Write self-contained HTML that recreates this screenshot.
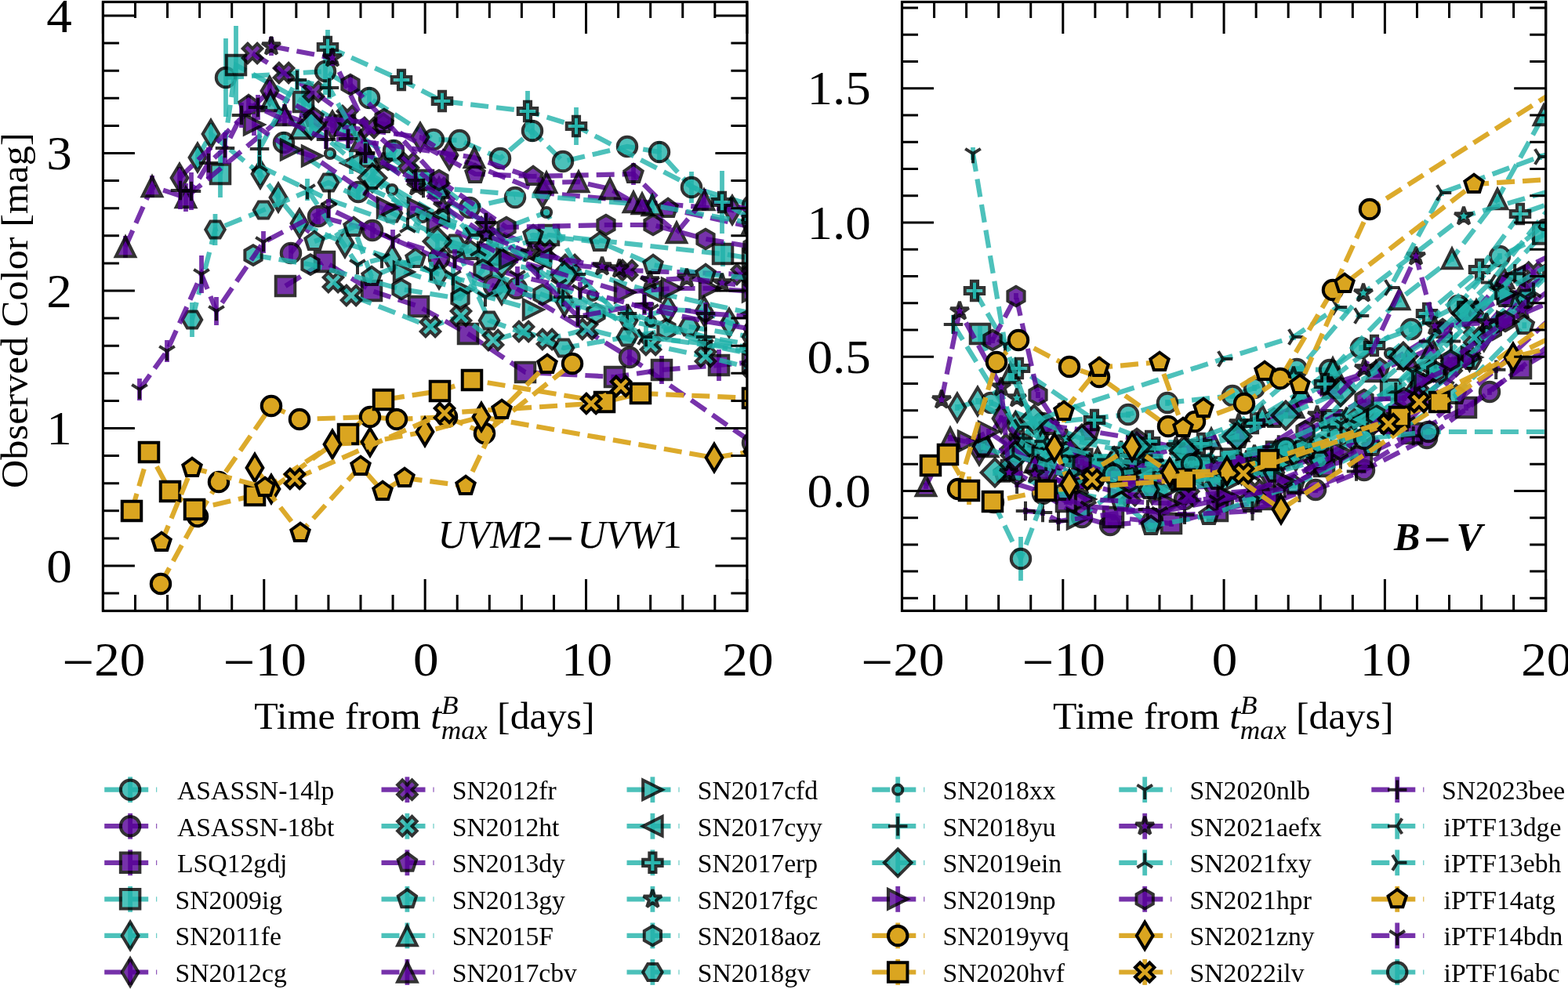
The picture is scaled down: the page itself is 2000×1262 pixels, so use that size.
<!DOCTYPE html><html><head><meta charset="utf-8"><style>html,body{margin:0;padding:0;background:#fff;}svg{display:block;}</style></head><body><svg width="2000" height="1262" viewBox="0 0 2000 1262" font-family='"Liberation Serif", "Times New Roman", serif'>
<rect width="2000" height="1262" fill="#fff"/>
<clipPath id="clipL"><rect x="131.4" y="2.5" width="821.5" height="777.0"/></clipPath>
<clipPath id="clipR"><rect x="1150.5" y="2.5" width="821.2" height="776.9"/></clipPath>
<g clip-path="url(#clipL)">
<path d="M288.0 99.0L415.0 91.0L471.0 125.0L553.0 178.0L586.0 179.0L638.0 202.0L679.0 167.0L718.0 206.0L800.0 187.0L841.0 194.0L882.0 239.0L960.0 262.0" stroke="#20b2aa" stroke-width="6.2" stroke-dasharray="23 10" fill="none" opacity="0.8"/>
<path d="M288.0 49.0V149.0M415.0 61.0V121.0M471.0 111.0V139.0M679.0 153.0V181.0M841.0 180.0V208.0M882.0 219.0V259.0" stroke="#20b2aa" stroke-width="5.8" fill="none" opacity="0.8"/>
<g opacity="0.8"><circle cx="288.0" cy="99.0" r="12.25" fill="#20b2aa" stroke="#000" stroke-width="4.0"/></g>
<g opacity="0.8"><circle cx="415.0" cy="91.0" r="12.25" fill="#20b2aa" stroke="#000" stroke-width="4.0"/></g>
<g opacity="0.8"><circle cx="471.0" cy="125.0" r="12.25" fill="#20b2aa" stroke="#000" stroke-width="4.0"/></g>
<g opacity="0.8"><circle cx="553.0" cy="178.0" r="12.25" fill="#20b2aa" stroke="#000" stroke-width="4.0"/></g>
<g opacity="0.8"><circle cx="586.0" cy="179.0" r="12.25" fill="#20b2aa" stroke="#000" stroke-width="4.0"/></g>
<g opacity="0.8"><circle cx="638.0" cy="202.0" r="12.25" fill="#20b2aa" stroke="#000" stroke-width="4.0"/></g>
<g opacity="0.8"><circle cx="679.0" cy="167.0" r="12.25" fill="#20b2aa" stroke="#000" stroke-width="4.0"/></g>
<g opacity="0.8"><circle cx="718.0" cy="206.0" r="12.25" fill="#20b2aa" stroke="#000" stroke-width="4.0"/></g>
<g opacity="0.8"><circle cx="800.0" cy="187.0" r="12.25" fill="#20b2aa" stroke="#000" stroke-width="4.0"/></g>
<g opacity="0.8"><circle cx="841.0" cy="194.0" r="12.25" fill="#20b2aa" stroke="#000" stroke-width="4.0"/></g>
<g opacity="0.8"><circle cx="882.0" cy="239.0" r="12.25" fill="#20b2aa" stroke="#000" stroke-width="4.0"/></g>
<g opacity="0.8"><circle cx="960.0" cy="262.0" r="12.25" fill="#20b2aa" stroke="#000" stroke-width="4.0"/></g>
<path d="M362.0 182.0L457.0 245.0L502.0 192.0L599.0 265.0L657.0 252.0" stroke="#20b2aa" stroke-width="6.2" stroke-dasharray="23 10" fill="none" opacity="0.8"/>
<path d="M362.0 168.0V196.0M457.0 235.0V255.0M502.0 178.0V206.0" stroke="#20b2aa" stroke-width="5.8" fill="none" opacity="0.8"/>
<g opacity="0.8"><circle cx="362.0" cy="182.0" r="12.25" fill="#20b2aa" stroke="#000" stroke-width="4.0"/></g>
<g opacity="0.8"><circle cx="457.0" cy="245.0" r="12.25" fill="#20b2aa" stroke="#000" stroke-width="4.0"/></g>
<g opacity="0.8"><circle cx="502.0" cy="192.0" r="12.25" fill="#20b2aa" stroke="#000" stroke-width="4.0"/></g>
<g opacity="0.8"><circle cx="599.0" cy="265.0" r="12.25" fill="#20b2aa" stroke="#000" stroke-width="4.0"/></g>
<g opacity="0.8"><circle cx="657.0" cy="252.0" r="12.25" fill="#20b2aa" stroke="#000" stroke-width="4.0"/></g>
<path d="M371.0 323.0L406.0 276.0L475.0 294.0L560.0 330.0L630.0 365.0L659.0 368.0L803.0 456.0L960.0 565.0" stroke="#550096" stroke-width="6.2" stroke-dasharray="23 10" fill="none" opacity="0.8"/>
<path d="M371.0 311.0V335.0M406.0 266.0V286.0M475.0 284.0V304.0M803.0 446.0V466.0" stroke="#550096" stroke-width="5.8" fill="none" opacity="0.8"/>
<g opacity="0.8"><circle cx="371.0" cy="323.0" r="12.25" fill="#550096" stroke="#000" stroke-width="4.0"/></g>
<g opacity="0.8"><circle cx="406.0" cy="276.0" r="12.25" fill="#550096" stroke="#000" stroke-width="4.0"/></g>
<g opacity="0.8"><circle cx="475.0" cy="294.0" r="12.25" fill="#550096" stroke="#000" stroke-width="4.0"/></g>
<g opacity="0.8"><circle cx="560.0" cy="330.0" r="12.25" fill="#550096" stroke="#000" stroke-width="4.0"/></g>
<g opacity="0.8"><circle cx="630.0" cy="365.0" r="12.25" fill="#550096" stroke="#000" stroke-width="4.0"/></g>
<g opacity="0.8"><circle cx="659.0" cy="368.0" r="12.25" fill="#550096" stroke="#000" stroke-width="4.0"/></g>
<g opacity="0.8"><circle cx="803.0" cy="456.0" r="12.25" fill="#550096" stroke="#000" stroke-width="4.0"/></g>
<g opacity="0.8"><circle cx="960.0" cy="565.0" r="12.25" fill="#550096" stroke="#000" stroke-width="4.0"/></g>
<path d="M364.0 365.0L414.0 334.0L474.0 371.0L534.0 391.0L597.0 426.0L670.0 475.0L784.0 481.0L844.0 472.0L917.0 466.0L960.0 462.0" stroke="#550096" stroke-width="6.2" stroke-dasharray="23 10" fill="none" opacity="0.8"/>
<path d="M844.0 454.0V490.0M917.0 446.0V486.0" stroke="#550096" stroke-width="5.8" fill="none" opacity="0.8"/>
<g opacity="0.8"><path transform="translate(364.0 365.0)" d="M-12.25 -12.25L12.25 -12.25L12.25 12.25L-12.25 12.25Z" fill="#550096" stroke="#000" stroke-width="4.0" stroke-linejoin="miter"/></g>
<g opacity="0.8"><path transform="translate(414.0 334.0)" d="M-12.25 -12.25L12.25 -12.25L12.25 12.25L-12.25 12.25Z" fill="#550096" stroke="#000" stroke-width="4.0" stroke-linejoin="miter"/></g>
<g opacity="0.8"><path transform="translate(474.0 371.0)" d="M-12.25 -12.25L12.25 -12.25L12.25 12.25L-12.25 12.25Z" fill="#550096" stroke="#000" stroke-width="4.0" stroke-linejoin="miter"/></g>
<g opacity="0.8"><path transform="translate(534.0 391.0)" d="M-12.25 -12.25L12.25 -12.25L12.25 12.25L-12.25 12.25Z" fill="#550096" stroke="#000" stroke-width="4.0" stroke-linejoin="miter"/></g>
<g opacity="0.8"><path transform="translate(597.0 426.0)" d="M-12.25 -12.25L12.25 -12.25L12.25 12.25L-12.25 12.25Z" fill="#550096" stroke="#000" stroke-width="4.0" stroke-linejoin="miter"/></g>
<g opacity="0.8"><path transform="translate(670.0 475.0)" d="M-12.25 -12.25L12.25 -12.25L12.25 12.25L-12.25 12.25Z" fill="#550096" stroke="#000" stroke-width="4.0" stroke-linejoin="miter"/></g>
<g opacity="0.8"><path transform="translate(784.0 481.0)" d="M-12.25 -12.25L12.25 -12.25L12.25 12.25L-12.25 12.25Z" fill="#550096" stroke="#000" stroke-width="4.0" stroke-linejoin="miter"/></g>
<g opacity="0.8"><path transform="translate(844.0 472.0)" d="M-12.25 -12.25L12.25 -12.25L12.25 12.25L-12.25 12.25Z" fill="#550096" stroke="#000" stroke-width="4.0" stroke-linejoin="miter"/></g>
<g opacity="0.8"><path transform="translate(917.0 466.0)" d="M-12.25 -12.25L12.25 -12.25L12.25 12.25L-12.25 12.25Z" fill="#550096" stroke="#000" stroke-width="4.0" stroke-linejoin="miter"/></g>
<g opacity="0.8"><path transform="translate(960.0 462.0)" d="M-12.25 -12.25L12.25 -12.25L12.25 12.25L-12.25 12.25Z" fill="#550096" stroke="#000" stroke-width="4.0" stroke-linejoin="miter"/></g>
<path d="M281.0 222.0L301.0 83.0L387.0 130.0L440.0 160.0L540.0 230.0L622.0 325.0L700.0 300.0L922.0 324.0L960.0 330.0" stroke="#20b2aa" stroke-width="6.2" stroke-dasharray="23 10" fill="none" opacity="0.8"/>
<path d="M281.0 192.0V252.0M301.0 33.0V133.0M387.0 110.0V150.0M440.0 146.0V174.0M922.0 308.0V340.0" stroke="#20b2aa" stroke-width="5.8" fill="none" opacity="0.8"/>
<g opacity="0.8"><path transform="translate(281.0 222.0)" d="M-12.25 -12.25L12.25 -12.25L12.25 12.25L-12.25 12.25Z" fill="#20b2aa" stroke="#000" stroke-width="4.0" stroke-linejoin="miter"/></g>
<g opacity="0.8"><path transform="translate(301.0 83.0)" d="M-12.25 -12.25L12.25 -12.25L12.25 12.25L-12.25 12.25Z" fill="#20b2aa" stroke="#000" stroke-width="4.0" stroke-linejoin="miter"/></g>
<g opacity="0.8"><path transform="translate(387.0 130.0)" d="M-12.25 -12.25L12.25 -12.25L12.25 12.25L-12.25 12.25Z" fill="#20b2aa" stroke="#000" stroke-width="4.0" stroke-linejoin="miter"/></g>
<g opacity="0.8"><path transform="translate(440.0 160.0)" d="M-12.25 -12.25L12.25 -12.25L12.25 12.25L-12.25 12.25Z" fill="#20b2aa" stroke="#000" stroke-width="4.0" stroke-linejoin="miter"/></g>
<g opacity="0.8"><path transform="translate(540.0 230.0)" d="M-12.25 -12.25L12.25 -12.25L12.25 12.25L-12.25 12.25Z" fill="#20b2aa" stroke="#000" stroke-width="4.0" stroke-linejoin="miter"/></g>
<g opacity="0.8"><path transform="translate(622.0 325.0)" d="M-12.25 -12.25L12.25 -12.25L12.25 12.25L-12.25 12.25Z" fill="#20b2aa" stroke="#000" stroke-width="4.0" stroke-linejoin="miter"/></g>
<g opacity="0.8"><path transform="translate(700.0 300.0)" d="M-12.25 -12.25L12.25 -12.25L12.25 12.25L-12.25 12.25Z" fill="#20b2aa" stroke="#000" stroke-width="4.0" stroke-linejoin="miter"/></g>
<g opacity="0.8"><path transform="translate(922.0 324.0)" d="M-12.25 -12.25L12.25 -12.25L12.25 12.25L-12.25 12.25Z" fill="#20b2aa" stroke="#000" stroke-width="4.0" stroke-linejoin="miter"/></g>
<g opacity="0.8"><path transform="translate(960.0 330.0)" d="M-12.25 -12.25L12.25 -12.25L12.25 12.25L-12.25 12.25Z" fill="#20b2aa" stroke="#000" stroke-width="4.0" stroke-linejoin="miter"/></g>
<path d="M252.0 201.0L269.0 171.0L332.0 222.0L355.0 252.0L382.0 285.0L440.0 310.0L500.0 330.0L560.0 350.0L640.0 370.0L720.0 385.0L802.0 409.0L852.0 395.0L898.0 397.0L930.0 412.0L960.0 420.0" stroke="#20b2aa" stroke-width="6.2" stroke-dasharray="23 10" fill="none" opacity="0.8"/>
<path d="M252.0 187.0V215.0M269.0 157.0V185.0M332.0 208.0V236.0M355.0 240.0V264.0M382.0 273.0V297.0" stroke="#20b2aa" stroke-width="5.8" fill="none" opacity="0.8"/>
<g opacity="0.8"><path transform="translate(252.0 201.0)" d="M0.00 -17.32L10.39 0.00L0.00 17.32L-10.39 0.00Z" fill="#20b2aa" stroke="#000" stroke-width="4.0" stroke-linejoin="miter"/></g>
<g opacity="0.8"><path transform="translate(269.0 171.0)" d="M0.00 -17.32L10.39 0.00L0.00 17.32L-10.39 0.00Z" fill="#20b2aa" stroke="#000" stroke-width="4.0" stroke-linejoin="miter"/></g>
<g opacity="0.8"><path transform="translate(332.0 222.0)" d="M0.00 -17.32L10.39 0.00L0.00 17.32L-10.39 0.00Z" fill="#20b2aa" stroke="#000" stroke-width="4.0" stroke-linejoin="miter"/></g>
<g opacity="0.8"><path transform="translate(355.0 252.0)" d="M0.00 -17.32L10.39 0.00L0.00 17.32L-10.39 0.00Z" fill="#20b2aa" stroke="#000" stroke-width="4.0" stroke-linejoin="miter"/></g>
<g opacity="0.8"><path transform="translate(382.0 285.0)" d="M0.00 -17.32L10.39 0.00L0.00 17.32L-10.39 0.00Z" fill="#20b2aa" stroke="#000" stroke-width="4.0" stroke-linejoin="miter"/></g>
<g opacity="0.8"><path transform="translate(440.0 310.0)" d="M0.00 -17.32L10.39 0.00L0.00 17.32L-10.39 0.00Z" fill="#20b2aa" stroke="#000" stroke-width="4.0" stroke-linejoin="miter"/></g>
<g opacity="0.8"><path transform="translate(500.0 330.0)" d="M0.00 -17.32L10.39 0.00L0.00 17.32L-10.39 0.00Z" fill="#20b2aa" stroke="#000" stroke-width="4.0" stroke-linejoin="miter"/></g>
<g opacity="0.8"><path transform="translate(560.0 350.0)" d="M0.00 -17.32L10.39 0.00L0.00 17.32L-10.39 0.00Z" fill="#20b2aa" stroke="#000" stroke-width="4.0" stroke-linejoin="miter"/></g>
<g opacity="0.8"><path transform="translate(640.0 370.0)" d="M0.00 -17.32L10.39 0.00L0.00 17.32L-10.39 0.00Z" fill="#20b2aa" stroke="#000" stroke-width="4.0" stroke-linejoin="miter"/></g>
<g opacity="0.8"><path transform="translate(720.0 385.0)" d="M0.00 -17.32L10.39 0.00L0.00 17.32L-10.39 0.00Z" fill="#20b2aa" stroke="#000" stroke-width="4.0" stroke-linejoin="miter"/></g>
<g opacity="0.8"><path transform="translate(802.0 409.0)" d="M0.00 -17.32L10.39 0.00L0.00 17.32L-10.39 0.00Z" fill="#20b2aa" stroke="#000" stroke-width="4.0" stroke-linejoin="miter"/></g>
<g opacity="0.8"><path transform="translate(852.0 395.0)" d="M0.00 -17.32L10.39 0.00L0.00 17.32L-10.39 0.00Z" fill="#20b2aa" stroke="#000" stroke-width="4.0" stroke-linejoin="miter"/></g>
<g opacity="0.8"><path transform="translate(898.0 397.0)" d="M0.00 -17.32L10.39 0.00L0.00 17.32L-10.39 0.00Z" fill="#20b2aa" stroke="#000" stroke-width="4.0" stroke-linejoin="miter"/></g>
<g opacity="0.8"><path transform="translate(930.0 412.0)" d="M0.00 -17.32L10.39 0.00L0.00 17.32L-10.39 0.00Z" fill="#20b2aa" stroke="#000" stroke-width="4.0" stroke-linejoin="miter"/></g>
<g opacity="0.8"><path transform="translate(960.0 420.0)" d="M0.00 -17.32L10.39 0.00L0.00 17.32L-10.39 0.00Z" fill="#20b2aa" stroke="#000" stroke-width="4.0" stroke-linejoin="miter"/></g>
<path d="M229.0 227.0L344.0 116.0L424.0 160.0L536.0 175.0L573.0 198.0L692.0 246.0L934.0 268.0L960.0 280.0" stroke="#550096" stroke-width="6.2" stroke-dasharray="23 10" fill="none" opacity="0.8"/>
<path d="M229.0 213.0V241.0M344.0 102.0V130.0M424.0 150.0V170.0" stroke="#550096" stroke-width="5.8" fill="none" opacity="0.8"/>
<g opacity="0.8"><path transform="translate(229.0 227.0)" d="M0.00 -17.32L10.39 0.00L0.00 17.32L-10.39 0.00Z" fill="#550096" stroke="#000" stroke-width="4.0" stroke-linejoin="miter"/></g>
<g opacity="0.8"><path transform="translate(344.0 116.0)" d="M0.00 -17.32L10.39 0.00L0.00 17.32L-10.39 0.00Z" fill="#550096" stroke="#000" stroke-width="4.0" stroke-linejoin="miter"/></g>
<g opacity="0.8"><path transform="translate(424.0 160.0)" d="M0.00 -17.32L10.39 0.00L0.00 17.32L-10.39 0.00Z" fill="#550096" stroke="#000" stroke-width="4.0" stroke-linejoin="miter"/></g>
<g opacity="0.8"><path transform="translate(536.0 175.0)" d="M0.00 -17.32L10.39 0.00L0.00 17.32L-10.39 0.00Z" fill="#550096" stroke="#000" stroke-width="4.0" stroke-linejoin="miter"/></g>
<g opacity="0.8"><path transform="translate(573.0 198.0)" d="M0.00 -17.32L10.39 0.00L0.00 17.32L-10.39 0.00Z" fill="#550096" stroke="#000" stroke-width="4.0" stroke-linejoin="miter"/></g>
<g opacity="0.8"><path transform="translate(692.0 246.0)" d="M0.00 -17.32L10.39 0.00L0.00 17.32L-10.39 0.00Z" fill="#550096" stroke="#000" stroke-width="4.0" stroke-linejoin="miter"/></g>
<g opacity="0.8"><path transform="translate(934.0 268.0)" d="M0.00 -17.32L10.39 0.00L0.00 17.32L-10.39 0.00Z" fill="#550096" stroke="#000" stroke-width="4.0" stroke-linejoin="miter"/></g>
<g opacity="0.8"><path transform="translate(960.0 280.0)" d="M0.00 -17.32L10.39 0.00L0.00 17.32L-10.39 0.00Z" fill="#550096" stroke="#000" stroke-width="4.0" stroke-linejoin="miter"/></g>
<path d="M322.0 68.0L362.0 93.0L400.0 117.0L443.0 148.0L471.0 163.0L521.0 208.0L560.0 240.0L620.0 290.0L695.0 320.0L727.0 338.0L800.0 345.0L946.0 350.0L960.0 352.0" stroke="#550096" stroke-width="6.2" stroke-dasharray="23 10" fill="none" opacity="0.8"/>
<g opacity="0.8"><path transform="translate(322.0 68.0)" d="M-6.12 -12.25L0.00 -6.12L6.12 -12.25L12.25 -6.12L6.12 0.00L12.25 6.12L6.12 12.25L0.00 6.12L-6.12 12.25L-12.25 6.12L-6.12 0.00L-12.25 -6.12Z" fill="#550096" stroke="#000" stroke-width="4.0" stroke-linejoin="miter"/></g>
<g opacity="0.8"><path transform="translate(362.0 93.0)" d="M-6.12 -12.25L0.00 -6.12L6.12 -12.25L12.25 -6.12L6.12 0.00L12.25 6.12L6.12 12.25L0.00 6.12L-6.12 12.25L-12.25 6.12L-6.12 0.00L-12.25 -6.12Z" fill="#550096" stroke="#000" stroke-width="4.0" stroke-linejoin="miter"/></g>
<g opacity="0.8"><path transform="translate(400.0 117.0)" d="M-6.12 -12.25L0.00 -6.12L6.12 -12.25L12.25 -6.12L6.12 0.00L12.25 6.12L6.12 12.25L0.00 6.12L-6.12 12.25L-12.25 6.12L-6.12 0.00L-12.25 -6.12Z" fill="#550096" stroke="#000" stroke-width="4.0" stroke-linejoin="miter"/></g>
<g opacity="0.8"><path transform="translate(443.0 148.0)" d="M-6.12 -12.25L0.00 -6.12L6.12 -12.25L12.25 -6.12L6.12 0.00L12.25 6.12L6.12 12.25L0.00 6.12L-6.12 12.25L-12.25 6.12L-6.12 0.00L-12.25 -6.12Z" fill="#550096" stroke="#000" stroke-width="4.0" stroke-linejoin="miter"/></g>
<g opacity="0.8"><path transform="translate(471.0 163.0)" d="M-6.12 -12.25L0.00 -6.12L6.12 -12.25L12.25 -6.12L6.12 0.00L12.25 6.12L6.12 12.25L0.00 6.12L-6.12 12.25L-12.25 6.12L-6.12 0.00L-12.25 -6.12Z" fill="#550096" stroke="#000" stroke-width="4.0" stroke-linejoin="miter"/></g>
<g opacity="0.8"><path transform="translate(521.0 208.0)" d="M-6.12 -12.25L0.00 -6.12L6.12 -12.25L12.25 -6.12L6.12 0.00L12.25 6.12L6.12 12.25L0.00 6.12L-6.12 12.25L-12.25 6.12L-6.12 0.00L-12.25 -6.12Z" fill="#550096" stroke="#000" stroke-width="4.0" stroke-linejoin="miter"/></g>
<g opacity="0.8"><path transform="translate(560.0 240.0)" d="M-6.12 -12.25L0.00 -6.12L6.12 -12.25L12.25 -6.12L6.12 0.00L12.25 6.12L6.12 12.25L0.00 6.12L-6.12 12.25L-12.25 6.12L-6.12 0.00L-12.25 -6.12Z" fill="#550096" stroke="#000" stroke-width="4.0" stroke-linejoin="miter"/></g>
<g opacity="0.8"><path transform="translate(620.0 290.0)" d="M-6.12 -12.25L0.00 -6.12L6.12 -12.25L12.25 -6.12L6.12 0.00L12.25 6.12L6.12 12.25L0.00 6.12L-6.12 12.25L-12.25 6.12L-6.12 0.00L-12.25 -6.12Z" fill="#550096" stroke="#000" stroke-width="4.0" stroke-linejoin="miter"/></g>
<g opacity="0.8"><path transform="translate(695.0 320.0)" d="M-6.12 -12.25L0.00 -6.12L6.12 -12.25L12.25 -6.12L6.12 0.00L12.25 6.12L6.12 12.25L0.00 6.12L-6.12 12.25L-12.25 6.12L-6.12 0.00L-12.25 -6.12Z" fill="#550096" stroke="#000" stroke-width="4.0" stroke-linejoin="miter"/></g>
<g opacity="0.8"><path transform="translate(727.0 338.0)" d="M-6.12 -12.25L0.00 -6.12L6.12 -12.25L12.25 -6.12L6.12 0.00L12.25 6.12L6.12 12.25L0.00 6.12L-6.12 12.25L-12.25 6.12L-6.12 0.00L-12.25 -6.12Z" fill="#550096" stroke="#000" stroke-width="4.0" stroke-linejoin="miter"/></g>
<g opacity="0.8"><path transform="translate(800.0 345.0)" d="M-6.12 -12.25L0.00 -6.12L6.12 -12.25L12.25 -6.12L6.12 0.00L12.25 6.12L6.12 12.25L0.00 6.12L-6.12 12.25L-12.25 6.12L-6.12 0.00L-12.25 -6.12Z" fill="#550096" stroke="#000" stroke-width="4.0" stroke-linejoin="miter"/></g>
<g opacity="0.8"><path transform="translate(946.0 350.0)" d="M-6.12 -12.25L0.00 -6.12L6.12 -12.25L12.25 -6.12L6.12 0.00L12.25 6.12L6.12 12.25L0.00 6.12L-6.12 12.25L-12.25 6.12L-6.12 0.00L-12.25 -6.12Z" fill="#550096" stroke="#000" stroke-width="4.0" stroke-linejoin="miter"/></g>
<g opacity="0.8"><path transform="translate(960.0 352.0)" d="M-6.12 -12.25L0.00 -6.12L6.12 -12.25L12.25 -6.12L6.12 0.00L12.25 6.12L6.12 12.25L0.00 6.12L-6.12 12.25L-12.25 6.12L-6.12 0.00L-12.25 -6.12Z" fill="#550096" stroke="#000" stroke-width="4.0" stroke-linejoin="miter"/></g>
<path d="M425.0 360.0L448.0 377.0L549.0 417.0L588.0 403.0L629.0 434.0L668.0 423.0L698.0 433.0L749.0 420.0L830.0 440.0L900.0 455.0L960.0 470.0" stroke="#20b2aa" stroke-width="6.2" stroke-dasharray="23 10" fill="none" opacity="0.8"/>
<g opacity="0.8"><path transform="translate(425.0 360.0)" d="M-6.12 -12.25L0.00 -6.12L6.12 -12.25L12.25 -6.12L6.12 0.00L12.25 6.12L6.12 12.25L0.00 6.12L-6.12 12.25L-12.25 6.12L-6.12 0.00L-12.25 -6.12Z" fill="#20b2aa" stroke="#000" stroke-width="4.0" stroke-linejoin="miter"/></g>
<g opacity="0.8"><path transform="translate(448.0 377.0)" d="M-6.12 -12.25L0.00 -6.12L6.12 -12.25L12.25 -6.12L6.12 0.00L12.25 6.12L6.12 12.25L0.00 6.12L-6.12 12.25L-12.25 6.12L-6.12 0.00L-12.25 -6.12Z" fill="#20b2aa" stroke="#000" stroke-width="4.0" stroke-linejoin="miter"/></g>
<g opacity="0.8"><path transform="translate(549.0 417.0)" d="M-6.12 -12.25L0.00 -6.12L6.12 -12.25L12.25 -6.12L6.12 0.00L12.25 6.12L6.12 12.25L0.00 6.12L-6.12 12.25L-12.25 6.12L-6.12 0.00L-12.25 -6.12Z" fill="#20b2aa" stroke="#000" stroke-width="4.0" stroke-linejoin="miter"/></g>
<g opacity="0.8"><path transform="translate(588.0 403.0)" d="M-6.12 -12.25L0.00 -6.12L6.12 -12.25L12.25 -6.12L6.12 0.00L12.25 6.12L6.12 12.25L0.00 6.12L-6.12 12.25L-12.25 6.12L-6.12 0.00L-12.25 -6.12Z" fill="#20b2aa" stroke="#000" stroke-width="4.0" stroke-linejoin="miter"/></g>
<g opacity="0.8"><path transform="translate(629.0 434.0)" d="M-6.12 -12.25L0.00 -6.12L6.12 -12.25L12.25 -6.12L6.12 0.00L12.25 6.12L6.12 12.25L0.00 6.12L-6.12 12.25L-12.25 6.12L-6.12 0.00L-12.25 -6.12Z" fill="#20b2aa" stroke="#000" stroke-width="4.0" stroke-linejoin="miter"/></g>
<g opacity="0.8"><path transform="translate(668.0 423.0)" d="M-6.12 -12.25L0.00 -6.12L6.12 -12.25L12.25 -6.12L6.12 0.00L12.25 6.12L6.12 12.25L0.00 6.12L-6.12 12.25L-12.25 6.12L-6.12 0.00L-12.25 -6.12Z" fill="#20b2aa" stroke="#000" stroke-width="4.0" stroke-linejoin="miter"/></g>
<g opacity="0.8"><path transform="translate(698.0 433.0)" d="M-6.12 -12.25L0.00 -6.12L6.12 -12.25L12.25 -6.12L6.12 0.00L12.25 6.12L6.12 12.25L0.00 6.12L-6.12 12.25L-12.25 6.12L-6.12 0.00L-12.25 -6.12Z" fill="#20b2aa" stroke="#000" stroke-width="4.0" stroke-linejoin="miter"/></g>
<g opacity="0.8"><path transform="translate(749.0 420.0)" d="M-6.12 -12.25L0.00 -6.12L6.12 -12.25L12.25 -6.12L6.12 0.00L12.25 6.12L6.12 12.25L0.00 6.12L-6.12 12.25L-12.25 6.12L-6.12 0.00L-12.25 -6.12Z" fill="#20b2aa" stroke="#000" stroke-width="4.0" stroke-linejoin="miter"/></g>
<g opacity="0.8"><path transform="translate(830.0 440.0)" d="M-6.12 -12.25L0.00 -6.12L6.12 -12.25L12.25 -6.12L6.12 0.00L12.25 6.12L6.12 12.25L0.00 6.12L-6.12 12.25L-12.25 6.12L-6.12 0.00L-12.25 -6.12Z" fill="#20b2aa" stroke="#000" stroke-width="4.0" stroke-linejoin="miter"/></g>
<g opacity="0.8"><path transform="translate(900.0 455.0)" d="M-6.12 -12.25L0.00 -6.12L6.12 -12.25L12.25 -6.12L6.12 0.00L12.25 6.12L6.12 12.25L0.00 6.12L-6.12 12.25L-12.25 6.12L-6.12 0.00L-12.25 -6.12Z" fill="#20b2aa" stroke="#000" stroke-width="4.0" stroke-linejoin="miter"/></g>
<g opacity="0.8"><path transform="translate(960.0 470.0)" d="M-6.12 -12.25L0.00 -6.12L6.12 -12.25L12.25 -6.12L6.12 0.00L12.25 6.12L6.12 12.25L0.00 6.12L-6.12 12.25L-12.25 6.12L-6.12 0.00L-12.25 -6.12Z" fill="#20b2aa" stroke="#000" stroke-width="4.0" stroke-linejoin="miter"/></g>
<path d="M317.0 134.0L400.0 150.0L489.0 158.0L606.0 222.0L680.0 225.0L808.0 222.0L852.0 266.0L960.0 290.0" stroke="#550096" stroke-width="6.2" stroke-dasharray="23 10" fill="none" opacity="0.8"/>
<path d="M317.0 122.0V146.0M808.0 208.0V236.0" stroke="#550096" stroke-width="5.8" fill="none" opacity="0.8"/>
<g opacity="0.8"><path transform="translate(317.0 134.0)" d="M0.00 -12.25L-11.65 -3.79L-7.20 9.91L7.20 9.91L11.65 -3.79Z" fill="#550096" stroke="#000" stroke-width="4.0" stroke-linejoin="miter"/></g>
<g opacity="0.8"><path transform="translate(400.0 150.0)" d="M0.00 -12.25L-11.65 -3.79L-7.20 9.91L7.20 9.91L11.65 -3.79Z" fill="#550096" stroke="#000" stroke-width="4.0" stroke-linejoin="miter"/></g>
<g opacity="0.8"><path transform="translate(489.0 158.0)" d="M0.00 -12.25L-11.65 -3.79L-7.20 9.91L7.20 9.91L11.65 -3.79Z" fill="#550096" stroke="#000" stroke-width="4.0" stroke-linejoin="miter"/></g>
<g opacity="0.8"><path transform="translate(606.0 222.0)" d="M0.00 -12.25L-11.65 -3.79L-7.20 9.91L7.20 9.91L11.65 -3.79Z" fill="#550096" stroke="#000" stroke-width="4.0" stroke-linejoin="miter"/></g>
<g opacity="0.8"><path transform="translate(680.0 225.0)" d="M0.00 -12.25L-11.65 -3.79L-7.20 9.91L7.20 9.91L11.65 -3.79Z" fill="#550096" stroke="#000" stroke-width="4.0" stroke-linejoin="miter"/></g>
<g opacity="0.8"><path transform="translate(808.0 222.0)" d="M0.00 -12.25L-11.65 -3.79L-7.20 9.91L7.20 9.91L11.65 -3.79Z" fill="#550096" stroke="#000" stroke-width="4.0" stroke-linejoin="miter"/></g>
<g opacity="0.8"><path transform="translate(852.0 266.0)" d="M0.00 -12.25L-11.65 -3.79L-7.20 9.91L7.20 9.91L11.65 -3.79Z" fill="#550096" stroke="#000" stroke-width="4.0" stroke-linejoin="miter"/></g>
<g opacity="0.8"><path transform="translate(960.0 290.0)" d="M0.00 -12.25L-11.65 -3.79L-7.20 9.91L7.20 9.91L11.65 -3.79Z" fill="#550096" stroke="#000" stroke-width="4.0" stroke-linejoin="miter"/></g>
<path d="M401.0 308.0L451.0 290.0L474.0 353.0L530.0 330.0L600.0 320.0L680.0 300.0L765.0 309.0L833.0 338.0L900.0 350.0L960.0 355.0" stroke="#20b2aa" stroke-width="6.2" stroke-dasharray="23 10" fill="none" opacity="0.8"/>
<g opacity="0.8"><path transform="translate(401.0 308.0)" d="M0.00 -12.25L-11.65 -3.79L-7.20 9.91L7.20 9.91L11.65 -3.79Z" fill="#20b2aa" stroke="#000" stroke-width="4.0" stroke-linejoin="miter"/></g>
<g opacity="0.8"><path transform="translate(451.0 290.0)" d="M0.00 -12.25L-11.65 -3.79L-7.20 9.91L7.20 9.91L11.65 -3.79Z" fill="#20b2aa" stroke="#000" stroke-width="4.0" stroke-linejoin="miter"/></g>
<g opacity="0.8"><path transform="translate(474.0 353.0)" d="M0.00 -12.25L-11.65 -3.79L-7.20 9.91L7.20 9.91L11.65 -3.79Z" fill="#20b2aa" stroke="#000" stroke-width="4.0" stroke-linejoin="miter"/></g>
<g opacity="0.8"><path transform="translate(530.0 330.0)" d="M0.00 -12.25L-11.65 -3.79L-7.20 9.91L7.20 9.91L11.65 -3.79Z" fill="#20b2aa" stroke="#000" stroke-width="4.0" stroke-linejoin="miter"/></g>
<g opacity="0.8"><path transform="translate(600.0 320.0)" d="M0.00 -12.25L-11.65 -3.79L-7.20 9.91L7.20 9.91L11.65 -3.79Z" fill="#20b2aa" stroke="#000" stroke-width="4.0" stroke-linejoin="miter"/></g>
<g opacity="0.8"><path transform="translate(680.0 300.0)" d="M0.00 -12.25L-11.65 -3.79L-7.20 9.91L7.20 9.91L11.65 -3.79Z" fill="#20b2aa" stroke="#000" stroke-width="4.0" stroke-linejoin="miter"/></g>
<g opacity="0.8"><path transform="translate(765.0 309.0)" d="M0.00 -12.25L-11.65 -3.79L-7.20 9.91L7.20 9.91L11.65 -3.79Z" fill="#20b2aa" stroke="#000" stroke-width="4.0" stroke-linejoin="miter"/></g>
<g opacity="0.8"><path transform="translate(833.0 338.0)" d="M0.00 -12.25L-11.65 -3.79L-7.20 9.91L7.20 9.91L11.65 -3.79Z" fill="#20b2aa" stroke="#000" stroke-width="4.0" stroke-linejoin="miter"/></g>
<g opacity="0.8"><path transform="translate(900.0 350.0)" d="M0.00 -12.25L-11.65 -3.79L-7.20 9.91L7.20 9.91L11.65 -3.79Z" fill="#20b2aa" stroke="#000" stroke-width="4.0" stroke-linejoin="miter"/></g>
<g opacity="0.8"><path transform="translate(960.0 355.0)" d="M0.00 -12.25L-11.65 -3.79L-7.20 9.91L7.20 9.91L11.65 -3.79Z" fill="#20b2aa" stroke="#000" stroke-width="4.0" stroke-linejoin="miter"/></g>
<path d="M345.0 129.0L383.0 164.0L470.0 200.0L560.0 240.0L832.0 262.0L960.0 285.0" stroke="#20b2aa" stroke-width="6.2" stroke-dasharray="23 10" fill="none" opacity="0.8"/>
<path d="M832.0 248.0V276.0" stroke="#20b2aa" stroke-width="5.8" fill="none" opacity="0.8"/>
<g opacity="0.8"><path transform="translate(345.0 129.0)" d="M0.00 -12.25L12.25 12.25L-12.25 12.25Z" fill="#20b2aa" stroke="#000" stroke-width="4.0" stroke-linejoin="miter"/></g>
<g opacity="0.8"><path transform="translate(383.0 164.0)" d="M0.00 -12.25L12.25 12.25L-12.25 12.25Z" fill="#20b2aa" stroke="#000" stroke-width="4.0" stroke-linejoin="miter"/></g>
<g opacity="0.8"><path transform="translate(470.0 200.0)" d="M0.00 -12.25L12.25 12.25L-12.25 12.25Z" fill="#20b2aa" stroke="#000" stroke-width="4.0" stroke-linejoin="miter"/></g>
<g opacity="0.8"><path transform="translate(560.0 240.0)" d="M0.00 -12.25L12.25 12.25L-12.25 12.25Z" fill="#20b2aa" stroke="#000" stroke-width="4.0" stroke-linejoin="miter"/></g>
<g opacity="0.8"><path transform="translate(832.0 262.0)" d="M0.00 -12.25L12.25 12.25L-12.25 12.25Z" fill="#20b2aa" stroke="#000" stroke-width="4.0" stroke-linejoin="miter"/></g>
<g opacity="0.8"><path transform="translate(960.0 285.0)" d="M0.00 -12.25L12.25 12.25L-12.25 12.25Z" fill="#20b2aa" stroke="#000" stroke-width="4.0" stroke-linejoin="miter"/></g>
<path d="M160.0 315.0L194.0 238.0L237.0 252.0L363.0 147.0L460.0 180.0L605.0 201.0L697.0 233.0L738.0 232.0L778.0 241.0L808.0 258.0L819.0 260.0L863.0 297.0L898.0 255.0L960.0 268.0" stroke="#550096" stroke-width="6.2" stroke-dasharray="23 10" fill="none" opacity="0.8"/>
<path d="M160.0 301.0V329.0M194.0 224.0V252.0M237.0 234.0V270.0M363.0 133.0V161.0M898.0 241.0V269.0" stroke="#550096" stroke-width="5.8" fill="none" opacity="0.8"/>
<g opacity="0.8"><path transform="translate(160.0 315.0)" d="M0.00 -12.25L12.25 12.25L-12.25 12.25Z" fill="#550096" stroke="#000" stroke-width="4.0" stroke-linejoin="miter"/></g>
<g opacity="0.8"><path transform="translate(194.0 238.0)" d="M0.00 -12.25L12.25 12.25L-12.25 12.25Z" fill="#550096" stroke="#000" stroke-width="4.0" stroke-linejoin="miter"/></g>
<g opacity="0.8"><path transform="translate(237.0 252.0)" d="M0.00 -12.25L12.25 12.25L-12.25 12.25Z" fill="#550096" stroke="#000" stroke-width="4.0" stroke-linejoin="miter"/></g>
<g opacity="0.8"><path transform="translate(363.0 147.0)" d="M0.00 -12.25L12.25 12.25L-12.25 12.25Z" fill="#550096" stroke="#000" stroke-width="4.0" stroke-linejoin="miter"/></g>
<g opacity="0.8"><path transform="translate(460.0 180.0)" d="M0.00 -12.25L12.25 12.25L-12.25 12.25Z" fill="#550096" stroke="#000" stroke-width="4.0" stroke-linejoin="miter"/></g>
<g opacity="0.8"><path transform="translate(605.0 201.0)" d="M0.00 -12.25L12.25 12.25L-12.25 12.25Z" fill="#550096" stroke="#000" stroke-width="4.0" stroke-linejoin="miter"/></g>
<g opacity="0.8"><path transform="translate(697.0 233.0)" d="M0.00 -12.25L12.25 12.25L-12.25 12.25Z" fill="#550096" stroke="#000" stroke-width="4.0" stroke-linejoin="miter"/></g>
<g opacity="0.8"><path transform="translate(738.0 232.0)" d="M0.00 -12.25L12.25 12.25L-12.25 12.25Z" fill="#550096" stroke="#000" stroke-width="4.0" stroke-linejoin="miter"/></g>
<g opacity="0.8"><path transform="translate(778.0 241.0)" d="M0.00 -12.25L12.25 12.25L-12.25 12.25Z" fill="#550096" stroke="#000" stroke-width="4.0" stroke-linejoin="miter"/></g>
<g opacity="0.8"><path transform="translate(808.0 258.0)" d="M0.00 -12.25L12.25 12.25L-12.25 12.25Z" fill="#550096" stroke="#000" stroke-width="4.0" stroke-linejoin="miter"/></g>
<g opacity="0.8"><path transform="translate(819.0 260.0)" d="M0.00 -12.25L12.25 12.25L-12.25 12.25Z" fill="#550096" stroke="#000" stroke-width="4.0" stroke-linejoin="miter"/></g>
<g opacity="0.8"><path transform="translate(863.0 297.0)" d="M0.00 -12.25L12.25 12.25L-12.25 12.25Z" fill="#550096" stroke="#000" stroke-width="4.0" stroke-linejoin="miter"/></g>
<g opacity="0.8"><path transform="translate(898.0 255.0)" d="M0.00 -12.25L12.25 12.25L-12.25 12.25Z" fill="#550096" stroke="#000" stroke-width="4.0" stroke-linejoin="miter"/></g>
<g opacity="0.8"><path transform="translate(960.0 268.0)" d="M0.00 -12.25L12.25 12.25L-12.25 12.25Z" fill="#550096" stroke="#000" stroke-width="4.0" stroke-linejoin="miter"/></g>
<path d="M515.0 347.0L590.0 370.0L680.0 395.0" stroke="#20b2aa" stroke-width="6.2" stroke-dasharray="23 10" fill="none" opacity="0.8"/>
<g opacity="0.8"><path transform="translate(515.0 347.0)" d="M12.25 0.00L-12.25 -12.25L-12.25 12.25Z" fill="#20b2aa" stroke="#000" stroke-width="4.0" stroke-linejoin="miter"/></g>
<g opacity="0.8"><path transform="translate(590.0 370.0)" d="M12.25 0.00L-12.25 -12.25L-12.25 12.25Z" fill="#20b2aa" stroke="#000" stroke-width="4.0" stroke-linejoin="miter"/></g>
<g opacity="0.8"><path transform="translate(680.0 395.0)" d="M12.25 0.00L-12.25 -12.25L-12.25 12.25Z" fill="#20b2aa" stroke="#000" stroke-width="4.0" stroke-linejoin="miter"/></g>
<path d="M448.0 208.0L560.0 275.0L690.0 330.0L830.0 372.0L960.0 400.0" stroke="#20b2aa" stroke-width="6.2" stroke-dasharray="23 10" fill="none" opacity="0.8"/>
<path d="M448.0 194.0V222.0" stroke="#20b2aa" stroke-width="5.8" fill="none" opacity="0.8"/>
<g opacity="0.8"><path transform="translate(448.0 208.0)" d="M-12.25 0.00L12.25 -12.25L12.25 12.25Z" fill="#20b2aa" stroke="#000" stroke-width="4.0" stroke-linejoin="miter"/></g>
<g opacity="0.8"><path transform="translate(560.0 275.0)" d="M-12.25 0.00L12.25 -12.25L12.25 12.25Z" fill="#20b2aa" stroke="#000" stroke-width="4.0" stroke-linejoin="miter"/></g>
<g opacity="0.8"><path transform="translate(690.0 330.0)" d="M-12.25 0.00L12.25 -12.25L12.25 12.25Z" fill="#20b2aa" stroke="#000" stroke-width="4.0" stroke-linejoin="miter"/></g>
<g opacity="0.8"><path transform="translate(830.0 372.0)" d="M-12.25 0.00L12.25 -12.25L12.25 12.25Z" fill="#20b2aa" stroke="#000" stroke-width="4.0" stroke-linejoin="miter"/></g>
<g opacity="0.8"><path transform="translate(960.0 400.0)" d="M-12.25 0.00L12.25 -12.25L12.25 12.25Z" fill="#20b2aa" stroke="#000" stroke-width="4.0" stroke-linejoin="miter"/></g>
<path d="M418.0 60.0L512.0 102.0L564.0 129.0L673.0 142.0L735.0 161.0L921.0 258.0L960.0 280.0" stroke="#20b2aa" stroke-width="6.2" stroke-dasharray="23 10" fill="none" opacity="0.8"/>
<path d="M418.0 38.0V82.0M512.0 90.0V114.0M564.0 119.0V139.0M673.0 116.0V168.0M735.0 137.0V185.0M921.0 218.0V298.0" stroke="#20b2aa" stroke-width="5.8" fill="none" opacity="0.8"/>
<g opacity="0.8"><path transform="translate(418.0 60.0)" d="M-4.08 -12.25L4.08 -12.25L4.08 -4.08L12.25 -4.08L12.25 4.08L4.08 4.08L4.08 12.25L-4.08 12.25L-4.08 4.08L-12.25 4.08L-12.25 -4.08L-4.08 -4.08Z" fill="#20b2aa" stroke="#000" stroke-width="4.0" stroke-linejoin="miter"/></g>
<g opacity="0.8"><path transform="translate(512.0 102.0)" d="M-4.08 -12.25L4.08 -12.25L4.08 -4.08L12.25 -4.08L12.25 4.08L4.08 4.08L4.08 12.25L-4.08 12.25L-4.08 4.08L-12.25 4.08L-12.25 -4.08L-4.08 -4.08Z" fill="#20b2aa" stroke="#000" stroke-width="4.0" stroke-linejoin="miter"/></g>
<g opacity="0.8"><path transform="translate(564.0 129.0)" d="M-4.08 -12.25L4.08 -12.25L4.08 -4.08L12.25 -4.08L12.25 4.08L4.08 4.08L4.08 12.25L-4.08 12.25L-4.08 4.08L-12.25 4.08L-12.25 -4.08L-4.08 -4.08Z" fill="#20b2aa" stroke="#000" stroke-width="4.0" stroke-linejoin="miter"/></g>
<g opacity="0.8"><path transform="translate(673.0 142.0)" d="M-4.08 -12.25L4.08 -12.25L4.08 -4.08L12.25 -4.08L12.25 4.08L4.08 4.08L4.08 12.25L-4.08 12.25L-4.08 4.08L-12.25 4.08L-12.25 -4.08L-4.08 -4.08Z" fill="#20b2aa" stroke="#000" stroke-width="4.0" stroke-linejoin="miter"/></g>
<g opacity="0.8"><path transform="translate(735.0 161.0)" d="M-4.08 -12.25L4.08 -12.25L4.08 -4.08L12.25 -4.08L12.25 4.08L4.08 4.08L4.08 12.25L-4.08 12.25L-4.08 4.08L-12.25 4.08L-12.25 -4.08L-4.08 -4.08Z" fill="#20b2aa" stroke="#000" stroke-width="4.0" stroke-linejoin="miter"/></g>
<g opacity="0.8"><path transform="translate(921.0 258.0)" d="M-4.08 -12.25L4.08 -12.25L4.08 -4.08L12.25 -4.08L12.25 4.08L4.08 4.08L4.08 12.25L-4.08 12.25L-4.08 4.08L-12.25 4.08L-12.25 -4.08L-4.08 -4.08Z" fill="#20b2aa" stroke="#000" stroke-width="4.0" stroke-linejoin="miter"/></g>
<g opacity="0.8"><path transform="translate(960.0 280.0)" d="M-4.08 -12.25L4.08 -12.25L4.08 -4.08L12.25 -4.08L12.25 4.08L4.08 4.08L4.08 12.25L-4.08 12.25L-4.08 4.08L-12.25 4.08L-12.25 -4.08L-4.08 -4.08Z" fill="#20b2aa" stroke="#000" stroke-width="4.0" stroke-linejoin="miter"/></g>
<path d="M323.0 325.6L396.0 337.6L512.0 369.0L587.0 381.0L616.0 344.0L692.0 376.0L760.0 400.0L850.0 420.0L960.0 445.0" stroke="#20b2aa" stroke-width="6.2" stroke-dasharray="23 10" fill="none" opacity="0.8"/>
<g opacity="0.8"><path transform="translate(323.0 325.6)" d="M0.00 -12.25L-10.61 -6.12L-10.61 6.13L-0.00 12.25L10.61 6.13L10.61 -6.12Z" fill="#20b2aa" stroke="#000" stroke-width="4.0" stroke-linejoin="miter"/></g>
<g opacity="0.8"><path transform="translate(396.0 337.6)" d="M0.00 -12.25L-10.61 -6.12L-10.61 6.13L-0.00 12.25L10.61 6.13L10.61 -6.12Z" fill="#20b2aa" stroke="#000" stroke-width="4.0" stroke-linejoin="miter"/></g>
<g opacity="0.8"><path transform="translate(512.0 369.0)" d="M0.00 -12.25L-10.61 -6.12L-10.61 6.13L-0.00 12.25L10.61 6.13L10.61 -6.12Z" fill="#20b2aa" stroke="#000" stroke-width="4.0" stroke-linejoin="miter"/></g>
<g opacity="0.8"><path transform="translate(587.0 381.0)" d="M0.00 -12.25L-10.61 -6.12L-10.61 6.13L-0.00 12.25L10.61 6.13L10.61 -6.12Z" fill="#20b2aa" stroke="#000" stroke-width="4.0" stroke-linejoin="miter"/></g>
<g opacity="0.8"><path transform="translate(616.0 344.0)" d="M0.00 -12.25L-10.61 -6.12L-10.61 6.13L-0.00 12.25L10.61 6.13L10.61 -6.12Z" fill="#20b2aa" stroke="#000" stroke-width="4.0" stroke-linejoin="miter"/></g>
<g opacity="0.8"><path transform="translate(692.0 376.0)" d="M0.00 -12.25L-10.61 -6.12L-10.61 6.13L-0.00 12.25L10.61 6.13L10.61 -6.12Z" fill="#20b2aa" stroke="#000" stroke-width="4.0" stroke-linejoin="miter"/></g>
<g opacity="0.8"><path transform="translate(760.0 400.0)" d="M0.00 -12.25L-10.61 -6.12L-10.61 6.13L-0.00 12.25L10.61 6.13L10.61 -6.12Z" fill="#20b2aa" stroke="#000" stroke-width="4.0" stroke-linejoin="miter"/></g>
<g opacity="0.8"><path transform="translate(850.0 420.0)" d="M0.00 -12.25L-10.61 -6.12L-10.61 6.13L-0.00 12.25L10.61 6.13L10.61 -6.12Z" fill="#20b2aa" stroke="#000" stroke-width="4.0" stroke-linejoin="miter"/></g>
<g opacity="0.8"><path transform="translate(960.0 445.0)" d="M0.00 -12.25L-10.61 -6.12L-10.61 6.13L-0.00 12.25L10.61 6.13L10.61 -6.12Z" fill="#20b2aa" stroke="#000" stroke-width="4.0" stroke-linejoin="miter"/></g>
<path d="M245.0 408.0L274.5 293.0L336.0 268.0L419.0 233.0L500.0 272.0L580.0 311.0L624.0 409.0L719.0 444.0L800.0 430.0L879.0 417.0L960.0 430.0" stroke="#20b2aa" stroke-width="6.2" stroke-dasharray="23 10" fill="none" opacity="0.8"/>
<path d="M245.0 386.0V430.0M274.5 273.0V313.0" stroke="#20b2aa" stroke-width="5.8" fill="none" opacity="0.8"/>
<g opacity="0.8"><path transform="translate(245.0 408.0)" d="M-6.12 -10.61L-12.25 -0.00L-6.13 10.61L6.13 10.61L12.25 0.00L6.12 -10.61Z" fill="#20b2aa" stroke="#000" stroke-width="4.0" stroke-linejoin="miter"/></g>
<g opacity="0.8"><path transform="translate(274.5 293.0)" d="M-6.12 -10.61L-12.25 -0.00L-6.13 10.61L6.13 10.61L12.25 0.00L6.12 -10.61Z" fill="#20b2aa" stroke="#000" stroke-width="4.0" stroke-linejoin="miter"/></g>
<g opacity="0.8"><path transform="translate(336.0 268.0)" d="M-6.12 -10.61L-12.25 -0.00L-6.13 10.61L6.13 10.61L12.25 0.00L6.12 -10.61Z" fill="#20b2aa" stroke="#000" stroke-width="4.0" stroke-linejoin="miter"/></g>
<g opacity="0.8"><path transform="translate(419.0 233.0)" d="M-6.12 -10.61L-12.25 -0.00L-6.13 10.61L6.13 10.61L12.25 0.00L6.12 -10.61Z" fill="#20b2aa" stroke="#000" stroke-width="4.0" stroke-linejoin="miter"/></g>
<g opacity="0.8"><path transform="translate(500.0 272.0)" d="M-6.12 -10.61L-12.25 -0.00L-6.13 10.61L6.13 10.61L12.25 0.00L6.12 -10.61Z" fill="#20b2aa" stroke="#000" stroke-width="4.0" stroke-linejoin="miter"/></g>
<g opacity="0.8"><path transform="translate(580.0 311.0)" d="M-6.12 -10.61L-12.25 -0.00L-6.13 10.61L6.13 10.61L12.25 0.00L6.12 -10.61Z" fill="#20b2aa" stroke="#000" stroke-width="4.0" stroke-linejoin="miter"/></g>
<g opacity="0.8"><path transform="translate(624.0 409.0)" d="M-6.12 -10.61L-12.25 -0.00L-6.13 10.61L6.13 10.61L12.25 0.00L6.12 -10.61Z" fill="#20b2aa" stroke="#000" stroke-width="4.0" stroke-linejoin="miter"/></g>
<g opacity="0.8"><path transform="translate(719.0 444.0)" d="M-6.12 -10.61L-12.25 -0.00L-6.13 10.61L6.13 10.61L12.25 0.00L6.12 -10.61Z" fill="#20b2aa" stroke="#000" stroke-width="4.0" stroke-linejoin="miter"/></g>
<g opacity="0.8"><path transform="translate(800.0 430.0)" d="M-6.12 -10.61L-12.25 -0.00L-6.13 10.61L6.13 10.61L12.25 0.00L6.12 -10.61Z" fill="#20b2aa" stroke="#000" stroke-width="4.0" stroke-linejoin="miter"/></g>
<g opacity="0.8"><path transform="translate(879.0 417.0)" d="M-6.12 -10.61L-12.25 -0.00L-6.13 10.61L6.13 10.61L12.25 0.00L6.12 -10.61Z" fill="#20b2aa" stroke="#000" stroke-width="4.0" stroke-linejoin="miter"/></g>
<g opacity="0.8"><path transform="translate(960.0 430.0)" d="M-6.12 -10.61L-12.25 -0.00L-6.13 10.61L6.13 10.61L12.25 0.00L6.12 -10.61Z" fill="#20b2aa" stroke="#000" stroke-width="4.0" stroke-linejoin="miter"/></g>
<path d="M421.0 196.0L500.0 242.0L539.0 277.0L620.0 300.0L697.0 271.0L756.0 377.0L830.0 410.0L901.0 439.0L960.0 450.0" stroke="#20b2aa" stroke-width="6.2" stroke-dasharray="23 10" fill="none" opacity="0.8"/>
<g opacity="0.8"><circle cx="421.0" cy="196.0" r="6.12" fill="#20b2aa" stroke="#000" stroke-width="4.0"/></g>
<g opacity="0.8"><circle cx="500.0" cy="242.0" r="6.12" fill="#20b2aa" stroke="#000" stroke-width="4.0"/></g>
<g opacity="0.8"><circle cx="539.0" cy="277.0" r="6.12" fill="#20b2aa" stroke="#000" stroke-width="4.0"/></g>
<g opacity="0.8"><circle cx="620.0" cy="300.0" r="6.12" fill="#20b2aa" stroke="#000" stroke-width="4.0"/></g>
<g opacity="0.8"><circle cx="697.0" cy="271.0" r="6.12" fill="#20b2aa" stroke="#000" stroke-width="4.0"/></g>
<g opacity="0.8"><circle cx="756.0" cy="377.0" r="6.12" fill="#20b2aa" stroke="#000" stroke-width="4.0"/></g>
<g opacity="0.8"><circle cx="830.0" cy="410.0" r="6.12" fill="#20b2aa" stroke="#000" stroke-width="4.0"/></g>
<g opacity="0.8"><circle cx="901.0" cy="439.0" r="6.12" fill="#20b2aa" stroke="#000" stroke-width="4.0"/></g>
<g opacity="0.8"><circle cx="960.0" cy="450.0" r="6.12" fill="#20b2aa" stroke="#000" stroke-width="4.0"/></g>
<path d="M331.0 190.0L379.0 102.0L420.0 112.0L466.0 195.0L540.0 240.0L620.0 284.0L718.0 379.0L800.0 400.0L900.0 430.0L960.0 440.0" stroke="#20b2aa" stroke-width="6.2" stroke-dasharray="23 10" fill="none" opacity="0.8"/>
<path d="M331.0 160.0V220.0M379.0 88.0V116.0M420.0 98.0V126.0M466.0 181.0V209.0M620.0 272.0V296.0M718.0 367.0V391.0" stroke="#20b2aa" stroke-width="5.8" fill="none" opacity="0.8"/>
<g opacity="0.8"><path transform="translate(331.0 190.0)" d="M-12.25 0H12.25M0 -12.25V12.25" fill="none" stroke="#000" stroke-width="4.0"/></g>
<g opacity="0.8"><path transform="translate(379.0 102.0)" d="M-12.25 0H12.25M0 -12.25V12.25" fill="none" stroke="#000" stroke-width="4.0"/></g>
<g opacity="0.8"><path transform="translate(420.0 112.0)" d="M-12.25 0H12.25M0 -12.25V12.25" fill="none" stroke="#000" stroke-width="4.0"/></g>
<g opacity="0.8"><path transform="translate(466.0 195.0)" d="M-12.25 0H12.25M0 -12.25V12.25" fill="none" stroke="#000" stroke-width="4.0"/></g>
<g opacity="0.8"><path transform="translate(540.0 240.0)" d="M-12.25 0H12.25M0 -12.25V12.25" fill="none" stroke="#000" stroke-width="4.0"/></g>
<g opacity="0.8"><path transform="translate(620.0 284.0)" d="M-12.25 0H12.25M0 -12.25V12.25" fill="none" stroke="#000" stroke-width="4.0"/></g>
<g opacity="0.8"><path transform="translate(718.0 379.0)" d="M-12.25 0H12.25M0 -12.25V12.25" fill="none" stroke="#000" stroke-width="4.0"/></g>
<g opacity="0.8"><path transform="translate(800.0 400.0)" d="M-12.25 0H12.25M0 -12.25V12.25" fill="none" stroke="#000" stroke-width="4.0"/></g>
<g opacity="0.8"><path transform="translate(900.0 430.0)" d="M-12.25 0H12.25M0 -12.25V12.25" fill="none" stroke="#000" stroke-width="4.0"/></g>
<g opacity="0.8"><path transform="translate(960.0 440.0)" d="M-12.25 0H12.25M0 -12.25V12.25" fill="none" stroke="#000" stroke-width="4.0"/></g>
<path d="M397.0 160.0L475.0 227.0L558.0 308.0L640.0 335.0L720.0 352.0" stroke="#20b2aa" stroke-width="6.2" stroke-dasharray="23 10" fill="none" opacity="0.8"/>
<path d="M397.0 146.0V174.0M475.0 215.0V239.0M558.0 298.0V318.0" stroke="#20b2aa" stroke-width="5.8" fill="none" opacity="0.8"/>
<g opacity="0.8"><path transform="translate(397.0 160.0)" d="M0.00 -17.32L17.32 0.00L0.00 17.32L-17.32 0.00Z" fill="#20b2aa" stroke="#000" stroke-width="4.0" stroke-linejoin="miter"/></g>
<g opacity="0.8"><path transform="translate(475.0 227.0)" d="M0.00 -17.32L17.32 0.00L0.00 17.32L-17.32 0.00Z" fill="#20b2aa" stroke="#000" stroke-width="4.0" stroke-linejoin="miter"/></g>
<g opacity="0.8"><path transform="translate(558.0 308.0)" d="M0.00 -17.32L17.32 0.00L0.00 17.32L-17.32 0.00Z" fill="#20b2aa" stroke="#000" stroke-width="4.0" stroke-linejoin="miter"/></g>
<g opacity="0.8"><path transform="translate(640.0 335.0)" d="M0.00 -17.32L17.32 0.00L0.00 17.32L-17.32 0.00Z" fill="#20b2aa" stroke="#000" stroke-width="4.0" stroke-linejoin="miter"/></g>
<g opacity="0.8"><path transform="translate(720.0 352.0)" d="M0.00 -17.32L17.32 0.00L0.00 17.32L-17.32 0.00Z" fill="#20b2aa" stroke="#000" stroke-width="4.0" stroke-linejoin="miter"/></g>
<path d="M324.0 159.0L371.0 191.0L398.0 199.0L494.0 265.0L533.0 266.0L558.0 283.0L650.0 330.0L797.0 373.0L857.0 368.0L905.0 368.0L960.0 372.0" stroke="#550096" stroke-width="6.2" stroke-dasharray="23 10" fill="none" opacity="0.8"/>
<path d="M324.0 145.0V173.0" stroke="#550096" stroke-width="5.8" fill="none" opacity="0.8"/>
<g opacity="0.8"><path transform="translate(324.0 159.0)" d="M12.25 0.00L-12.25 -12.25L-12.25 12.25Z" fill="#550096" stroke="#000" stroke-width="4.0" stroke-linejoin="miter"/></g>
<g opacity="0.8"><path transform="translate(371.0 191.0)" d="M12.25 0.00L-12.25 -12.25L-12.25 12.25Z" fill="#550096" stroke="#000" stroke-width="4.0" stroke-linejoin="miter"/></g>
<g opacity="0.8"><path transform="translate(398.0 199.0)" d="M12.25 0.00L-12.25 -12.25L-12.25 12.25Z" fill="#550096" stroke="#000" stroke-width="4.0" stroke-linejoin="miter"/></g>
<g opacity="0.8"><path transform="translate(494.0 265.0)" d="M12.25 0.00L-12.25 -12.25L-12.25 12.25Z" fill="#550096" stroke="#000" stroke-width="4.0" stroke-linejoin="miter"/></g>
<g opacity="0.8"><path transform="translate(533.0 266.0)" d="M12.25 0.00L-12.25 -12.25L-12.25 12.25Z" fill="#550096" stroke="#000" stroke-width="4.0" stroke-linejoin="miter"/></g>
<g opacity="0.8"><path transform="translate(558.0 283.0)" d="M12.25 0.00L-12.25 -12.25L-12.25 12.25Z" fill="#550096" stroke="#000" stroke-width="4.0" stroke-linejoin="miter"/></g>
<g opacity="0.8"><path transform="translate(650.0 330.0)" d="M12.25 0.00L-12.25 -12.25L-12.25 12.25Z" fill="#550096" stroke="#000" stroke-width="4.0" stroke-linejoin="miter"/></g>
<g opacity="0.8"><path transform="translate(797.0 373.0)" d="M12.25 0.00L-12.25 -12.25L-12.25 12.25Z" fill="#550096" stroke="#000" stroke-width="4.0" stroke-linejoin="miter"/></g>
<g opacity="0.8"><path transform="translate(857.0 368.0)" d="M12.25 0.00L-12.25 -12.25L-12.25 12.25Z" fill="#550096" stroke="#000" stroke-width="4.0" stroke-linejoin="miter"/></g>
<g opacity="0.8"><path transform="translate(905.0 368.0)" d="M12.25 0.00L-12.25 -12.25L-12.25 12.25Z" fill="#550096" stroke="#000" stroke-width="4.0" stroke-linejoin="miter"/></g>
<g opacity="0.8"><path transform="translate(960.0 372.0)" d="M12.25 0.00L-12.25 -12.25L-12.25 12.25Z" fill="#550096" stroke="#000" stroke-width="4.0" stroke-linejoin="miter"/></g>
<path d="M392.0 242.0L456.0 338.0L487.0 330.0L550.0 346.0L578.0 352.0L619.0 379.0L686.0 344.0L713.0 363.0L824.0 430.0L900.0 440.0L960.0 452.0" stroke="#20b2aa" stroke-width="6.2" stroke-dasharray="23 10" fill="none" opacity="0.8"/>
<path d="M392.0 228.0V256.0M550.0 334.0V358.0M578.0 340.0V364.0M824.0 416.0V444.0" stroke="#20b2aa" stroke-width="5.8" fill="none" opacity="0.8"/>
<g opacity="0.8"><path transform="translate(392.0 242.0)" d="M0 0L0.00 12.25M0 0L9.80 -6.12M0 0L-9.80 -6.12" fill="none" stroke="#000" stroke-width="4.0"/></g>
<g opacity="0.8"><path transform="translate(456.0 338.0)" d="M0 0L0.00 12.25M0 0L9.80 -6.12M0 0L-9.80 -6.12" fill="none" stroke="#000" stroke-width="4.0"/></g>
<g opacity="0.8"><path transform="translate(487.0 330.0)" d="M0 0L0.00 12.25M0 0L9.80 -6.12M0 0L-9.80 -6.12" fill="none" stroke="#000" stroke-width="4.0"/></g>
<g opacity="0.8"><path transform="translate(550.0 346.0)" d="M0 0L0.00 12.25M0 0L9.80 -6.12M0 0L-9.80 -6.12" fill="none" stroke="#000" stroke-width="4.0"/></g>
<g opacity="0.8"><path transform="translate(578.0 352.0)" d="M0 0L0.00 12.25M0 0L9.80 -6.12M0 0L-9.80 -6.12" fill="none" stroke="#000" stroke-width="4.0"/></g>
<g opacity="0.8"><path transform="translate(619.0 379.0)" d="M0 0L0.00 12.25M0 0L9.80 -6.12M0 0L-9.80 -6.12" fill="none" stroke="#000" stroke-width="4.0"/></g>
<g opacity="0.8"><path transform="translate(686.0 344.0)" d="M0 0L0.00 12.25M0 0L9.80 -6.12M0 0L-9.80 -6.12" fill="none" stroke="#000" stroke-width="4.0"/></g>
<g opacity="0.8"><path transform="translate(713.0 363.0)" d="M0 0L0.00 12.25M0 0L9.80 -6.12M0 0L-9.80 -6.12" fill="none" stroke="#000" stroke-width="4.0"/></g>
<g opacity="0.8"><path transform="translate(824.0 430.0)" d="M0 0L0.00 12.25M0 0L9.80 -6.12M0 0L-9.80 -6.12" fill="none" stroke="#000" stroke-width="4.0"/></g>
<g opacity="0.8"><path transform="translate(900.0 440.0)" d="M0 0L0.00 12.25M0 0L9.80 -6.12M0 0L-9.80 -6.12" fill="none" stroke="#000" stroke-width="4.0"/></g>
<g opacity="0.8"><path transform="translate(960.0 452.0)" d="M0 0L0.00 12.25M0 0L9.80 -6.12M0 0L-9.80 -6.12" fill="none" stroke="#000" stroke-width="4.0"/></g>
<path d="M346.0 59.0L424.0 74.0L489.0 207.0L531.0 238.0L565.0 263.0L620.0 300.0L676.0 323.0L768.0 340.0L790.0 343.0L829.0 358.0L876.0 355.0L921.0 361.0L960.0 366.0" stroke="#550096" stroke-width="6.2" stroke-dasharray="23 10" fill="none" opacity="0.8"/>
<path d="M346.0 47.0V71.0M424.0 64.0V84.0" stroke="#550096" stroke-width="5.8" fill="none" opacity="0.8"/>
<g opacity="0.8"><path transform="translate(346.0 59.0)" d="M0.00 -12.25L-2.75 -3.79L-11.65 -3.79L-4.45 1.45L-7.20 9.91L-0.00 4.68L7.20 9.91L4.45 1.45L11.65 -3.79L2.75 -3.79Z" fill="#550096" stroke="#000" stroke-width="4.0" stroke-linejoin="bevel"/></g>
<g opacity="0.8"><path transform="translate(424.0 74.0)" d="M0.00 -12.25L-2.75 -3.79L-11.65 -3.79L-4.45 1.45L-7.20 9.91L-0.00 4.68L7.20 9.91L4.45 1.45L11.65 -3.79L2.75 -3.79Z" fill="#550096" stroke="#000" stroke-width="4.0" stroke-linejoin="bevel"/></g>
<g opacity="0.8"><path transform="translate(489.0 207.0)" d="M0.00 -12.25L-2.75 -3.79L-11.65 -3.79L-4.45 1.45L-7.20 9.91L-0.00 4.68L7.20 9.91L4.45 1.45L11.65 -3.79L2.75 -3.79Z" fill="#550096" stroke="#000" stroke-width="4.0" stroke-linejoin="bevel"/></g>
<g opacity="0.8"><path transform="translate(531.0 238.0)" d="M0.00 -12.25L-2.75 -3.79L-11.65 -3.79L-4.45 1.45L-7.20 9.91L-0.00 4.68L7.20 9.91L4.45 1.45L11.65 -3.79L2.75 -3.79Z" fill="#550096" stroke="#000" stroke-width="4.0" stroke-linejoin="bevel"/></g>
<g opacity="0.8"><path transform="translate(565.0 263.0)" d="M0.00 -12.25L-2.75 -3.79L-11.65 -3.79L-4.45 1.45L-7.20 9.91L-0.00 4.68L7.20 9.91L4.45 1.45L11.65 -3.79L2.75 -3.79Z" fill="#550096" stroke="#000" stroke-width="4.0" stroke-linejoin="bevel"/></g>
<g opacity="0.8"><path transform="translate(620.0 300.0)" d="M0.00 -12.25L-2.75 -3.79L-11.65 -3.79L-4.45 1.45L-7.20 9.91L-0.00 4.68L7.20 9.91L4.45 1.45L11.65 -3.79L2.75 -3.79Z" fill="#550096" stroke="#000" stroke-width="4.0" stroke-linejoin="bevel"/></g>
<g opacity="0.8"><path transform="translate(676.0 323.0)" d="M0.00 -12.25L-2.75 -3.79L-11.65 -3.79L-4.45 1.45L-7.20 9.91L-0.00 4.68L7.20 9.91L4.45 1.45L11.65 -3.79L2.75 -3.79Z" fill="#550096" stroke="#000" stroke-width="4.0" stroke-linejoin="bevel"/></g>
<g opacity="0.8"><path transform="translate(768.0 340.0)" d="M0.00 -12.25L-2.75 -3.79L-11.65 -3.79L-4.45 1.45L-7.20 9.91L-0.00 4.68L7.20 9.91L4.45 1.45L11.65 -3.79L2.75 -3.79Z" fill="#550096" stroke="#000" stroke-width="4.0" stroke-linejoin="bevel"/></g>
<g opacity="0.8"><path transform="translate(790.0 343.0)" d="M0.00 -12.25L-2.75 -3.79L-11.65 -3.79L-4.45 1.45L-7.20 9.91L-0.00 4.68L7.20 9.91L4.45 1.45L11.65 -3.79L2.75 -3.79Z" fill="#550096" stroke="#000" stroke-width="4.0" stroke-linejoin="bevel"/></g>
<g opacity="0.8"><path transform="translate(829.0 358.0)" d="M0.00 -12.25L-2.75 -3.79L-11.65 -3.79L-4.45 1.45L-7.20 9.91L-0.00 4.68L7.20 9.91L4.45 1.45L11.65 -3.79L2.75 -3.79Z" fill="#550096" stroke="#000" stroke-width="4.0" stroke-linejoin="bevel"/></g>
<g opacity="0.8"><path transform="translate(876.0 355.0)" d="M0.00 -12.25L-2.75 -3.79L-11.65 -3.79L-4.45 1.45L-7.20 9.91L-0.00 4.68L7.20 9.91L4.45 1.45L11.65 -3.79L2.75 -3.79Z" fill="#550096" stroke="#000" stroke-width="4.0" stroke-linejoin="bevel"/></g>
<g opacity="0.8"><path transform="translate(921.0 361.0)" d="M0.00 -12.25L-2.75 -3.79L-11.65 -3.79L-4.45 1.45L-7.20 9.91L-0.00 4.68L7.20 9.91L4.45 1.45L11.65 -3.79L2.75 -3.79Z" fill="#550096" stroke="#000" stroke-width="4.0" stroke-linejoin="bevel"/></g>
<g opacity="0.8"><path transform="translate(960.0 366.0)" d="M0.00 -12.25L-2.75 -3.79L-11.65 -3.79L-4.45 1.45L-7.20 9.91L-0.00 4.68L7.20 9.91L4.45 1.45L11.65 -3.79L2.75 -3.79Z" fill="#550096" stroke="#000" stroke-width="4.0" stroke-linejoin="bevel"/></g>
<path d="M331.0 212.0L420.0 255.0L520.0 290.0L610.0 320.0" stroke="#20b2aa" stroke-width="6.2" stroke-dasharray="23 10" fill="none" opacity="0.8"/>
<path d="M331.0 198.0V226.0" stroke="#20b2aa" stroke-width="5.8" fill="none" opacity="0.8"/>
<g opacity="0.8"><path transform="translate(331.0 212.0)" d="M0 0L-0.00 -12.25M0 0L-9.80 6.13M0 0L9.80 6.12" fill="none" stroke="#000" stroke-width="4.0"/></g>
<g opacity="0.8"><path transform="translate(420.0 255.0)" d="M0 0L-0.00 -12.25M0 0L-9.80 6.13M0 0L9.80 6.12" fill="none" stroke="#000" stroke-width="4.0"/></g>
<g opacity="0.8"><path transform="translate(520.0 290.0)" d="M0 0L-0.00 -12.25M0 0L-9.80 6.13M0 0L9.80 6.12" fill="none" stroke="#000" stroke-width="4.0"/></g>
<g opacity="0.8"><path transform="translate(610.0 320.0)" d="M0 0L-0.00 -12.25M0 0L-9.80 6.13M0 0L9.80 6.12" fill="none" stroke="#000" stroke-width="4.0"/></g>
<path d="M447.0 108.0L490.0 152.0L560.0 230.0L646.0 290.0L773.0 287.0L833.0 287.0L900.0 305.0L960.0 315.0" stroke="#550096" stroke-width="6.2" stroke-dasharray="23 10" fill="none" opacity="0.8"/>
<path d="M447.0 96.0V120.0" stroke="#550096" stroke-width="5.8" fill="none" opacity="0.8"/>
<g opacity="0.8"><path transform="translate(447.0 108.0)" d="M0.00 -12.25L-10.61 -6.12L-10.61 6.13L-0.00 12.25L10.61 6.13L10.61 -6.12Z" fill="#550096" stroke="#000" stroke-width="4.0" stroke-linejoin="miter"/></g>
<g opacity="0.8"><path transform="translate(490.0 152.0)" d="M0.00 -12.25L-10.61 -6.12L-10.61 6.13L-0.00 12.25L10.61 6.13L10.61 -6.12Z" fill="#550096" stroke="#000" stroke-width="4.0" stroke-linejoin="miter"/></g>
<g opacity="0.8"><path transform="translate(560.0 230.0)" d="M0.00 -12.25L-10.61 -6.12L-10.61 6.13L-0.00 12.25L10.61 6.13L10.61 -6.12Z" fill="#550096" stroke="#000" stroke-width="4.0" stroke-linejoin="miter"/></g>
<g opacity="0.8"><path transform="translate(646.0 290.0)" d="M0.00 -12.25L-10.61 -6.12L-10.61 6.13L-0.00 12.25L10.61 6.13L10.61 -6.12Z" fill="#550096" stroke="#000" stroke-width="4.0" stroke-linejoin="miter"/></g>
<g opacity="0.8"><path transform="translate(773.0 287.0)" d="M0.00 -12.25L-10.61 -6.12L-10.61 6.13L-0.00 12.25L10.61 6.13L10.61 -6.12Z" fill="#550096" stroke="#000" stroke-width="4.0" stroke-linejoin="miter"/></g>
<g opacity="0.8"><path transform="translate(833.0 287.0)" d="M0.00 -12.25L-10.61 -6.12L-10.61 6.13L-0.00 12.25L10.61 6.13L10.61 -6.12Z" fill="#550096" stroke="#000" stroke-width="4.0" stroke-linejoin="miter"/></g>
<g opacity="0.8"><path transform="translate(900.0 305.0)" d="M0.00 -12.25L-10.61 -6.12L-10.61 6.13L-0.00 12.25L10.61 6.13L10.61 -6.12Z" fill="#550096" stroke="#000" stroke-width="4.0" stroke-linejoin="miter"/></g>
<g opacity="0.8"><path transform="translate(960.0 315.0)" d="M0.00 -12.25L-10.61 -6.12L-10.61 6.13L-0.00 12.25L10.61 6.13L10.61 -6.12Z" fill="#550096" stroke="#000" stroke-width="4.0" stroke-linejoin="miter"/></g>
<path d="M230.0 243.0L244.0 244.0L266.0 208.0L287.0 189.0L308.0 147.0L329.0 137.0L416.0 178.0L444.0 177.0L466.0 196.0L530.0 230.0L620.0 284.0L737.0 404.0L822.0 388.0L900.0 400.0L960.0 404.0" stroke="#550096" stroke-width="6.2" stroke-dasharray="23 10" fill="none" opacity="0.8"/>
<path d="M230.0 219.0V267.0M244.0 220.0V268.0M266.0 188.0V228.0M287.0 169.0V209.0M308.0 131.0V163.0M329.0 121.0V153.0M416.0 166.0V190.0M444.0 165.0V189.0M466.0 184.0V208.0M530.0 220.0V240.0M620.0 274.0V294.0M737.0 390.0V418.0M822.0 374.0V402.0M900.0 386.0V414.0" stroke="#550096" stroke-width="5.8" fill="none" opacity="0.8"/>
<g opacity="0.8"><path transform="translate(230.0 243.0)" d="M-12.25 0H12.25M0 -12.25V12.25" fill="none" stroke="#000" stroke-width="4.0"/></g>
<g opacity="0.8"><path transform="translate(244.0 244.0)" d="M-12.25 0H12.25M0 -12.25V12.25" fill="none" stroke="#000" stroke-width="4.0"/></g>
<g opacity="0.8"><path transform="translate(266.0 208.0)" d="M-12.25 0H12.25M0 -12.25V12.25" fill="none" stroke="#000" stroke-width="4.0"/></g>
<g opacity="0.8"><path transform="translate(287.0 189.0)" d="M-12.25 0H12.25M0 -12.25V12.25" fill="none" stroke="#000" stroke-width="4.0"/></g>
<g opacity="0.8"><path transform="translate(308.0 147.0)" d="M-12.25 0H12.25M0 -12.25V12.25" fill="none" stroke="#000" stroke-width="4.0"/></g>
<g opacity="0.8"><path transform="translate(329.0 137.0)" d="M-12.25 0H12.25M0 -12.25V12.25" fill="none" stroke="#000" stroke-width="4.0"/></g>
<g opacity="0.8"><path transform="translate(416.0 178.0)" d="M-12.25 0H12.25M0 -12.25V12.25" fill="none" stroke="#000" stroke-width="4.0"/></g>
<g opacity="0.8"><path transform="translate(444.0 177.0)" d="M-12.25 0H12.25M0 -12.25V12.25" fill="none" stroke="#000" stroke-width="4.0"/></g>
<g opacity="0.8"><path transform="translate(466.0 196.0)" d="M-12.25 0H12.25M0 -12.25V12.25" fill="none" stroke="#000" stroke-width="4.0"/></g>
<g opacity="0.8"><path transform="translate(530.0 230.0)" d="M-12.25 0H12.25M0 -12.25V12.25" fill="none" stroke="#000" stroke-width="4.0"/></g>
<g opacity="0.8"><path transform="translate(620.0 284.0)" d="M-12.25 0H12.25M0 -12.25V12.25" fill="none" stroke="#000" stroke-width="4.0"/></g>
<g opacity="0.8"><path transform="translate(737.0 404.0)" d="M-12.25 0H12.25M0 -12.25V12.25" fill="none" stroke="#000" stroke-width="4.0"/></g>
<g opacity="0.8"><path transform="translate(822.0 388.0)" d="M-12.25 0H12.25M0 -12.25V12.25" fill="none" stroke="#000" stroke-width="4.0"/></g>
<g opacity="0.8"><path transform="translate(900.0 400.0)" d="M-12.25 0H12.25M0 -12.25V12.25" fill="none" stroke="#000" stroke-width="4.0"/></g>
<g opacity="0.8"><path transform="translate(960.0 404.0)" d="M-12.25 0H12.25M0 -12.25V12.25" fill="none" stroke="#000" stroke-width="4.0"/></g>
<path d="M470.0 240.0L600.0 300.0L735.0 350.0L820.0 430.0L960.0 445.0" stroke="#20b2aa" stroke-width="6.2" stroke-dasharray="23 10" fill="none" opacity="0.8"/>
<g opacity="0.8"><path transform="translate(470.0 240.0)" d="M0 0L12.25 -0.00M0 0L-6.13 -9.80M0 0L-6.12 9.80" fill="none" stroke="#000" stroke-width="4.0"/></g>
<g opacity="0.8"><path transform="translate(600.0 300.0)" d="M0 0L12.25 -0.00M0 0L-6.13 -9.80M0 0L-6.12 9.80" fill="none" stroke="#000" stroke-width="4.0"/></g>
<g opacity="0.8"><path transform="translate(735.0 350.0)" d="M0 0L12.25 -0.00M0 0L-6.13 -9.80M0 0L-6.12 9.80" fill="none" stroke="#000" stroke-width="4.0"/></g>
<g opacity="0.8"><path transform="translate(820.0 430.0)" d="M0 0L12.25 -0.00M0 0L-6.13 -9.80M0 0L-6.12 9.80" fill="none" stroke="#000" stroke-width="4.0"/></g>
<g opacity="0.8"><path transform="translate(960.0 445.0)" d="M0 0L12.25 -0.00M0 0L-6.13 -9.80M0 0L-6.12 9.80" fill="none" stroke="#000" stroke-width="4.0"/></g>
<path d="M178.0 497.0L213.0 448.0L257.0 350.0L276.0 397.0L336.0 309.0L419.0 266.0L501.0 305.0L580.0 330.0L660.0 352.0L740.0 370.0L830.0 395.0L900.0 410.0L960.0 420.0" stroke="#550096" stroke-width="6.2" stroke-dasharray="23 10" fill="none" opacity="0.8"/>
<path d="M178.0 483.0V511.0M213.0 434.0V462.0M257.0 326.0V374.0M276.0 379.0V415.0M336.0 295.0V323.0M419.0 254.0V278.0M501.0 293.0V317.0M580.0 318.0V342.0M660.0 340.0V364.0M740.0 360.0V380.0M830.0 385.0V405.0" stroke="#550096" stroke-width="5.8" fill="none" opacity="0.8"/>
<g opacity="0.8"><path transform="translate(178.0 497.0)" d="M0 0L0.00 12.25M0 0L9.80 -6.12M0 0L-9.80 -6.12" fill="none" stroke="#000" stroke-width="4.0"/></g>
<g opacity="0.8"><path transform="translate(213.0 448.0)" d="M0 0L0.00 12.25M0 0L9.80 -6.12M0 0L-9.80 -6.12" fill="none" stroke="#000" stroke-width="4.0"/></g>
<g opacity="0.8"><path transform="translate(257.0 350.0)" d="M0 0L0.00 12.25M0 0L9.80 -6.12M0 0L-9.80 -6.12" fill="none" stroke="#000" stroke-width="4.0"/></g>
<g opacity="0.8"><path transform="translate(276.0 397.0)" d="M0 0L0.00 12.25M0 0L9.80 -6.12M0 0L-9.80 -6.12" fill="none" stroke="#000" stroke-width="4.0"/></g>
<g opacity="0.8"><path transform="translate(336.0 309.0)" d="M0 0L0.00 12.25M0 0L9.80 -6.12M0 0L-9.80 -6.12" fill="none" stroke="#000" stroke-width="4.0"/></g>
<g opacity="0.8"><path transform="translate(419.0 266.0)" d="M0 0L0.00 12.25M0 0L9.80 -6.12M0 0L-9.80 -6.12" fill="none" stroke="#000" stroke-width="4.0"/></g>
<g opacity="0.8"><path transform="translate(501.0 305.0)" d="M0 0L0.00 12.25M0 0L9.80 -6.12M0 0L-9.80 -6.12" fill="none" stroke="#000" stroke-width="4.0"/></g>
<g opacity="0.8"><path transform="translate(580.0 330.0)" d="M0 0L0.00 12.25M0 0L9.80 -6.12M0 0L-9.80 -6.12" fill="none" stroke="#000" stroke-width="4.0"/></g>
<g opacity="0.8"><path transform="translate(660.0 352.0)" d="M0 0L0.00 12.25M0 0L9.80 -6.12M0 0L-9.80 -6.12" fill="none" stroke="#000" stroke-width="4.0"/></g>
<g opacity="0.8"><path transform="translate(740.0 370.0)" d="M0 0L0.00 12.25M0 0L9.80 -6.12M0 0L-9.80 -6.12" fill="none" stroke="#000" stroke-width="4.0"/></g>
<g opacity="0.8"><path transform="translate(830.0 395.0)" d="M0 0L0.00 12.25M0 0L9.80 -6.12M0 0L-9.80 -6.12" fill="none" stroke="#000" stroke-width="4.0"/></g>
<g opacity="0.8"><path transform="translate(900.0 410.0)" d="M0 0L0.00 12.25M0 0L9.80 -6.12M0 0L-9.80 -6.12" fill="none" stroke="#000" stroke-width="4.0"/></g>
<g opacity="0.8"><path transform="translate(960.0 420.0)" d="M0 0L0.00 12.25M0 0L9.80 -6.12M0 0L-9.80 -6.12" fill="none" stroke="#000" stroke-width="4.0"/></g>
<path d="M205.0 745.0L252.0 659.0L279.0 615.0L346.0 518.0L382.0 535.0L472.0 532.0L506.0 535.0L570.0 532.0L618.0 553.0L730.0 464.0" stroke="#daa520" stroke-width="6.2" stroke-dasharray="23 10" fill="none" opacity="0.95"/>
<g opacity="1.0"><circle cx="205.0" cy="745.0" r="12.25" fill="#daa520" stroke="#000" stroke-width="4.0"/></g>
<g opacity="1.0"><circle cx="252.0" cy="659.0" r="12.25" fill="#daa520" stroke="#000" stroke-width="4.0"/></g>
<g opacity="1.0"><circle cx="279.0" cy="615.0" r="12.25" fill="#daa520" stroke="#000" stroke-width="4.0"/></g>
<g opacity="1.0"><circle cx="346.0" cy="518.0" r="12.25" fill="#daa520" stroke="#000" stroke-width="4.0"/></g>
<g opacity="1.0"><circle cx="382.0" cy="535.0" r="12.25" fill="#daa520" stroke="#000" stroke-width="4.0"/></g>
<g opacity="1.0"><circle cx="472.0" cy="532.0" r="12.25" fill="#daa520" stroke="#000" stroke-width="4.0"/></g>
<g opacity="1.0"><circle cx="506.0" cy="535.0" r="12.25" fill="#daa520" stroke="#000" stroke-width="4.0"/></g>
<g opacity="1.0"><circle cx="570.0" cy="532.0" r="12.25" fill="#daa520" stroke="#000" stroke-width="4.0"/></g>
<g opacity="1.0"><circle cx="618.0" cy="553.0" r="12.25" fill="#daa520" stroke="#000" stroke-width="4.0"/></g>
<g opacity="1.0"><circle cx="730.0" cy="464.0" r="12.25" fill="#daa520" stroke="#000" stroke-width="4.0"/></g>
<path d="M168.0 652.0L190.0 577.0L217.0 627.0L248.0 650.0L325.0 632.0L444.0 554.0L489.0 510.0L561.0 499.0L602.0 485.0L771.0 513.0L817.0 502.0L960.0 508.0" stroke="#daa520" stroke-width="6.2" stroke-dasharray="23 10" fill="none" opacity="0.95"/>
<g opacity="1.0"><path transform="translate(168.0 652.0)" d="M-12.25 -12.25L12.25 -12.25L12.25 12.25L-12.25 12.25Z" fill="#daa520" stroke="#000" stroke-width="4.0" stroke-linejoin="miter"/></g>
<g opacity="1.0"><path transform="translate(190.0 577.0)" d="M-12.25 -12.25L12.25 -12.25L12.25 12.25L-12.25 12.25Z" fill="#daa520" stroke="#000" stroke-width="4.0" stroke-linejoin="miter"/></g>
<g opacity="1.0"><path transform="translate(217.0 627.0)" d="M-12.25 -12.25L12.25 -12.25L12.25 12.25L-12.25 12.25Z" fill="#daa520" stroke="#000" stroke-width="4.0" stroke-linejoin="miter"/></g>
<g opacity="1.0"><path transform="translate(248.0 650.0)" d="M-12.25 -12.25L12.25 -12.25L12.25 12.25L-12.25 12.25Z" fill="#daa520" stroke="#000" stroke-width="4.0" stroke-linejoin="miter"/></g>
<g opacity="1.0"><path transform="translate(325.0 632.0)" d="M-12.25 -12.25L12.25 -12.25L12.25 12.25L-12.25 12.25Z" fill="#daa520" stroke="#000" stroke-width="4.0" stroke-linejoin="miter"/></g>
<g opacity="1.0"><path transform="translate(444.0 554.0)" d="M-12.25 -12.25L12.25 -12.25L12.25 12.25L-12.25 12.25Z" fill="#daa520" stroke="#000" stroke-width="4.0" stroke-linejoin="miter"/></g>
<g opacity="1.0"><path transform="translate(489.0 510.0)" d="M-12.25 -12.25L12.25 -12.25L12.25 12.25L-12.25 12.25Z" fill="#daa520" stroke="#000" stroke-width="4.0" stroke-linejoin="miter"/></g>
<g opacity="1.0"><path transform="translate(561.0 499.0)" d="M-12.25 -12.25L12.25 -12.25L12.25 12.25L-12.25 12.25Z" fill="#daa520" stroke="#000" stroke-width="4.0" stroke-linejoin="miter"/></g>
<g opacity="1.0"><path transform="translate(602.0 485.0)" d="M-12.25 -12.25L12.25 -12.25L12.25 12.25L-12.25 12.25Z" fill="#daa520" stroke="#000" stroke-width="4.0" stroke-linejoin="miter"/></g>
<g opacity="1.0"><path transform="translate(771.0 513.0)" d="M-12.25 -12.25L12.25 -12.25L12.25 12.25L-12.25 12.25Z" fill="#daa520" stroke="#000" stroke-width="4.0" stroke-linejoin="miter"/></g>
<g opacity="1.0"><path transform="translate(817.0 502.0)" d="M-12.25 -12.25L12.25 -12.25L12.25 12.25L-12.25 12.25Z" fill="#daa520" stroke="#000" stroke-width="4.0" stroke-linejoin="miter"/></g>
<g opacity="1.0"><path transform="translate(960.0 508.0)" d="M-12.25 -12.25L12.25 -12.25L12.25 12.25L-12.25 12.25Z" fill="#daa520" stroke="#000" stroke-width="4.0" stroke-linejoin="miter"/></g>
<path d="M325.0 597.0L346.0 624.0L424.0 567.0L472.0 564.0L542.0 551.0L614.0 532.0L911.0 584.0L960.0 576.0" stroke="#daa520" stroke-width="6.2" stroke-dasharray="23 10" fill="none" opacity="0.95"/>
<g opacity="1.0"><path transform="translate(325.0 597.0)" d="M0.00 -17.32L10.39 0.00L0.00 17.32L-10.39 0.00Z" fill="#daa520" stroke="#000" stroke-width="4.0" stroke-linejoin="miter"/></g>
<g opacity="1.0"><path transform="translate(346.0 624.0)" d="M0.00 -17.32L10.39 0.00L0.00 17.32L-10.39 0.00Z" fill="#daa520" stroke="#000" stroke-width="4.0" stroke-linejoin="miter"/></g>
<g opacity="1.0"><path transform="translate(424.0 567.0)" d="M0.00 -17.32L10.39 0.00L0.00 17.32L-10.39 0.00Z" fill="#daa520" stroke="#000" stroke-width="4.0" stroke-linejoin="miter"/></g>
<g opacity="1.0"><path transform="translate(472.0 564.0)" d="M0.00 -17.32L10.39 0.00L0.00 17.32L-10.39 0.00Z" fill="#daa520" stroke="#000" stroke-width="4.0" stroke-linejoin="miter"/></g>
<g opacity="1.0"><path transform="translate(542.0 551.0)" d="M0.00 -17.32L10.39 0.00L0.00 17.32L-10.39 0.00Z" fill="#daa520" stroke="#000" stroke-width="4.0" stroke-linejoin="miter"/></g>
<g opacity="1.0"><path transform="translate(614.0 532.0)" d="M0.00 -17.32L10.39 0.00L0.00 17.32L-10.39 0.00Z" fill="#daa520" stroke="#000" stroke-width="4.0" stroke-linejoin="miter"/></g>
<g opacity="1.0"><path transform="translate(911.0 584.0)" d="M0.00 -17.32L10.39 0.00L0.00 17.32L-10.39 0.00Z" fill="#daa520" stroke="#000" stroke-width="4.0" stroke-linejoin="miter"/></g>
<g opacity="1.0"><path transform="translate(960.0 576.0)" d="M0.00 -17.32L10.39 0.00L0.00 17.32L-10.39 0.00Z" fill="#daa520" stroke="#000" stroke-width="4.0" stroke-linejoin="miter"/></g>
<path d="M376.0 611.0L567.0 527.0L754.0 515.0L792.0 493.0" stroke="#daa520" stroke-width="6.2" stroke-dasharray="23 10" fill="none" opacity="0.95"/>
<g opacity="1.0"><path transform="translate(376.0 611.0)" d="M-6.12 -12.25L0.00 -6.12L6.12 -12.25L12.25 -6.12L6.12 0.00L12.25 6.12L6.12 12.25L0.00 6.12L-6.12 12.25L-12.25 6.12L-6.12 0.00L-12.25 -6.12Z" fill="#daa520" stroke="#000" stroke-width="4.0" stroke-linejoin="miter"/></g>
<g opacity="1.0"><path transform="translate(567.0 527.0)" d="M-6.12 -12.25L0.00 -6.12L6.12 -12.25L12.25 -6.12L6.12 0.00L12.25 6.12L6.12 12.25L0.00 6.12L-6.12 12.25L-12.25 6.12L-6.12 0.00L-12.25 -6.12Z" fill="#daa520" stroke="#000" stroke-width="4.0" stroke-linejoin="miter"/></g>
<g opacity="1.0"><path transform="translate(754.0 515.0)" d="M-6.12 -12.25L0.00 -6.12L6.12 -12.25L12.25 -6.12L6.12 0.00L12.25 6.12L6.12 12.25L0.00 6.12L-6.12 12.25L-12.25 6.12L-6.12 0.00L-12.25 -6.12Z" fill="#daa520" stroke="#000" stroke-width="4.0" stroke-linejoin="miter"/></g>
<g opacity="1.0"><path transform="translate(792.0 493.0)" d="M-6.12 -12.25L0.00 -6.12L6.12 -12.25L12.25 -6.12L6.12 0.00L12.25 6.12L6.12 12.25L0.00 6.12L-6.12 12.25L-12.25 6.12L-6.12 0.00L-12.25 -6.12Z" fill="#daa520" stroke="#000" stroke-width="4.0" stroke-linejoin="miter"/></g>
<path d="M206.0 692.0L245.0 597.0L338.0 622.0L383.0 680.0L460.0 595.0L488.0 627.0L516.0 610.0L594.0 620.0L640.0 523.0L698.0 465.0" stroke="#daa520" stroke-width="6.2" stroke-dasharray="23 10" fill="none" opacity="0.95"/>
<g opacity="1.0"><path transform="translate(206.0 692.0)" d="M0.00 -12.25L-11.65 -3.79L-7.20 9.91L7.20 9.91L11.65 -3.79Z" fill="#daa520" stroke="#000" stroke-width="4.0" stroke-linejoin="miter"/></g>
<g opacity="1.0"><path transform="translate(245.0 597.0)" d="M0.00 -12.25L-11.65 -3.79L-7.20 9.91L7.20 9.91L11.65 -3.79Z" fill="#daa520" stroke="#000" stroke-width="4.0" stroke-linejoin="miter"/></g>
<g opacity="1.0"><path transform="translate(338.0 622.0)" d="M0.00 -12.25L-11.65 -3.79L-7.20 9.91L7.20 9.91L11.65 -3.79Z" fill="#daa520" stroke="#000" stroke-width="4.0" stroke-linejoin="miter"/></g>
<g opacity="1.0"><path transform="translate(383.0 680.0)" d="M0.00 -12.25L-11.65 -3.79L-7.20 9.91L7.20 9.91L11.65 -3.79Z" fill="#daa520" stroke="#000" stroke-width="4.0" stroke-linejoin="miter"/></g>
<g opacity="1.0"><path transform="translate(460.0 595.0)" d="M0.00 -12.25L-11.65 -3.79L-7.20 9.91L7.20 9.91L11.65 -3.79Z" fill="#daa520" stroke="#000" stroke-width="4.0" stroke-linejoin="miter"/></g>
<g opacity="1.0"><path transform="translate(488.0 627.0)" d="M0.00 -12.25L-11.65 -3.79L-7.20 9.91L7.20 9.91L11.65 -3.79Z" fill="#daa520" stroke="#000" stroke-width="4.0" stroke-linejoin="miter"/></g>
<g opacity="1.0"><path transform="translate(516.0 610.0)" d="M0.00 -12.25L-11.65 -3.79L-7.20 9.91L7.20 9.91L11.65 -3.79Z" fill="#daa520" stroke="#000" stroke-width="4.0" stroke-linejoin="miter"/></g>
<g opacity="1.0"><path transform="translate(594.0 620.0)" d="M0.00 -12.25L-11.65 -3.79L-7.20 9.91L7.20 9.91L11.65 -3.79Z" fill="#daa520" stroke="#000" stroke-width="4.0" stroke-linejoin="miter"/></g>
<g opacity="1.0"><path transform="translate(640.0 523.0)" d="M0.00 -12.25L-11.65 -3.79L-7.20 9.91L7.20 9.91L11.65 -3.79Z" fill="#daa520" stroke="#000" stroke-width="4.0" stroke-linejoin="miter"/></g>
<g opacity="1.0"><path transform="translate(698.0 465.0)" d="M0.00 -12.25L-11.65 -3.79L-7.20 9.91L7.20 9.91L11.65 -3.79Z" fill="#daa520" stroke="#000" stroke-width="4.0" stroke-linejoin="miter"/></g>
</g>
<g clip-path="url(#clipR)">
<path d="M1264.0 514.0L1330.0 540.0L1439.0 529.0L1489.0 514.0L1572.0 505.0L1600.0 495.0L1654.0 471.0L1696.0 472.0L1736.0 444.0L1800.0 420.0L1860.0 390.0L1913.0 327.0L1990.0 290.0" stroke="#20b2aa" stroke-width="6.2" stroke-dasharray="23 10" fill="none" opacity="0.8"/>
<path d="M1264.0 510.0V518.0M1330.0 536.0V544.0M1439.0 525.0V533.0M1489.0 510.0V518.0M1572.0 501.0V509.0M1600.0 491.0V499.0M1654.0 467.0V475.0M1696.0 468.0V476.0M1736.0 440.0V448.0M1800.0 416.0V424.0M1860.0 386.0V394.0M1913.0 323.0V331.0M1990.0 286.0V294.0" stroke="#20b2aa" stroke-width="5.8" fill="none" opacity="0.8"/>
<g opacity="0.8"><circle cx="1264.0" cy="514.0" r="12.25" fill="#20b2aa" stroke="#000" stroke-width="4.0"/></g>
<g opacity="0.8"><circle cx="1330.0" cy="540.0" r="12.25" fill="#20b2aa" stroke="#000" stroke-width="4.0"/></g>
<g opacity="0.8"><circle cx="1439.0" cy="529.0" r="12.25" fill="#20b2aa" stroke="#000" stroke-width="4.0"/></g>
<g opacity="0.8"><circle cx="1489.0" cy="514.0" r="12.25" fill="#20b2aa" stroke="#000" stroke-width="4.0"/></g>
<g opacity="0.8"><circle cx="1572.0" cy="505.0" r="12.25" fill="#20b2aa" stroke="#000" stroke-width="4.0"/></g>
<g opacity="0.8"><circle cx="1600.0" cy="495.0" r="12.25" fill="#20b2aa" stroke="#000" stroke-width="4.0"/></g>
<g opacity="0.8"><circle cx="1654.0" cy="471.0" r="12.25" fill="#20b2aa" stroke="#000" stroke-width="4.0"/></g>
<g opacity="0.8"><circle cx="1696.0" cy="472.0" r="12.25" fill="#20b2aa" stroke="#000" stroke-width="4.0"/></g>
<g opacity="0.8"><circle cx="1736.0" cy="444.0" r="12.25" fill="#20b2aa" stroke="#000" stroke-width="4.0"/></g>
<g opacity="0.8"><circle cx="1800.0" cy="420.0" r="12.25" fill="#20b2aa" stroke="#000" stroke-width="4.0"/></g>
<g opacity="0.8"><circle cx="1860.0" cy="390.0" r="12.25" fill="#20b2aa" stroke="#000" stroke-width="4.0"/></g>
<g opacity="0.8"><circle cx="1913.0" cy="327.0" r="12.25" fill="#20b2aa" stroke="#000" stroke-width="4.0"/></g>
<g opacity="0.8"><circle cx="1990.0" cy="290.0" r="12.25" fill="#20b2aa" stroke="#000" stroke-width="4.0"/></g>
<path d="M1330.0 630.0L1380.0 660.0L1416.0 670.0L1470.0 665.0L1511.0 637.0L1560.0 640.0L1620.0 632.0L1678.0 625.0L1740.0 600.0L1820.0 559.0L1900.0 500.0L1990.0 430.0" stroke="#550096" stroke-width="6.2" stroke-dasharray="23 10" fill="none" opacity="0.8"/>
<path d="M1330.0 626.0V634.0M1380.0 656.0V664.0M1416.0 666.0V674.0M1470.0 661.0V669.0M1511.0 633.0V641.0M1560.0 636.0V644.0M1620.0 628.0V636.0M1678.0 621.0V629.0M1740.0 596.0V604.0M1820.0 555.0V563.0M1900.0 496.0V504.0M1990.0 426.0V434.0" stroke="#550096" stroke-width="5.8" fill="none" opacity="0.8"/>
<g opacity="0.8"><circle cx="1330.0" cy="630.0" r="12.25" fill="#550096" stroke="#000" stroke-width="4.0"/></g>
<g opacity="0.8"><circle cx="1380.0" cy="660.0" r="12.25" fill="#550096" stroke="#000" stroke-width="4.0"/></g>
<g opacity="0.8"><circle cx="1416.0" cy="670.0" r="12.25" fill="#550096" stroke="#000" stroke-width="4.0"/></g>
<g opacity="0.8"><circle cx="1470.0" cy="665.0" r="12.25" fill="#550096" stroke="#000" stroke-width="4.0"/></g>
<g opacity="0.8"><circle cx="1511.0" cy="637.0" r="12.25" fill="#550096" stroke="#000" stroke-width="4.0"/></g>
<g opacity="0.8"><circle cx="1560.0" cy="640.0" r="12.25" fill="#550096" stroke="#000" stroke-width="4.0"/></g>
<g opacity="0.8"><circle cx="1620.0" cy="632.0" r="12.25" fill="#550096" stroke="#000" stroke-width="4.0"/></g>
<g opacity="0.8"><circle cx="1678.0" cy="625.0" r="12.25" fill="#550096" stroke="#000" stroke-width="4.0"/></g>
<g opacity="0.8"><circle cx="1740.0" cy="600.0" r="12.25" fill="#550096" stroke="#000" stroke-width="4.0"/></g>
<g opacity="0.8"><circle cx="1820.0" cy="559.0" r="12.25" fill="#550096" stroke="#000" stroke-width="4.0"/></g>
<g opacity="0.8"><circle cx="1900.0" cy="500.0" r="12.25" fill="#550096" stroke="#000" stroke-width="4.0"/></g>
<g opacity="0.8"><circle cx="1990.0" cy="430.0" r="12.25" fill="#550096" stroke="#000" stroke-width="4.0"/></g>
<path d="M1290.0 600.0L1360.0 640.0L1420.0 660.0L1494.0 668.0L1553.0 652.0L1617.0 637.0L1689.0 595.0L1737.0 583.0L1801.0 553.0L1870.0 520.0L1940.0 470.0L1990.0 440.0" stroke="#550096" stroke-width="6.2" stroke-dasharray="23 10" fill="none" opacity="0.8"/>
<path d="M1290.0 596.0V604.0M1360.0 636.0V644.0M1420.0 656.0V664.0M1494.0 664.0V672.0M1553.0 648.0V656.0M1617.0 633.0V641.0M1689.0 591.0V599.0M1737.0 579.0V587.0M1801.0 549.0V557.0M1870.0 516.0V524.0M1940.0 466.0V474.0M1990.0 436.0V444.0" stroke="#550096" stroke-width="5.8" fill="none" opacity="0.8"/>
<g opacity="0.8"><path transform="translate(1290.0 600.0)" d="M-12.25 -12.25L12.25 -12.25L12.25 12.25L-12.25 12.25Z" fill="#550096" stroke="#000" stroke-width="4.0" stroke-linejoin="miter"/></g>
<g opacity="0.8"><path transform="translate(1360.0 640.0)" d="M-12.25 -12.25L12.25 -12.25L12.25 12.25L-12.25 12.25Z" fill="#550096" stroke="#000" stroke-width="4.0" stroke-linejoin="miter"/></g>
<g opacity="0.8"><path transform="translate(1420.0 660.0)" d="M-12.25 -12.25L12.25 -12.25L12.25 12.25L-12.25 12.25Z" fill="#550096" stroke="#000" stroke-width="4.0" stroke-linejoin="miter"/></g>
<g opacity="0.8"><path transform="translate(1494.0 668.0)" d="M-12.25 -12.25L12.25 -12.25L12.25 12.25L-12.25 12.25Z" fill="#550096" stroke="#000" stroke-width="4.0" stroke-linejoin="miter"/></g>
<g opacity="0.8"><path transform="translate(1553.0 652.0)" d="M-12.25 -12.25L12.25 -12.25L12.25 12.25L-12.25 12.25Z" fill="#550096" stroke="#000" stroke-width="4.0" stroke-linejoin="miter"/></g>
<g opacity="0.8"><path transform="translate(1617.0 637.0)" d="M-12.25 -12.25L12.25 -12.25L12.25 12.25L-12.25 12.25Z" fill="#550096" stroke="#000" stroke-width="4.0" stroke-linejoin="miter"/></g>
<g opacity="0.8"><path transform="translate(1689.0 595.0)" d="M-12.25 -12.25L12.25 -12.25L12.25 12.25L-12.25 12.25Z" fill="#550096" stroke="#000" stroke-width="4.0" stroke-linejoin="miter"/></g>
<g opacity="0.8"><path transform="translate(1737.0 583.0)" d="M-12.25 -12.25L12.25 -12.25L12.25 12.25L-12.25 12.25Z" fill="#550096" stroke="#000" stroke-width="4.0" stroke-linejoin="miter"/></g>
<g opacity="0.8"><path transform="translate(1801.0 553.0)" d="M-12.25 -12.25L12.25 -12.25L12.25 12.25L-12.25 12.25Z" fill="#550096" stroke="#000" stroke-width="4.0" stroke-linejoin="miter"/></g>
<g opacity="0.8"><path transform="translate(1870.0 520.0)" d="M-12.25 -12.25L12.25 -12.25L12.25 12.25L-12.25 12.25Z" fill="#550096" stroke="#000" stroke-width="4.0" stroke-linejoin="miter"/></g>
<g opacity="0.8"><path transform="translate(1940.0 470.0)" d="M-12.25 -12.25L12.25 -12.25L12.25 12.25L-12.25 12.25Z" fill="#550096" stroke="#000" stroke-width="4.0" stroke-linejoin="miter"/></g>
<g opacity="0.8"><path transform="translate(1990.0 440.0)" d="M-12.25 -12.25L12.25 -12.25L12.25 12.25L-12.25 12.25Z" fill="#550096" stroke="#000" stroke-width="4.0" stroke-linejoin="miter"/></g>
<path d="M1250.0 426.0L1300.9 566.9L1380.3 585.7L1455.6 589.9L1513.2 588.9L1570.0 585.6L1628.0 576.4L1699.1 536.2L1774.1 497.3L1872.4 398.1L1968.3 298.6" stroke="#20b2aa" stroke-width="6.2" stroke-dasharray="23 10" fill="none" opacity="0.8"/>
<path d="M1250.0 416.0V436.0M1300.9 562.9V570.9M1380.3 581.7V589.7M1455.6 585.9V593.9M1513.2 584.9V592.9M1570.0 581.6V589.6M1628.0 572.4V580.4M1699.1 532.2V540.2M1774.1 493.3V501.3M1872.4 394.1V402.1M1968.3 294.6V302.6" stroke="#20b2aa" stroke-width="5.8" fill="none" opacity="0.8"/>
<g opacity="0.8"><path transform="translate(1250.0 426.0)" d="M-12.25 -12.25L12.25 -12.25L12.25 12.25L-12.25 12.25Z" fill="#20b2aa" stroke="#000" stroke-width="4.0" stroke-linejoin="miter"/></g>
<g opacity="0.8"><path transform="translate(1300.9 566.9)" d="M-12.25 -12.25L12.25 -12.25L12.25 12.25L-12.25 12.25Z" fill="#20b2aa" stroke="#000" stroke-width="4.0" stroke-linejoin="miter"/></g>
<g opacity="0.8"><path transform="translate(1380.3 585.7)" d="M-12.25 -12.25L12.25 -12.25L12.25 12.25L-12.25 12.25Z" fill="#20b2aa" stroke="#000" stroke-width="4.0" stroke-linejoin="miter"/></g>
<g opacity="0.8"><path transform="translate(1455.6 589.9)" d="M-12.25 -12.25L12.25 -12.25L12.25 12.25L-12.25 12.25Z" fill="#20b2aa" stroke="#000" stroke-width="4.0" stroke-linejoin="miter"/></g>
<g opacity="0.8"><path transform="translate(1513.2 588.9)" d="M-12.25 -12.25L12.25 -12.25L12.25 12.25L-12.25 12.25Z" fill="#20b2aa" stroke="#000" stroke-width="4.0" stroke-linejoin="miter"/></g>
<g opacity="0.8"><path transform="translate(1570.0 585.6)" d="M-12.25 -12.25L12.25 -12.25L12.25 12.25L-12.25 12.25Z" fill="#20b2aa" stroke="#000" stroke-width="4.0" stroke-linejoin="miter"/></g>
<g opacity="0.8"><path transform="translate(1628.0 576.4)" d="M-12.25 -12.25L12.25 -12.25L12.25 12.25L-12.25 12.25Z" fill="#20b2aa" stroke="#000" stroke-width="4.0" stroke-linejoin="miter"/></g>
<g opacity="0.8"><path transform="translate(1699.1 536.2)" d="M-12.25 -12.25L12.25 -12.25L12.25 12.25L-12.25 12.25Z" fill="#20b2aa" stroke="#000" stroke-width="4.0" stroke-linejoin="miter"/></g>
<g opacity="0.8"><path transform="translate(1774.1 497.3)" d="M-12.25 -12.25L12.25 -12.25L12.25 12.25L-12.25 12.25Z" fill="#20b2aa" stroke="#000" stroke-width="4.0" stroke-linejoin="miter"/></g>
<g opacity="0.8"><path transform="translate(1872.4 398.1)" d="M-12.25 -12.25L12.25 -12.25L12.25 12.25L-12.25 12.25Z" fill="#20b2aa" stroke="#000" stroke-width="4.0" stroke-linejoin="miter"/></g>
<g opacity="0.8"><path transform="translate(1968.3 298.6)" d="M-12.25 -12.25L12.25 -12.25L12.25 12.25L-12.25 12.25Z" fill="#20b2aa" stroke="#000" stroke-width="4.0" stroke-linejoin="miter"/></g>
<path d="M1221.0 520.0L1247.0 512.0L1295.2 543.6L1361.3 575.5L1421.1 589.2L1506.7 606.0L1583.6 599.6L1652.8 582.3L1725.0 557.6L1803.8 499.1L1892.8 429.6L1989.2 331.6" stroke="#20b2aa" stroke-width="6.2" stroke-dasharray="23 10" fill="none" opacity="0.8"/>
<path d="M1221.0 516.0V524.0M1247.0 508.0V516.0M1295.2 539.6V547.6M1361.3 571.5V579.5M1421.1 585.2V593.2M1506.7 602.0V610.0M1583.6 595.6V603.6M1652.8 578.3V586.3M1725.0 553.6V561.6M1803.8 495.1V503.1M1892.8 425.6V433.6M1989.2 327.6V335.6" stroke="#20b2aa" stroke-width="5.8" fill="none" opacity="0.8"/>
<g opacity="0.8"><path transform="translate(1221.0 520.0)" d="M0.00 -17.32L10.39 0.00L0.00 17.32L-10.39 0.00Z" fill="#20b2aa" stroke="#000" stroke-width="4.0" stroke-linejoin="miter"/></g>
<g opacity="0.8"><path transform="translate(1247.0 512.0)" d="M0.00 -17.32L10.39 0.00L0.00 17.32L-10.39 0.00Z" fill="#20b2aa" stroke="#000" stroke-width="4.0" stroke-linejoin="miter"/></g>
<g opacity="0.8"><path transform="translate(1295.2 543.6)" d="M0.00 -17.32L10.39 0.00L0.00 17.32L-10.39 0.00Z" fill="#20b2aa" stroke="#000" stroke-width="4.0" stroke-linejoin="miter"/></g>
<g opacity="0.8"><path transform="translate(1361.3 575.5)" d="M0.00 -17.32L10.39 0.00L0.00 17.32L-10.39 0.00Z" fill="#20b2aa" stroke="#000" stroke-width="4.0" stroke-linejoin="miter"/></g>
<g opacity="0.8"><path transform="translate(1421.1 589.2)" d="M0.00 -17.32L10.39 0.00L0.00 17.32L-10.39 0.00Z" fill="#20b2aa" stroke="#000" stroke-width="4.0" stroke-linejoin="miter"/></g>
<g opacity="0.8"><path transform="translate(1506.7 606.0)" d="M0.00 -17.32L10.39 0.00L0.00 17.32L-10.39 0.00Z" fill="#20b2aa" stroke="#000" stroke-width="4.0" stroke-linejoin="miter"/></g>
<g opacity="0.8"><path transform="translate(1583.6 599.6)" d="M0.00 -17.32L10.39 0.00L0.00 17.32L-10.39 0.00Z" fill="#20b2aa" stroke="#000" stroke-width="4.0" stroke-linejoin="miter"/></g>
<g opacity="0.8"><path transform="translate(1652.8 582.3)" d="M0.00 -17.32L10.39 0.00L0.00 17.32L-10.39 0.00Z" fill="#20b2aa" stroke="#000" stroke-width="4.0" stroke-linejoin="miter"/></g>
<g opacity="0.8"><path transform="translate(1725.0 557.6)" d="M0.00 -17.32L10.39 0.00L0.00 17.32L-10.39 0.00Z" fill="#20b2aa" stroke="#000" stroke-width="4.0" stroke-linejoin="miter"/></g>
<g opacity="0.8"><path transform="translate(1803.8 499.1)" d="M0.00 -17.32L10.39 0.00L0.00 17.32L-10.39 0.00Z" fill="#20b2aa" stroke="#000" stroke-width="4.0" stroke-linejoin="miter"/></g>
<g opacity="0.8"><path transform="translate(1892.8 429.6)" d="M0.00 -17.32L10.39 0.00L0.00 17.32L-10.39 0.00Z" fill="#20b2aa" stroke="#000" stroke-width="4.0" stroke-linejoin="miter"/></g>
<g opacity="0.8"><path transform="translate(1989.2 331.6)" d="M0.00 -17.32L10.39 0.00L0.00 17.32L-10.39 0.00Z" fill="#20b2aa" stroke="#000" stroke-width="4.0" stroke-linejoin="miter"/></g>
<path d="M1249.0 575.0L1277.0 534.0L1340.6 599.3L1400.9 607.4L1469.4 624.6L1546.4 620.3L1617.3 604.1L1691.3 580.3L1784.8 534.6L1874.4 455.1L1943.9 375.0" stroke="#550096" stroke-width="6.2" stroke-dasharray="23 10" fill="none" opacity="0.8"/>
<path d="M1249.0 571.0V579.0M1277.0 530.0V538.0M1340.6 595.3V603.3M1400.9 603.4V611.4M1469.4 620.6V628.6M1546.4 616.3V624.3M1617.3 600.1V608.1M1691.3 576.3V584.3M1784.8 530.6V538.6M1874.4 451.1V459.1M1943.9 371.0V379.0" stroke="#550096" stroke-width="5.8" fill="none" opacity="0.8"/>
<g opacity="0.8"><path transform="translate(1249.0 575.0)" d="M0.00 -17.32L10.39 0.00L0.00 17.32L-10.39 0.00Z" fill="#550096" stroke="#000" stroke-width="4.0" stroke-linejoin="miter"/></g>
<g opacity="0.8"><path transform="translate(1277.0 534.0)" d="M0.00 -17.32L10.39 0.00L0.00 17.32L-10.39 0.00Z" fill="#550096" stroke="#000" stroke-width="4.0" stroke-linejoin="miter"/></g>
<g opacity="0.8"><path transform="translate(1340.6 599.3)" d="M0.00 -17.32L10.39 0.00L0.00 17.32L-10.39 0.00Z" fill="#550096" stroke="#000" stroke-width="4.0" stroke-linejoin="miter"/></g>
<g opacity="0.8"><path transform="translate(1400.9 607.4)" d="M0.00 -17.32L10.39 0.00L0.00 17.32L-10.39 0.00Z" fill="#550096" stroke="#000" stroke-width="4.0" stroke-linejoin="miter"/></g>
<g opacity="0.8"><path transform="translate(1469.4 624.6)" d="M0.00 -17.32L10.39 0.00L0.00 17.32L-10.39 0.00Z" fill="#550096" stroke="#000" stroke-width="4.0" stroke-linejoin="miter"/></g>
<g opacity="0.8"><path transform="translate(1546.4 620.3)" d="M0.00 -17.32L10.39 0.00L0.00 17.32L-10.39 0.00Z" fill="#550096" stroke="#000" stroke-width="4.0" stroke-linejoin="miter"/></g>
<g opacity="0.8"><path transform="translate(1617.3 604.1)" d="M0.00 -17.32L10.39 0.00L0.00 17.32L-10.39 0.00Z" fill="#550096" stroke="#000" stroke-width="4.0" stroke-linejoin="miter"/></g>
<g opacity="0.8"><path transform="translate(1691.3 580.3)" d="M0.00 -17.32L10.39 0.00L0.00 17.32L-10.39 0.00Z" fill="#550096" stroke="#000" stroke-width="4.0" stroke-linejoin="miter"/></g>
<g opacity="0.8"><path transform="translate(1784.8 534.6)" d="M0.00 -17.32L10.39 0.00L0.00 17.32L-10.39 0.00Z" fill="#550096" stroke="#000" stroke-width="4.0" stroke-linejoin="miter"/></g>
<g opacity="0.8"><path transform="translate(1874.4 455.1)" d="M0.00 -17.32L10.39 0.00L0.00 17.32L-10.39 0.00Z" fill="#550096" stroke="#000" stroke-width="4.0" stroke-linejoin="miter"/></g>
<g opacity="0.8"><path transform="translate(1943.9 375.0)" d="M0.00 -17.32L10.39 0.00L0.00 17.32L-10.39 0.00Z" fill="#550096" stroke="#000" stroke-width="4.0" stroke-linejoin="miter"/></g>
<path d="M1289.0 567.0L1365.5 613.3L1441.5 632.2L1516.1 633.0L1600.5 625.7L1676.7 594.1L1758.7 540.6L1851.5 466.9L1955.9 347.7" stroke="#550096" stroke-width="6.2" stroke-dasharray="23 10" fill="none" opacity="0.8"/>
<path d="M1289.0 563.0V571.0M1365.5 609.3V617.3M1441.5 628.2V636.2M1516.1 629.0V637.0M1600.5 621.7V629.7M1676.7 590.1V598.1M1758.7 536.6V544.6M1851.5 462.9V470.9M1955.9 343.7V351.7" stroke="#550096" stroke-width="5.8" fill="none" opacity="0.8"/>
<g opacity="0.8"><path transform="translate(1289.0 567.0)" d="M-6.12 -12.25L0.00 -6.12L6.12 -12.25L12.25 -6.12L6.12 0.00L12.25 6.12L6.12 12.25L0.00 6.12L-6.12 12.25L-12.25 6.12L-6.12 0.00L-12.25 -6.12Z" fill="#550096" stroke="#000" stroke-width="4.0" stroke-linejoin="miter"/></g>
<g opacity="0.8"><path transform="translate(1365.5 613.3)" d="M-6.12 -12.25L0.00 -6.12L6.12 -12.25L12.25 -6.12L6.12 0.00L12.25 6.12L6.12 12.25L0.00 6.12L-6.12 12.25L-12.25 6.12L-6.12 0.00L-12.25 -6.12Z" fill="#550096" stroke="#000" stroke-width="4.0" stroke-linejoin="miter"/></g>
<g opacity="0.8"><path transform="translate(1441.5 632.2)" d="M-6.12 -12.25L0.00 -6.12L6.12 -12.25L12.25 -6.12L6.12 0.00L12.25 6.12L6.12 12.25L0.00 6.12L-6.12 12.25L-12.25 6.12L-6.12 0.00L-12.25 -6.12Z" fill="#550096" stroke="#000" stroke-width="4.0" stroke-linejoin="miter"/></g>
<g opacity="0.8"><path transform="translate(1516.1 633.0)" d="M-6.12 -12.25L0.00 -6.12L6.12 -12.25L12.25 -6.12L6.12 0.00L12.25 6.12L6.12 12.25L0.00 6.12L-6.12 12.25L-12.25 6.12L-6.12 0.00L-12.25 -6.12Z" fill="#550096" stroke="#000" stroke-width="4.0" stroke-linejoin="miter"/></g>
<g opacity="0.8"><path transform="translate(1600.5 625.7)" d="M-6.12 -12.25L0.00 -6.12L6.12 -12.25L12.25 -6.12L6.12 0.00L12.25 6.12L6.12 12.25L0.00 6.12L-6.12 12.25L-12.25 6.12L-6.12 0.00L-12.25 -6.12Z" fill="#550096" stroke="#000" stroke-width="4.0" stroke-linejoin="miter"/></g>
<g opacity="0.8"><path transform="translate(1676.7 594.1)" d="M-6.12 -12.25L0.00 -6.12L6.12 -12.25L12.25 -6.12L6.12 0.00L12.25 6.12L6.12 12.25L0.00 6.12L-6.12 12.25L-12.25 6.12L-6.12 0.00L-12.25 -6.12Z" fill="#550096" stroke="#000" stroke-width="4.0" stroke-linejoin="miter"/></g>
<g opacity="0.8"><path transform="translate(1758.7 540.6)" d="M-6.12 -12.25L0.00 -6.12L6.12 -12.25L12.25 -6.12L6.12 0.00L12.25 6.12L6.12 12.25L0.00 6.12L-6.12 12.25L-12.25 6.12L-6.12 0.00L-12.25 -6.12Z" fill="#550096" stroke="#000" stroke-width="4.0" stroke-linejoin="miter"/></g>
<g opacity="0.8"><path transform="translate(1851.5 466.9)" d="M-6.12 -12.25L0.00 -6.12L6.12 -12.25L12.25 -6.12L6.12 0.00L12.25 6.12L6.12 12.25L0.00 6.12L-6.12 12.25L-12.25 6.12L-6.12 0.00L-12.25 -6.12Z" fill="#550096" stroke="#000" stroke-width="4.0" stroke-linejoin="miter"/></g>
<g opacity="0.8"><path transform="translate(1955.9 347.7)" d="M-6.12 -12.25L0.00 -6.12L6.12 -12.25L12.25 -6.12L6.12 0.00L12.25 6.12L6.12 12.25L0.00 6.12L-6.12 12.25L-12.25 6.12L-6.12 0.00L-12.25 -6.12Z" fill="#550096" stroke="#000" stroke-width="4.0" stroke-linejoin="miter"/></g>
<path d="M1331.0 578.9L1395.5 591.7L1470.3 593.1L1552.7 596.7L1644.4 580.7L1733.0 534.8L1809.3 490.0L1880.4 430.6L1985.0 334.7" stroke="#20b2aa" stroke-width="6.2" stroke-dasharray="23 10" fill="none" opacity="0.8"/>
<path d="M1331.0 574.9V582.9M1395.5 587.7V595.7M1470.3 589.1V597.1M1552.7 592.7V600.7M1644.4 576.7V584.7M1733.0 530.8V538.8M1809.3 486.0V494.0M1880.4 426.6V434.6M1985.0 330.7V338.7" stroke="#20b2aa" stroke-width="5.8" fill="none" opacity="0.8"/>
<g opacity="0.8"><path transform="translate(1331.0 578.9)" d="M-6.12 -12.25L0.00 -6.12L6.12 -12.25L12.25 -6.12L6.12 0.00L12.25 6.12L6.12 12.25L0.00 6.12L-6.12 12.25L-12.25 6.12L-6.12 0.00L-12.25 -6.12Z" fill="#20b2aa" stroke="#000" stroke-width="4.0" stroke-linejoin="miter"/></g>
<g opacity="0.8"><path transform="translate(1395.5 591.7)" d="M-6.12 -12.25L0.00 -6.12L6.12 -12.25L12.25 -6.12L6.12 0.00L12.25 6.12L6.12 12.25L0.00 6.12L-6.12 12.25L-12.25 6.12L-6.12 0.00L-12.25 -6.12Z" fill="#20b2aa" stroke="#000" stroke-width="4.0" stroke-linejoin="miter"/></g>
<g opacity="0.8"><path transform="translate(1470.3 593.1)" d="M-6.12 -12.25L0.00 -6.12L6.12 -12.25L12.25 -6.12L6.12 0.00L12.25 6.12L6.12 12.25L0.00 6.12L-6.12 12.25L-12.25 6.12L-6.12 0.00L-12.25 -6.12Z" fill="#20b2aa" stroke="#000" stroke-width="4.0" stroke-linejoin="miter"/></g>
<g opacity="0.8"><path transform="translate(1552.7 596.7)" d="M-6.12 -12.25L0.00 -6.12L6.12 -12.25L12.25 -6.12L6.12 0.00L12.25 6.12L6.12 12.25L0.00 6.12L-6.12 12.25L-12.25 6.12L-6.12 0.00L-12.25 -6.12Z" fill="#20b2aa" stroke="#000" stroke-width="4.0" stroke-linejoin="miter"/></g>
<g opacity="0.8"><path transform="translate(1644.4 580.7)" d="M-6.12 -12.25L0.00 -6.12L6.12 -12.25L12.25 -6.12L6.12 0.00L12.25 6.12L6.12 12.25L0.00 6.12L-6.12 12.25L-12.25 6.12L-6.12 0.00L-12.25 -6.12Z" fill="#20b2aa" stroke="#000" stroke-width="4.0" stroke-linejoin="miter"/></g>
<g opacity="0.8"><path transform="translate(1733.0 534.8)" d="M-6.12 -12.25L0.00 -6.12L6.12 -12.25L12.25 -6.12L6.12 0.00L12.25 6.12L6.12 12.25L0.00 6.12L-6.12 12.25L-12.25 6.12L-6.12 0.00L-12.25 -6.12Z" fill="#20b2aa" stroke="#000" stroke-width="4.0" stroke-linejoin="miter"/></g>
<g opacity="0.8"><path transform="translate(1809.3 490.0)" d="M-6.12 -12.25L0.00 -6.12L6.12 -12.25L12.25 -6.12L6.12 0.00L12.25 6.12L6.12 12.25L0.00 6.12L-6.12 12.25L-12.25 6.12L-6.12 0.00L-12.25 -6.12Z" fill="#20b2aa" stroke="#000" stroke-width="4.0" stroke-linejoin="miter"/></g>
<g opacity="0.8"><path transform="translate(1880.4 430.6)" d="M-6.12 -12.25L0.00 -6.12L6.12 -12.25L12.25 -6.12L6.12 0.00L12.25 6.12L6.12 12.25L0.00 6.12L-6.12 12.25L-12.25 6.12L-6.12 0.00L-12.25 -6.12Z" fill="#20b2aa" stroke="#000" stroke-width="4.0" stroke-linejoin="miter"/></g>
<g opacity="0.8"><path transform="translate(1985.0 334.7)" d="M-6.12 -12.25L0.00 -6.12L6.12 -12.25L12.25 -6.12L6.12 0.00L12.25 6.12L6.12 12.25L0.00 6.12L-6.12 12.25L-12.25 6.12L-6.12 0.00L-12.25 -6.12Z" fill="#20b2aa" stroke="#000" stroke-width="4.0" stroke-linejoin="miter"/></g>
<path d="M1338.0 543.0L1390.0 550.0L1450.0 560.0L1520.0 575.0L1580.0 560.0L1625.0 534.0L1696.0 491.0L1760.0 470.0L1840.0 420.0L1920.0 380.0L1990.0 345.0" stroke="#550096" stroke-width="6.2" stroke-dasharray="23 10" fill="none" opacity="0.8"/>
<path d="M1338.0 539.0V547.0M1390.0 546.0V554.0M1450.0 556.0V564.0M1520.0 571.0V579.0M1580.0 556.0V564.0M1625.0 530.0V538.0M1696.0 487.0V495.0M1760.0 466.0V474.0M1840.0 416.0V424.0M1920.0 376.0V384.0M1990.0 341.0V349.0" stroke="#550096" stroke-width="5.8" fill="none" opacity="0.8"/>
<g opacity="0.8"><path transform="translate(1338.0 543.0)" d="M0.00 -12.25L-11.65 -3.79L-7.20 9.91L7.20 9.91L11.65 -3.79Z" fill="#550096" stroke="#000" stroke-width="4.0" stroke-linejoin="miter"/></g>
<g opacity="0.8"><path transform="translate(1390.0 550.0)" d="M0.00 -12.25L-11.65 -3.79L-7.20 9.91L7.20 9.91L11.65 -3.79Z" fill="#550096" stroke="#000" stroke-width="4.0" stroke-linejoin="miter"/></g>
<g opacity="0.8"><path transform="translate(1450.0 560.0)" d="M0.00 -12.25L-11.65 -3.79L-7.20 9.91L7.20 9.91L11.65 -3.79Z" fill="#550096" stroke="#000" stroke-width="4.0" stroke-linejoin="miter"/></g>
<g opacity="0.8"><path transform="translate(1520.0 575.0)" d="M0.00 -12.25L-11.65 -3.79L-7.20 9.91L7.20 9.91L11.65 -3.79Z" fill="#550096" stroke="#000" stroke-width="4.0" stroke-linejoin="miter"/></g>
<g opacity="0.8"><path transform="translate(1580.0 560.0)" d="M0.00 -12.25L-11.65 -3.79L-7.20 9.91L7.20 9.91L11.65 -3.79Z" fill="#550096" stroke="#000" stroke-width="4.0" stroke-linejoin="miter"/></g>
<g opacity="0.8"><path transform="translate(1625.0 534.0)" d="M0.00 -12.25L-11.65 -3.79L-7.20 9.91L7.20 9.91L11.65 -3.79Z" fill="#550096" stroke="#000" stroke-width="4.0" stroke-linejoin="miter"/></g>
<g opacity="0.8"><path transform="translate(1696.0 491.0)" d="M0.00 -12.25L-11.65 -3.79L-7.20 9.91L7.20 9.91L11.65 -3.79Z" fill="#550096" stroke="#000" stroke-width="4.0" stroke-linejoin="miter"/></g>
<g opacity="0.8"><path transform="translate(1760.0 470.0)" d="M0.00 -12.25L-11.65 -3.79L-7.20 9.91L7.20 9.91L11.65 -3.79Z" fill="#550096" stroke="#000" stroke-width="4.0" stroke-linejoin="miter"/></g>
<g opacity="0.8"><path transform="translate(1840.0 420.0)" d="M0.00 -12.25L-11.65 -3.79L-7.20 9.91L7.20 9.91L11.65 -3.79Z" fill="#550096" stroke="#000" stroke-width="4.0" stroke-linejoin="miter"/></g>
<g opacity="0.8"><path transform="translate(1920.0 380.0)" d="M0.00 -12.25L-11.65 -3.79L-7.20 9.91L7.20 9.91L11.65 -3.79Z" fill="#550096" stroke="#000" stroke-width="4.0" stroke-linejoin="miter"/></g>
<g opacity="0.8"><path transform="translate(1990.0 345.0)" d="M0.00 -12.25L-11.65 -3.79L-7.20 9.91L7.20 9.91L11.65 -3.79Z" fill="#550096" stroke="#000" stroke-width="4.0" stroke-linejoin="miter"/></g>
<path d="M1280.1 603.9L1357.5 627.1L1429.8 639.9L1468.0 671.0L1542.0 658.0L1593.1 639.2L1650.8 619.4L1750.0 570.1L1857.2 504.0L1944.3 415.2" stroke="#20b2aa" stroke-width="6.2" stroke-dasharray="23 10" fill="none" opacity="0.8"/>
<path d="M1280.1 599.9V607.9M1357.5 623.1V631.1M1429.8 635.9V643.9M1468.0 667.0V675.0M1542.0 654.0V662.0M1593.1 635.2V643.2M1650.8 615.4V623.4M1750.0 566.1V574.1M1857.2 500.0V508.0M1944.3 411.2V419.2" stroke="#20b2aa" stroke-width="5.8" fill="none" opacity="0.8"/>
<g opacity="0.8"><path transform="translate(1280.1 603.9)" d="M0.00 -12.25L-11.65 -3.79L-7.20 9.91L7.20 9.91L11.65 -3.79Z" fill="#20b2aa" stroke="#000" stroke-width="4.0" stroke-linejoin="miter"/></g>
<g opacity="0.8"><path transform="translate(1357.5 627.1)" d="M0.00 -12.25L-11.65 -3.79L-7.20 9.91L7.20 9.91L11.65 -3.79Z" fill="#20b2aa" stroke="#000" stroke-width="4.0" stroke-linejoin="miter"/></g>
<g opacity="0.8"><path transform="translate(1429.8 639.9)" d="M0.00 -12.25L-11.65 -3.79L-7.20 9.91L7.20 9.91L11.65 -3.79Z" fill="#20b2aa" stroke="#000" stroke-width="4.0" stroke-linejoin="miter"/></g>
<g opacity="0.8"><path transform="translate(1468.0 671.0)" d="M0.00 -12.25L-11.65 -3.79L-7.20 9.91L7.20 9.91L11.65 -3.79Z" fill="#20b2aa" stroke="#000" stroke-width="4.0" stroke-linejoin="miter"/></g>
<g opacity="0.8"><path transform="translate(1542.0 658.0)" d="M0.00 -12.25L-11.65 -3.79L-7.20 9.91L7.20 9.91L11.65 -3.79Z" fill="#20b2aa" stroke="#000" stroke-width="4.0" stroke-linejoin="miter"/></g>
<g opacity="0.8"><path transform="translate(1593.1 639.2)" d="M0.00 -12.25L-11.65 -3.79L-7.20 9.91L7.20 9.91L11.65 -3.79Z" fill="#20b2aa" stroke="#000" stroke-width="4.0" stroke-linejoin="miter"/></g>
<g opacity="0.8"><path transform="translate(1650.8 619.4)" d="M0.00 -12.25L-11.65 -3.79L-7.20 9.91L7.20 9.91L11.65 -3.79Z" fill="#20b2aa" stroke="#000" stroke-width="4.0" stroke-linejoin="miter"/></g>
<g opacity="0.8"><path transform="translate(1750.0 570.1)" d="M0.00 -12.25L-11.65 -3.79L-7.20 9.91L7.20 9.91L11.65 -3.79Z" fill="#20b2aa" stroke="#000" stroke-width="4.0" stroke-linejoin="miter"/></g>
<g opacity="0.8"><path transform="translate(1857.2 504.0)" d="M0.00 -12.25L-11.65 -3.79L-7.20 9.91L7.20 9.91L11.65 -3.79Z" fill="#20b2aa" stroke="#000" stroke-width="4.0" stroke-linejoin="miter"/></g>
<g opacity="0.8"><path transform="translate(1944.3 415.2)" d="M0.00 -12.25L-11.65 -3.79L-7.20 9.91L7.20 9.91L11.65 -3.79Z" fill="#20b2aa" stroke="#000" stroke-width="4.0" stroke-linejoin="miter"/></g>
<path d="M1289.0 476.0L1330.0 560.0L1400.0 585.0L1470.0 575.0L1545.0 560.0L1610.0 530.0L1660.0 500.0L1700.0 470.0L1785.0 382.0L1852.0 330.0L1910.0 254.0L1969.0 147.0L2000.0 110.0" stroke="#20b2aa" stroke-width="6.2" stroke-dasharray="23 10" fill="none" opacity="0.8"/>
<path d="M1289.0 464.0V488.0M1330.0 556.0V564.0M1400.0 581.0V589.0M1470.0 571.0V579.0M1545.0 556.0V564.0M1610.0 526.0V534.0M1660.0 496.0V504.0M1700.0 466.0V474.0M1785.0 378.0V386.0M1852.0 326.0V334.0M1910.0 250.0V258.0M1969.0 143.0V151.0M2000.0 106.0V114.0" stroke="#20b2aa" stroke-width="5.8" fill="none" opacity="0.8"/>
<g opacity="0.8"><path transform="translate(1289.0 476.0)" d="M0.00 -12.25L12.25 12.25L-12.25 12.25Z" fill="#20b2aa" stroke="#000" stroke-width="4.0" stroke-linejoin="miter"/></g>
<g opacity="0.8"><path transform="translate(1330.0 560.0)" d="M0.00 -12.25L12.25 12.25L-12.25 12.25Z" fill="#20b2aa" stroke="#000" stroke-width="4.0" stroke-linejoin="miter"/></g>
<g opacity="0.8"><path transform="translate(1400.0 585.0)" d="M0.00 -12.25L12.25 12.25L-12.25 12.25Z" fill="#20b2aa" stroke="#000" stroke-width="4.0" stroke-linejoin="miter"/></g>
<g opacity="0.8"><path transform="translate(1470.0 575.0)" d="M0.00 -12.25L12.25 12.25L-12.25 12.25Z" fill="#20b2aa" stroke="#000" stroke-width="4.0" stroke-linejoin="miter"/></g>
<g opacity="0.8"><path transform="translate(1545.0 560.0)" d="M0.00 -12.25L12.25 12.25L-12.25 12.25Z" fill="#20b2aa" stroke="#000" stroke-width="4.0" stroke-linejoin="miter"/></g>
<g opacity="0.8"><path transform="translate(1610.0 530.0)" d="M0.00 -12.25L12.25 12.25L-12.25 12.25Z" fill="#20b2aa" stroke="#000" stroke-width="4.0" stroke-linejoin="miter"/></g>
<g opacity="0.8"><path transform="translate(1660.0 500.0)" d="M0.00 -12.25L12.25 12.25L-12.25 12.25Z" fill="#20b2aa" stroke="#000" stroke-width="4.0" stroke-linejoin="miter"/></g>
<g opacity="0.8"><path transform="translate(1700.0 470.0)" d="M0.00 -12.25L12.25 12.25L-12.25 12.25Z" fill="#20b2aa" stroke="#000" stroke-width="4.0" stroke-linejoin="miter"/></g>
<g opacity="0.8"><path transform="translate(1785.0 382.0)" d="M0.00 -12.25L12.25 12.25L-12.25 12.25Z" fill="#20b2aa" stroke="#000" stroke-width="4.0" stroke-linejoin="miter"/></g>
<g opacity="0.8"><path transform="translate(1852.0 330.0)" d="M0.00 -12.25L12.25 12.25L-12.25 12.25Z" fill="#20b2aa" stroke="#000" stroke-width="4.0" stroke-linejoin="miter"/></g>
<g opacity="0.8"><path transform="translate(1910.0 254.0)" d="M0.00 -12.25L12.25 12.25L-12.25 12.25Z" fill="#20b2aa" stroke="#000" stroke-width="4.0" stroke-linejoin="miter"/></g>
<g opacity="0.8"><path transform="translate(1969.0 147.0)" d="M0.00 -12.25L12.25 12.25L-12.25 12.25Z" fill="#20b2aa" stroke="#000" stroke-width="4.0" stroke-linejoin="miter"/></g>
<g opacity="0.8"><path transform="translate(2000.0 110.0)" d="M0.00 -12.25L12.25 12.25L-12.25 12.25Z" fill="#20b2aa" stroke="#000" stroke-width="4.0" stroke-linejoin="miter"/></g>
<path d="M1181.0 620.0L1212.0 559.0L1260.0 570.0L1320.0 590.0L1380.0 600.0L1440.0 590.0L1513.0 568.0L1580.0 550.0L1650.0 520.0L1700.0 495.0L1755.0 474.0L1796.0 458.0L1826.0 444.0L1883.0 396.0L1918.0 355.0L1990.0 320.0" stroke="#550096" stroke-width="6.2" stroke-dasharray="23 10" fill="none" opacity="0.8"/>
<path d="M1181.0 616.0V624.0M1212.0 555.0V563.0M1260.0 566.0V574.0M1320.0 586.0V594.0M1380.0 596.0V604.0M1440.0 586.0V594.0M1513.0 564.0V572.0M1580.0 546.0V554.0M1650.0 516.0V524.0M1700.0 491.0V499.0M1755.0 470.0V478.0M1796.0 454.0V462.0M1826.0 440.0V448.0M1883.0 392.0V400.0M1918.0 351.0V359.0M1990.0 316.0V324.0" stroke="#550096" stroke-width="5.8" fill="none" opacity="0.8"/>
<g opacity="0.8"><path transform="translate(1181.0 620.0)" d="M0.00 -12.25L12.25 12.25L-12.25 12.25Z" fill="#550096" stroke="#000" stroke-width="4.0" stroke-linejoin="miter"/></g>
<g opacity="0.8"><path transform="translate(1212.0 559.0)" d="M0.00 -12.25L12.25 12.25L-12.25 12.25Z" fill="#550096" stroke="#000" stroke-width="4.0" stroke-linejoin="miter"/></g>
<g opacity="0.8"><path transform="translate(1260.0 570.0)" d="M0.00 -12.25L12.25 12.25L-12.25 12.25Z" fill="#550096" stroke="#000" stroke-width="4.0" stroke-linejoin="miter"/></g>
<g opacity="0.8"><path transform="translate(1320.0 590.0)" d="M0.00 -12.25L12.25 12.25L-12.25 12.25Z" fill="#550096" stroke="#000" stroke-width="4.0" stroke-linejoin="miter"/></g>
<g opacity="0.8"><path transform="translate(1380.0 600.0)" d="M0.00 -12.25L12.25 12.25L-12.25 12.25Z" fill="#550096" stroke="#000" stroke-width="4.0" stroke-linejoin="miter"/></g>
<g opacity="0.8"><path transform="translate(1440.0 590.0)" d="M0.00 -12.25L12.25 12.25L-12.25 12.25Z" fill="#550096" stroke="#000" stroke-width="4.0" stroke-linejoin="miter"/></g>
<g opacity="0.8"><path transform="translate(1513.0 568.0)" d="M0.00 -12.25L12.25 12.25L-12.25 12.25Z" fill="#550096" stroke="#000" stroke-width="4.0" stroke-linejoin="miter"/></g>
<g opacity="0.8"><path transform="translate(1580.0 550.0)" d="M0.00 -12.25L12.25 12.25L-12.25 12.25Z" fill="#550096" stroke="#000" stroke-width="4.0" stroke-linejoin="miter"/></g>
<g opacity="0.8"><path transform="translate(1650.0 520.0)" d="M0.00 -12.25L12.25 12.25L-12.25 12.25Z" fill="#550096" stroke="#000" stroke-width="4.0" stroke-linejoin="miter"/></g>
<g opacity="0.8"><path transform="translate(1700.0 495.0)" d="M0.00 -12.25L12.25 12.25L-12.25 12.25Z" fill="#550096" stroke="#000" stroke-width="4.0" stroke-linejoin="miter"/></g>
<g opacity="0.8"><path transform="translate(1755.0 474.0)" d="M0.00 -12.25L12.25 12.25L-12.25 12.25Z" fill="#550096" stroke="#000" stroke-width="4.0" stroke-linejoin="miter"/></g>
<g opacity="0.8"><path transform="translate(1796.0 458.0)" d="M0.00 -12.25L12.25 12.25L-12.25 12.25Z" fill="#550096" stroke="#000" stroke-width="4.0" stroke-linejoin="miter"/></g>
<g opacity="0.8"><path transform="translate(1826.0 444.0)" d="M0.00 -12.25L12.25 12.25L-12.25 12.25Z" fill="#550096" stroke="#000" stroke-width="4.0" stroke-linejoin="miter"/></g>
<g opacity="0.8"><path transform="translate(1883.0 396.0)" d="M0.00 -12.25L12.25 12.25L-12.25 12.25Z" fill="#550096" stroke="#000" stroke-width="4.0" stroke-linejoin="miter"/></g>
<g opacity="0.8"><path transform="translate(1918.0 355.0)" d="M0.00 -12.25L12.25 12.25L-12.25 12.25Z" fill="#550096" stroke="#000" stroke-width="4.0" stroke-linejoin="miter"/></g>
<g opacity="0.8"><path transform="translate(1990.0 320.0)" d="M0.00 -12.25L12.25 12.25L-12.25 12.25Z" fill="#550096" stroke="#000" stroke-width="4.0" stroke-linejoin="miter"/></g>
<path d="M1374.0 662.0L1426.9 623.7L1486.6 626.3L1570.4 614.8L1635.0 592.7L1722.7 557.1L1812.7 485.9L1922.8 374.6" stroke="#20b2aa" stroke-width="6.2" stroke-dasharray="23 10" fill="none" opacity="0.8"/>
<path d="M1374.0 658.0V666.0M1426.9 619.7V627.7M1486.6 622.3V630.3M1570.4 610.8V618.8M1635.0 588.7V596.7M1722.7 553.1V561.1M1812.7 481.9V489.9M1922.8 370.6V378.6" stroke="#20b2aa" stroke-width="5.8" fill="none" opacity="0.8"/>
<g opacity="0.8"><path transform="translate(1374.0 662.0)" d="M12.25 0.00L-12.25 -12.25L-12.25 12.25Z" fill="#20b2aa" stroke="#000" stroke-width="4.0" stroke-linejoin="miter"/></g>
<g opacity="0.8"><path transform="translate(1426.9 623.7)" d="M12.25 0.00L-12.25 -12.25L-12.25 12.25Z" fill="#20b2aa" stroke="#000" stroke-width="4.0" stroke-linejoin="miter"/></g>
<g opacity="0.8"><path transform="translate(1486.6 626.3)" d="M12.25 0.00L-12.25 -12.25L-12.25 12.25Z" fill="#20b2aa" stroke="#000" stroke-width="4.0" stroke-linejoin="miter"/></g>
<g opacity="0.8"><path transform="translate(1570.4 614.8)" d="M12.25 0.00L-12.25 -12.25L-12.25 12.25Z" fill="#20b2aa" stroke="#000" stroke-width="4.0" stroke-linejoin="miter"/></g>
<g opacity="0.8"><path transform="translate(1635.0 592.7)" d="M12.25 0.00L-12.25 -12.25L-12.25 12.25Z" fill="#20b2aa" stroke="#000" stroke-width="4.0" stroke-linejoin="miter"/></g>
<g opacity="0.8"><path transform="translate(1722.7 557.1)" d="M12.25 0.00L-12.25 -12.25L-12.25 12.25Z" fill="#20b2aa" stroke="#000" stroke-width="4.0" stroke-linejoin="miter"/></g>
<g opacity="0.8"><path transform="translate(1812.7 485.9)" d="M12.25 0.00L-12.25 -12.25L-12.25 12.25Z" fill="#20b2aa" stroke="#000" stroke-width="4.0" stroke-linejoin="miter"/></g>
<g opacity="0.8"><path transform="translate(1922.8 374.6)" d="M12.25 0.00L-12.25 -12.25L-12.25 12.25Z" fill="#20b2aa" stroke="#000" stroke-width="4.0" stroke-linejoin="miter"/></g>
<path d="M1299.9 575.4L1368.6 585.4L1459.4 606.3L1521.4 605.6L1585.4 594.4L1662.6 573.8L1732.1 535.1L1818.5 467.5L1931.8 352.1" stroke="#20b2aa" stroke-width="6.2" stroke-dasharray="23 10" fill="none" opacity="0.8"/>
<path d="M1299.9 571.4V579.4M1368.6 581.4V589.4M1459.4 602.3V610.3M1521.4 601.6V609.6M1585.4 590.4V598.4M1662.6 569.8V577.8M1732.1 531.1V539.1M1818.5 463.5V471.5M1931.8 348.1V356.1" stroke="#20b2aa" stroke-width="5.8" fill="none" opacity="0.8"/>
<g opacity="0.8"><path transform="translate(1299.9 575.4)" d="M-12.25 0.00L12.25 -12.25L12.25 12.25Z" fill="#20b2aa" stroke="#000" stroke-width="4.0" stroke-linejoin="miter"/></g>
<g opacity="0.8"><path transform="translate(1368.6 585.4)" d="M-12.25 0.00L12.25 -12.25L12.25 12.25Z" fill="#20b2aa" stroke="#000" stroke-width="4.0" stroke-linejoin="miter"/></g>
<g opacity="0.8"><path transform="translate(1459.4 606.3)" d="M-12.25 0.00L12.25 -12.25L12.25 12.25Z" fill="#20b2aa" stroke="#000" stroke-width="4.0" stroke-linejoin="miter"/></g>
<g opacity="0.8"><path transform="translate(1521.4 605.6)" d="M-12.25 0.00L12.25 -12.25L12.25 12.25Z" fill="#20b2aa" stroke="#000" stroke-width="4.0" stroke-linejoin="miter"/></g>
<g opacity="0.8"><path transform="translate(1585.4 594.4)" d="M-12.25 0.00L12.25 -12.25L12.25 12.25Z" fill="#20b2aa" stroke="#000" stroke-width="4.0" stroke-linejoin="miter"/></g>
<g opacity="0.8"><path transform="translate(1662.6 573.8)" d="M-12.25 0.00L12.25 -12.25L12.25 12.25Z" fill="#20b2aa" stroke="#000" stroke-width="4.0" stroke-linejoin="miter"/></g>
<g opacity="0.8"><path transform="translate(1732.1 535.1)" d="M-12.25 0.00L12.25 -12.25L12.25 12.25Z" fill="#20b2aa" stroke="#000" stroke-width="4.0" stroke-linejoin="miter"/></g>
<g opacity="0.8"><path transform="translate(1818.5 467.5)" d="M-12.25 0.00L12.25 -12.25L12.25 12.25Z" fill="#20b2aa" stroke="#000" stroke-width="4.0" stroke-linejoin="miter"/></g>
<g opacity="0.8"><path transform="translate(1931.8 352.1)" d="M-12.25 0.00L12.25 -12.25L12.25 12.25Z" fill="#20b2aa" stroke="#000" stroke-width="4.0" stroke-linejoin="miter"/></g>
<path d="M1243.0 371.0L1300.0 470.0L1396.0 536.0L1466.0 563.0L1532.0 566.0L1600.0 540.0L1690.0 490.0L1753.0 441.0L1820.0 400.0L1887.0 344.0L1939.0 273.0L1990.0 255.0" stroke="#20b2aa" stroke-width="6.2" stroke-dasharray="23 10" fill="none" opacity="0.8"/>
<path d="M1243.0 361.0V381.0M1300.0 466.0V474.0M1396.0 526.0V546.0M1466.0 559.0V567.0M1532.0 562.0V570.0M1600.0 536.0V544.0M1690.0 486.0V494.0M1753.0 437.0V445.0M1820.0 396.0V404.0M1887.0 340.0V348.0M1939.0 269.0V277.0M1990.0 251.0V259.0" stroke="#20b2aa" stroke-width="5.8" fill="none" opacity="0.8"/>
<g opacity="0.8"><path transform="translate(1243.0 371.0)" d="M-4.08 -12.25L4.08 -12.25L4.08 -4.08L12.25 -4.08L12.25 4.08L4.08 4.08L4.08 12.25L-4.08 12.25L-4.08 4.08L-12.25 4.08L-12.25 -4.08L-4.08 -4.08Z" fill="#20b2aa" stroke="#000" stroke-width="4.0" stroke-linejoin="miter"/></g>
<g opacity="0.8"><path transform="translate(1300.0 470.0)" d="M-4.08 -12.25L4.08 -12.25L4.08 -4.08L12.25 -4.08L12.25 4.08L4.08 4.08L4.08 12.25L-4.08 12.25L-4.08 4.08L-12.25 4.08L-12.25 -4.08L-4.08 -4.08Z" fill="#20b2aa" stroke="#000" stroke-width="4.0" stroke-linejoin="miter"/></g>
<g opacity="0.8"><path transform="translate(1396.0 536.0)" d="M-4.08 -12.25L4.08 -12.25L4.08 -4.08L12.25 -4.08L12.25 4.08L4.08 4.08L4.08 12.25L-4.08 12.25L-4.08 4.08L-12.25 4.08L-12.25 -4.08L-4.08 -4.08Z" fill="#20b2aa" stroke="#000" stroke-width="4.0" stroke-linejoin="miter"/></g>
<g opacity="0.8"><path transform="translate(1466.0 563.0)" d="M-4.08 -12.25L4.08 -12.25L4.08 -4.08L12.25 -4.08L12.25 4.08L4.08 4.08L4.08 12.25L-4.08 12.25L-4.08 4.08L-12.25 4.08L-12.25 -4.08L-4.08 -4.08Z" fill="#20b2aa" stroke="#000" stroke-width="4.0" stroke-linejoin="miter"/></g>
<g opacity="0.8"><path transform="translate(1532.0 566.0)" d="M-4.08 -12.25L4.08 -12.25L4.08 -4.08L12.25 -4.08L12.25 4.08L4.08 4.08L4.08 12.25L-4.08 12.25L-4.08 4.08L-12.25 4.08L-12.25 -4.08L-4.08 -4.08Z" fill="#20b2aa" stroke="#000" stroke-width="4.0" stroke-linejoin="miter"/></g>
<g opacity="0.8"><path transform="translate(1600.0 540.0)" d="M-4.08 -12.25L4.08 -12.25L4.08 -4.08L12.25 -4.08L12.25 4.08L4.08 4.08L4.08 12.25L-4.08 12.25L-4.08 4.08L-12.25 4.08L-12.25 -4.08L-4.08 -4.08Z" fill="#20b2aa" stroke="#000" stroke-width="4.0" stroke-linejoin="miter"/></g>
<g opacity="0.8"><path transform="translate(1690.0 490.0)" d="M-4.08 -12.25L4.08 -12.25L4.08 -4.08L12.25 -4.08L12.25 4.08L4.08 4.08L4.08 12.25L-4.08 12.25L-4.08 4.08L-12.25 4.08L-12.25 -4.08L-4.08 -4.08Z" fill="#20b2aa" stroke="#000" stroke-width="4.0" stroke-linejoin="miter"/></g>
<g opacity="0.8"><path transform="translate(1753.0 441.0)" d="M-4.08 -12.25L4.08 -12.25L4.08 -4.08L12.25 -4.08L12.25 4.08L4.08 4.08L4.08 12.25L-4.08 12.25L-4.08 4.08L-12.25 4.08L-12.25 -4.08L-4.08 -4.08Z" fill="#20b2aa" stroke="#000" stroke-width="4.0" stroke-linejoin="miter"/></g>
<g opacity="0.8"><path transform="translate(1820.0 400.0)" d="M-4.08 -12.25L4.08 -12.25L4.08 -4.08L12.25 -4.08L12.25 4.08L4.08 4.08L4.08 12.25L-4.08 12.25L-4.08 4.08L-12.25 4.08L-12.25 -4.08L-4.08 -4.08Z" fill="#20b2aa" stroke="#000" stroke-width="4.0" stroke-linejoin="miter"/></g>
<g opacity="0.8"><path transform="translate(1887.0 344.0)" d="M-4.08 -12.25L4.08 -12.25L4.08 -4.08L12.25 -4.08L12.25 4.08L4.08 4.08L4.08 12.25L-4.08 12.25L-4.08 4.08L-12.25 4.08L-12.25 -4.08L-4.08 -4.08Z" fill="#20b2aa" stroke="#000" stroke-width="4.0" stroke-linejoin="miter"/></g>
<g opacity="0.8"><path transform="translate(1939.0 273.0)" d="M-4.08 -12.25L4.08 -12.25L4.08 -4.08L12.25 -4.08L12.25 4.08L4.08 4.08L4.08 12.25L-4.08 12.25L-4.08 4.08L-12.25 4.08L-12.25 -4.08L-4.08 -4.08Z" fill="#20b2aa" stroke="#000" stroke-width="4.0" stroke-linejoin="miter"/></g>
<g opacity="0.8"><path transform="translate(1990.0 255.0)" d="M-4.08 -12.25L4.08 -12.25L4.08 -4.08L12.25 -4.08L12.25 4.08L4.08 4.08L4.08 12.25L-4.08 12.25L-4.08 4.08L-12.25 4.08L-12.25 -4.08L-4.08 -4.08Z" fill="#20b2aa" stroke="#000" stroke-width="4.0" stroke-linejoin="miter"/></g>
<path d="M1297.0 508.0L1360.0 560.0L1430.0 575.0L1500.0 570.0L1580.0 540.0L1650.0 480.0L1739.0 374.0L1867.0 276.0L1990.0 240.0" stroke="#20b2aa" stroke-width="6.2" stroke-dasharray="23 10" fill="none" opacity="0.8"/>
<path d="M1297.0 504.0V512.0M1360.0 556.0V564.0M1430.0 571.0V579.0M1500.0 566.0V574.0M1580.0 536.0V544.0M1650.0 476.0V484.0M1739.0 370.0V378.0M1867.0 272.0V280.0M1990.0 236.0V244.0" stroke="#20b2aa" stroke-width="5.8" fill="none" opacity="0.8"/>
<g opacity="0.8"><path transform="translate(1297.0 508.0)" d="M0.00 -12.25L-2.75 -3.79L-11.65 -3.79L-4.45 1.45L-7.20 9.91L-0.00 4.68L7.20 9.91L4.45 1.45L11.65 -3.79L2.75 -3.79Z" fill="#20b2aa" stroke="#000" stroke-width="4.0" stroke-linejoin="bevel"/></g>
<g opacity="0.8"><path transform="translate(1360.0 560.0)" d="M0.00 -12.25L-2.75 -3.79L-11.65 -3.79L-4.45 1.45L-7.20 9.91L-0.00 4.68L7.20 9.91L4.45 1.45L11.65 -3.79L2.75 -3.79Z" fill="#20b2aa" stroke="#000" stroke-width="4.0" stroke-linejoin="bevel"/></g>
<g opacity="0.8"><path transform="translate(1430.0 575.0)" d="M0.00 -12.25L-2.75 -3.79L-11.65 -3.79L-4.45 1.45L-7.20 9.91L-0.00 4.68L7.20 9.91L4.45 1.45L11.65 -3.79L2.75 -3.79Z" fill="#20b2aa" stroke="#000" stroke-width="4.0" stroke-linejoin="bevel"/></g>
<g opacity="0.8"><path transform="translate(1500.0 570.0)" d="M0.00 -12.25L-2.75 -3.79L-11.65 -3.79L-4.45 1.45L-7.20 9.91L-0.00 4.68L7.20 9.91L4.45 1.45L11.65 -3.79L2.75 -3.79Z" fill="#20b2aa" stroke="#000" stroke-width="4.0" stroke-linejoin="bevel"/></g>
<g opacity="0.8"><path transform="translate(1580.0 540.0)" d="M0.00 -12.25L-2.75 -3.79L-11.65 -3.79L-4.45 1.45L-7.20 9.91L-0.00 4.68L7.20 9.91L4.45 1.45L11.65 -3.79L2.75 -3.79Z" fill="#20b2aa" stroke="#000" stroke-width="4.0" stroke-linejoin="bevel"/></g>
<g opacity="0.8"><path transform="translate(1650.0 480.0)" d="M0.00 -12.25L-2.75 -3.79L-11.65 -3.79L-4.45 1.45L-7.20 9.91L-0.00 4.68L7.20 9.91L4.45 1.45L11.65 -3.79L2.75 -3.79Z" fill="#20b2aa" stroke="#000" stroke-width="4.0" stroke-linejoin="bevel"/></g>
<g opacity="0.8"><path transform="translate(1739.0 374.0)" d="M0.00 -12.25L-2.75 -3.79L-11.65 -3.79L-4.45 1.45L-7.20 9.91L-0.00 4.68L7.20 9.91L4.45 1.45L11.65 -3.79L2.75 -3.79Z" fill="#20b2aa" stroke="#000" stroke-width="4.0" stroke-linejoin="bevel"/></g>
<g opacity="0.8"><path transform="translate(1867.0 276.0)" d="M0.00 -12.25L-2.75 -3.79L-11.65 -3.79L-4.45 1.45L-7.20 9.91L-0.00 4.68L7.20 9.91L4.45 1.45L11.65 -3.79L2.75 -3.79Z" fill="#20b2aa" stroke="#000" stroke-width="4.0" stroke-linejoin="bevel"/></g>
<g opacity="0.8"><path transform="translate(1990.0 240.0)" d="M0.00 -12.25L-2.75 -3.79L-11.65 -3.79L-4.45 1.45L-7.20 9.91L-0.00 4.68L7.20 9.91L4.45 1.45L11.65 -3.79L2.75 -3.79Z" fill="#20b2aa" stroke="#000" stroke-width="4.0" stroke-linejoin="bevel"/></g>
<path d="M1306.9 573.4L1364.3 583.3L1448.6 592.0L1533.5 597.2L1603.7 592.2L1682.5 567.8L1754.9 529.7L1831.7 474.5L1903.4 420.9L1979.7 345.7" stroke="#20b2aa" stroke-width="6.2" stroke-dasharray="23 10" fill="none" opacity="0.8"/>
<path d="M1306.9 569.4V577.4M1364.3 579.3V587.3M1448.6 588.0V596.0M1533.5 593.2V601.2M1603.7 588.2V596.2M1682.5 563.8V571.8M1754.9 525.7V533.7M1831.7 470.5V478.5M1903.4 416.9V424.9M1979.7 341.7V349.7" stroke="#20b2aa" stroke-width="5.8" fill="none" opacity="0.8"/>
<g opacity="0.8"><path transform="translate(1306.9 573.4)" d="M0.00 -12.25L-10.61 -6.12L-10.61 6.13L-0.00 12.25L10.61 6.13L10.61 -6.12Z" fill="#20b2aa" stroke="#000" stroke-width="4.0" stroke-linejoin="miter"/></g>
<g opacity="0.8"><path transform="translate(1364.3 583.3)" d="M0.00 -12.25L-10.61 -6.12L-10.61 6.13L-0.00 12.25L10.61 6.13L10.61 -6.12Z" fill="#20b2aa" stroke="#000" stroke-width="4.0" stroke-linejoin="miter"/></g>
<g opacity="0.8"><path transform="translate(1448.6 592.0)" d="M0.00 -12.25L-10.61 -6.12L-10.61 6.13L-0.00 12.25L10.61 6.13L10.61 -6.12Z" fill="#20b2aa" stroke="#000" stroke-width="4.0" stroke-linejoin="miter"/></g>
<g opacity="0.8"><path transform="translate(1533.5 597.2)" d="M0.00 -12.25L-10.61 -6.12L-10.61 6.13L-0.00 12.25L10.61 6.13L10.61 -6.12Z" fill="#20b2aa" stroke="#000" stroke-width="4.0" stroke-linejoin="miter"/></g>
<g opacity="0.8"><path transform="translate(1603.7 592.2)" d="M0.00 -12.25L-10.61 -6.12L-10.61 6.13L-0.00 12.25L10.61 6.13L10.61 -6.12Z" fill="#20b2aa" stroke="#000" stroke-width="4.0" stroke-linejoin="miter"/></g>
<g opacity="0.8"><path transform="translate(1682.5 567.8)" d="M0.00 -12.25L-10.61 -6.12L-10.61 6.13L-0.00 12.25L10.61 6.13L10.61 -6.12Z" fill="#20b2aa" stroke="#000" stroke-width="4.0" stroke-linejoin="miter"/></g>
<g opacity="0.8"><path transform="translate(1754.9 529.7)" d="M0.00 -12.25L-10.61 -6.12L-10.61 6.13L-0.00 12.25L10.61 6.13L10.61 -6.12Z" fill="#20b2aa" stroke="#000" stroke-width="4.0" stroke-linejoin="miter"/></g>
<g opacity="0.8"><path transform="translate(1831.7 474.5)" d="M0.00 -12.25L-10.61 -6.12L-10.61 6.13L-0.00 12.25L10.61 6.13L10.61 -6.12Z" fill="#20b2aa" stroke="#000" stroke-width="4.0" stroke-linejoin="miter"/></g>
<g opacity="0.8"><path transform="translate(1903.4 420.9)" d="M0.00 -12.25L-10.61 -6.12L-10.61 6.13L-0.00 12.25L10.61 6.13L10.61 -6.12Z" fill="#20b2aa" stroke="#000" stroke-width="4.0" stroke-linejoin="miter"/></g>
<g opacity="0.8"><path transform="translate(1979.7 345.7)" d="M0.00 -12.25L-10.61 -6.12L-10.61 6.13L-0.00 12.25L10.61 6.13L10.61 -6.12Z" fill="#20b2aa" stroke="#000" stroke-width="4.0" stroke-linejoin="miter"/></g>
<path d="M1253.7 570.0L1331.8 599.8L1396.5 612.0L1465.4 624.5L1552.2 612.4L1624.9 603.1L1683.5 587.3L1768.6 541.3L1876.2 459.5L1946.5 381.0" stroke="#20b2aa" stroke-width="6.2" stroke-dasharray="23 10" fill="none" opacity="0.8"/>
<path d="M1253.7 566.0V574.0M1331.8 595.8V603.8M1396.5 608.0V616.0M1465.4 620.5V628.5M1552.2 608.4V616.4M1624.9 599.1V607.1M1683.5 583.3V591.3M1768.6 537.3V545.3M1876.2 455.5V463.5M1946.5 377.0V385.0" stroke="#20b2aa" stroke-width="5.8" fill="none" opacity="0.8"/>
<g opacity="0.8"><path transform="translate(1253.7 570.0)" d="M-6.12 -10.61L-12.25 -0.00L-6.13 10.61L6.13 10.61L12.25 0.00L6.12 -10.61Z" fill="#20b2aa" stroke="#000" stroke-width="4.0" stroke-linejoin="miter"/></g>
<g opacity="0.8"><path transform="translate(1331.8 599.8)" d="M-6.12 -10.61L-12.25 -0.00L-6.13 10.61L6.13 10.61L12.25 0.00L6.12 -10.61Z" fill="#20b2aa" stroke="#000" stroke-width="4.0" stroke-linejoin="miter"/></g>
<g opacity="0.8"><path transform="translate(1396.5 612.0)" d="M-6.12 -10.61L-12.25 -0.00L-6.13 10.61L6.13 10.61L12.25 0.00L6.12 -10.61Z" fill="#20b2aa" stroke="#000" stroke-width="4.0" stroke-linejoin="miter"/></g>
<g opacity="0.8"><path transform="translate(1465.4 624.5)" d="M-6.12 -10.61L-12.25 -0.00L-6.13 10.61L6.13 10.61L12.25 0.00L6.12 -10.61Z" fill="#20b2aa" stroke="#000" stroke-width="4.0" stroke-linejoin="miter"/></g>
<g opacity="0.8"><path transform="translate(1552.2 612.4)" d="M-6.12 -10.61L-12.25 -0.00L-6.13 10.61L6.13 10.61L12.25 0.00L6.12 -10.61Z" fill="#20b2aa" stroke="#000" stroke-width="4.0" stroke-linejoin="miter"/></g>
<g opacity="0.8"><path transform="translate(1624.9 603.1)" d="M-6.12 -10.61L-12.25 -0.00L-6.13 10.61L6.13 10.61L12.25 0.00L6.12 -10.61Z" fill="#20b2aa" stroke="#000" stroke-width="4.0" stroke-linejoin="miter"/></g>
<g opacity="0.8"><path transform="translate(1683.5 587.3)" d="M-6.12 -10.61L-12.25 -0.00L-6.13 10.61L6.13 10.61L12.25 0.00L6.12 -10.61Z" fill="#20b2aa" stroke="#000" stroke-width="4.0" stroke-linejoin="miter"/></g>
<g opacity="0.8"><path transform="translate(1768.6 541.3)" d="M-6.12 -10.61L-12.25 -0.00L-6.13 10.61L6.13 10.61L12.25 0.00L6.12 -10.61Z" fill="#20b2aa" stroke="#000" stroke-width="4.0" stroke-linejoin="miter"/></g>
<g opacity="0.8"><path transform="translate(1876.2 459.5)" d="M-6.12 -10.61L-12.25 -0.00L-6.13 10.61L6.13 10.61L12.25 0.00L6.12 -10.61Z" fill="#20b2aa" stroke="#000" stroke-width="4.0" stroke-linejoin="miter"/></g>
<g opacity="0.8"><path transform="translate(1946.5 381.0)" d="M-6.12 -10.61L-12.25 -0.00L-6.13 10.61L6.13 10.61L12.25 0.00L6.12 -10.61Z" fill="#20b2aa" stroke="#000" stroke-width="4.0" stroke-linejoin="miter"/></g>
<path d="M1358.8 587.5L1415.2 594.9L1506.8 592.2L1588.0 590.3L1657.0 569.2L1773.0 451.0L1969.0 287.0" stroke="#20b2aa" stroke-width="6.2" stroke-dasharray="23 10" fill="none" opacity="0.8"/>
<path d="M1358.8 583.5V591.5M1415.2 590.9V598.9M1506.8 588.2V596.2M1588.0 586.3V594.3M1657.0 565.2V573.2M1773.0 447.0V455.0M1969.0 283.0V291.0" stroke="#20b2aa" stroke-width="5.8" fill="none" opacity="0.8"/>
<g opacity="0.8"><circle cx="1358.8" cy="587.5" r="6.12" fill="#20b2aa" stroke="#000" stroke-width="4.0"/></g>
<g opacity="0.8"><circle cx="1415.2" cy="594.9" r="6.12" fill="#20b2aa" stroke="#000" stroke-width="4.0"/></g>
<g opacity="0.8"><circle cx="1506.8" cy="592.2" r="6.12" fill="#20b2aa" stroke="#000" stroke-width="4.0"/></g>
<g opacity="0.8"><circle cx="1588.0" cy="590.3" r="6.12" fill="#20b2aa" stroke="#000" stroke-width="4.0"/></g>
<g opacity="0.8"><circle cx="1657.0" cy="569.2" r="6.12" fill="#20b2aa" stroke="#000" stroke-width="4.0"/></g>
<g opacity="0.8"><circle cx="1773.0" cy="451.0" r="6.12" fill="#20b2aa" stroke="#000" stroke-width="4.0"/></g>
<g opacity="0.8"><circle cx="1969.0" cy="287.0" r="6.12" fill="#20b2aa" stroke="#000" stroke-width="4.0"/></g>
<path d="M1216.0 414.0L1305.1 559.3L1372.8 582.6L1458.2 581.6L1545.1 583.7L1630.8 567.6L1694.6 545.0L1780.3 500.2L1850.9 435.5L1932.2 349.3" stroke="#20b2aa" stroke-width="6.2" stroke-dasharray="23 10" fill="none" opacity="0.8"/>
<path d="M1216.0 402.0V426.0M1305.1 555.3V563.3M1372.8 578.6V586.6M1458.2 577.6V585.6M1545.1 579.7V587.7M1630.8 563.6V571.6M1694.6 541.0V549.0M1780.3 496.2V504.2M1850.9 431.5V439.5M1932.2 345.3V353.3" stroke="#20b2aa" stroke-width="5.8" fill="none" opacity="0.8"/>
<g opacity="0.8"><path transform="translate(1216.0 414.0)" d="M-12.25 0H12.25M0 -12.25V12.25" fill="none" stroke="#000" stroke-width="4.0"/></g>
<g opacity="0.8"><path transform="translate(1305.1 559.3)" d="M-12.25 0H12.25M0 -12.25V12.25" fill="none" stroke="#000" stroke-width="4.0"/></g>
<g opacity="0.8"><path transform="translate(1372.8 582.6)" d="M-12.25 0H12.25M0 -12.25V12.25" fill="none" stroke="#000" stroke-width="4.0"/></g>
<g opacity="0.8"><path transform="translate(1458.2 581.6)" d="M-12.25 0H12.25M0 -12.25V12.25" fill="none" stroke="#000" stroke-width="4.0"/></g>
<g opacity="0.8"><path transform="translate(1545.1 583.7)" d="M-12.25 0H12.25M0 -12.25V12.25" fill="none" stroke="#000" stroke-width="4.0"/></g>
<g opacity="0.8"><path transform="translate(1630.8 567.6)" d="M-12.25 0H12.25M0 -12.25V12.25" fill="none" stroke="#000" stroke-width="4.0"/></g>
<g opacity="0.8"><path transform="translate(1694.6 545.0)" d="M-12.25 0H12.25M0 -12.25V12.25" fill="none" stroke="#000" stroke-width="4.0"/></g>
<g opacity="0.8"><path transform="translate(1780.3 500.2)" d="M-12.25 0H12.25M0 -12.25V12.25" fill="none" stroke="#000" stroke-width="4.0"/></g>
<g opacity="0.8"><path transform="translate(1850.9 435.5)" d="M-12.25 0H12.25M0 -12.25V12.25" fill="none" stroke="#000" stroke-width="4.0"/></g>
<g opacity="0.8"><path transform="translate(1932.2 349.3)" d="M-12.25 0H12.25M0 -12.25V12.25" fill="none" stroke="#000" stroke-width="4.0"/></g>
<path d="M1269.0 603.0L1295.0 581.0L1319.0 535.0L1380.0 560.0L1450.0 570.0L1510.0 575.0L1578.0 557.0L1640.0 530.0L1710.0 500.0L1790.0 455.0L1870.0 400.0L1990.0 330.0" stroke="#20b2aa" stroke-width="6.2" stroke-dasharray="23 10" fill="none" opacity="0.8"/>
<path d="M1269.0 599.0V607.0M1295.0 577.0V585.0M1319.0 531.0V539.0M1380.0 556.0V564.0M1450.0 566.0V574.0M1510.0 571.0V579.0M1578.0 553.0V561.0M1640.0 526.0V534.0M1710.0 496.0V504.0M1790.0 451.0V459.0M1870.0 396.0V404.0M1990.0 326.0V334.0" stroke="#20b2aa" stroke-width="5.8" fill="none" opacity="0.8"/>
<g opacity="0.8"><path transform="translate(1269.0 603.0)" d="M0.00 -17.32L17.32 0.00L0.00 17.32L-17.32 0.00Z" fill="#20b2aa" stroke="#000" stroke-width="4.0" stroke-linejoin="miter"/></g>
<g opacity="0.8"><path transform="translate(1295.0 581.0)" d="M0.00 -17.32L17.32 0.00L0.00 17.32L-17.32 0.00Z" fill="#20b2aa" stroke="#000" stroke-width="4.0" stroke-linejoin="miter"/></g>
<g opacity="0.8"><path transform="translate(1319.0 535.0)" d="M0.00 -17.32L17.32 0.00L0.00 17.32L-17.32 0.00Z" fill="#20b2aa" stroke="#000" stroke-width="4.0" stroke-linejoin="miter"/></g>
<g opacity="0.8"><path transform="translate(1380.0 560.0)" d="M0.00 -17.32L17.32 0.00L0.00 17.32L-17.32 0.00Z" fill="#20b2aa" stroke="#000" stroke-width="4.0" stroke-linejoin="miter"/></g>
<g opacity="0.8"><path transform="translate(1450.0 570.0)" d="M0.00 -17.32L17.32 0.00L0.00 17.32L-17.32 0.00Z" fill="#20b2aa" stroke="#000" stroke-width="4.0" stroke-linejoin="miter"/></g>
<g opacity="0.8"><path transform="translate(1510.0 575.0)" d="M0.00 -17.32L17.32 0.00L0.00 17.32L-17.32 0.00Z" fill="#20b2aa" stroke="#000" stroke-width="4.0" stroke-linejoin="miter"/></g>
<g opacity="0.8"><path transform="translate(1578.0 557.0)" d="M0.00 -17.32L17.32 0.00L0.00 17.32L-17.32 0.00Z" fill="#20b2aa" stroke="#000" stroke-width="4.0" stroke-linejoin="miter"/></g>
<g opacity="0.8"><path transform="translate(1640.0 530.0)" d="M0.00 -17.32L17.32 0.00L0.00 17.32L-17.32 0.00Z" fill="#20b2aa" stroke="#000" stroke-width="4.0" stroke-linejoin="miter"/></g>
<g opacity="0.8"><path transform="translate(1710.0 500.0)" d="M0.00 -17.32L17.32 0.00L0.00 17.32L-17.32 0.00Z" fill="#20b2aa" stroke="#000" stroke-width="4.0" stroke-linejoin="miter"/></g>
<g opacity="0.8"><path transform="translate(1790.0 455.0)" d="M0.00 -17.32L17.32 0.00L0.00 17.32L-17.32 0.00Z" fill="#20b2aa" stroke="#000" stroke-width="4.0" stroke-linejoin="miter"/></g>
<g opacity="0.8"><path transform="translate(1870.0 400.0)" d="M0.00 -17.32L17.32 0.00L0.00 17.32L-17.32 0.00Z" fill="#20b2aa" stroke="#000" stroke-width="4.0" stroke-linejoin="miter"/></g>
<g opacity="0.8"><path transform="translate(1990.0 330.0)" d="M0.00 -17.32L17.32 0.00L0.00 17.32L-17.32 0.00Z" fill="#20b2aa" stroke="#000" stroke-width="4.0" stroke-linejoin="miter"/></g>
<path d="M1235.0 563.0L1261.0 551.0L1384.0 637.0L1491.6 642.5L1565.9 633.5L1638.1 613.6L1711.2 576.6L1817.0 485.0L1877.0 456.0L1922.5 410.7" stroke="#550096" stroke-width="6.2" stroke-dasharray="23 10" fill="none" opacity="0.8"/>
<path d="M1235.0 559.0V567.0M1261.0 547.0V555.0M1384.0 633.0V641.0M1491.6 638.5V646.5M1565.9 629.5V637.5M1638.1 609.6V617.6M1711.2 572.6V580.6M1817.0 481.0V489.0M1877.0 452.0V460.0M1922.5 406.7V414.7" stroke="#550096" stroke-width="5.8" fill="none" opacity="0.8"/>
<g opacity="0.8"><path transform="translate(1235.0 563.0)" d="M12.25 0.00L-12.25 -12.25L-12.25 12.25Z" fill="#550096" stroke="#000" stroke-width="4.0" stroke-linejoin="miter"/></g>
<g opacity="0.8"><path transform="translate(1261.0 551.0)" d="M12.25 0.00L-12.25 -12.25L-12.25 12.25Z" fill="#550096" stroke="#000" stroke-width="4.0" stroke-linejoin="miter"/></g>
<g opacity="0.8"><path transform="translate(1384.0 637.0)" d="M12.25 0.00L-12.25 -12.25L-12.25 12.25Z" fill="#550096" stroke="#000" stroke-width="4.0" stroke-linejoin="miter"/></g>
<g opacity="0.8"><path transform="translate(1491.6 642.5)" d="M12.25 0.00L-12.25 -12.25L-12.25 12.25Z" fill="#550096" stroke="#000" stroke-width="4.0" stroke-linejoin="miter"/></g>
<g opacity="0.8"><path transform="translate(1565.9 633.5)" d="M12.25 0.00L-12.25 -12.25L-12.25 12.25Z" fill="#550096" stroke="#000" stroke-width="4.0" stroke-linejoin="miter"/></g>
<g opacity="0.8"><path transform="translate(1638.1 613.6)" d="M12.25 0.00L-12.25 -12.25L-12.25 12.25Z" fill="#550096" stroke="#000" stroke-width="4.0" stroke-linejoin="miter"/></g>
<g opacity="0.8"><path transform="translate(1711.2 576.6)" d="M12.25 0.00L-12.25 -12.25L-12.25 12.25Z" fill="#550096" stroke="#000" stroke-width="4.0" stroke-linejoin="miter"/></g>
<g opacity="0.8"><path transform="translate(1817.0 485.0)" d="M12.25 0.00L-12.25 -12.25L-12.25 12.25Z" fill="#550096" stroke="#000" stroke-width="4.0" stroke-linejoin="miter"/></g>
<g opacity="0.8"><path transform="translate(1877.0 456.0)" d="M12.25 0.00L-12.25 -12.25L-12.25 12.25Z" fill="#550096" stroke="#000" stroke-width="4.0" stroke-linejoin="miter"/></g>
<g opacity="0.8"><path transform="translate(1922.5 410.7)" d="M12.25 0.00L-12.25 -12.25L-12.25 12.25Z" fill="#550096" stroke="#000" stroke-width="4.0" stroke-linejoin="miter"/></g>
<path d="M1241.0 196.0L1282.0 440.0L1334.2 588.7L1426.1 602.8L1495.0 614.9L1558.8 609.9L1621.8 586.1L1710.5 540.8L1802.0 474.6L1908.2 370.4" stroke="#20b2aa" stroke-width="6.2" stroke-dasharray="23 10" fill="none" opacity="0.8"/>
<path d="M1241.0 188.0V204.0M1282.0 436.0V444.0M1334.2 584.7V592.7M1426.1 598.8V606.8M1495.0 610.9V618.9M1558.8 605.9V613.9M1621.8 582.1V590.1M1710.5 536.8V544.8M1802.0 470.6V478.6M1908.2 366.4V374.4" stroke="#20b2aa" stroke-width="5.8" fill="none" opacity="0.8"/>
<g opacity="0.8"><path transform="translate(1241.0 196.0)" d="M0 0L0.00 12.25M0 0L9.80 -6.12M0 0L-9.80 -6.12" fill="none" stroke="#000" stroke-width="4.0"/></g>
<g opacity="0.8"><path transform="translate(1282.0 440.0)" d="M0 0L0.00 12.25M0 0L9.80 -6.12M0 0L-9.80 -6.12" fill="none" stroke="#000" stroke-width="4.0"/></g>
<g opacity="0.8"><path transform="translate(1334.2 588.7)" d="M0 0L0.00 12.25M0 0L9.80 -6.12M0 0L-9.80 -6.12" fill="none" stroke="#000" stroke-width="4.0"/></g>
<g opacity="0.8"><path transform="translate(1426.1 602.8)" d="M0 0L0.00 12.25M0 0L9.80 -6.12M0 0L-9.80 -6.12" fill="none" stroke="#000" stroke-width="4.0"/></g>
<g opacity="0.8"><path transform="translate(1495.0 614.9)" d="M0 0L0.00 12.25M0 0L9.80 -6.12M0 0L-9.80 -6.12" fill="none" stroke="#000" stroke-width="4.0"/></g>
<g opacity="0.8"><path transform="translate(1558.8 609.9)" d="M0 0L0.00 12.25M0 0L9.80 -6.12M0 0L-9.80 -6.12" fill="none" stroke="#000" stroke-width="4.0"/></g>
<g opacity="0.8"><path transform="translate(1621.8 586.1)" d="M0 0L0.00 12.25M0 0L9.80 -6.12M0 0L-9.80 -6.12" fill="none" stroke="#000" stroke-width="4.0"/></g>
<g opacity="0.8"><path transform="translate(1710.5 540.8)" d="M0 0L0.00 12.25M0 0L9.80 -6.12M0 0L-9.80 -6.12" fill="none" stroke="#000" stroke-width="4.0"/></g>
<g opacity="0.8"><path transform="translate(1802.0 474.6)" d="M0 0L0.00 12.25M0 0L9.80 -6.12M0 0L-9.80 -6.12" fill="none" stroke="#000" stroke-width="4.0"/></g>
<g opacity="0.8"><path transform="translate(1908.2 370.4)" d="M0 0L0.00 12.25M0 0L9.80 -6.12M0 0L-9.80 -6.12" fill="none" stroke="#000" stroke-width="4.0"/></g>
<path d="M1201.0 510.0L1224.0 397.0L1277.0 494.0L1287.0 603.0L1320.0 605.0L1380.0 620.0L1444.0 593.0L1520.0 600.0L1600.0 580.0L1680.0 530.0L1740.0 470.0L1806.0 327.0L1830.0 416.0L1896.0 412.0L1942.0 396.0L1990.0 360.0" stroke="#550096" stroke-width="6.2" stroke-dasharray="23 10" fill="none" opacity="0.8"/>
<path d="M1201.0 506.0V514.0M1224.0 393.0V401.0M1277.0 490.0V498.0M1287.0 599.0V607.0M1320.0 601.0V609.0M1380.0 616.0V624.0M1444.0 589.0V597.0M1520.0 596.0V604.0M1600.0 576.0V584.0M1680.0 526.0V534.0M1740.0 466.0V474.0M1806.0 323.0V331.0M1830.0 412.0V420.0M1896.0 408.0V416.0M1942.0 392.0V400.0M1990.0 356.0V364.0" stroke="#550096" stroke-width="5.8" fill="none" opacity="0.8"/>
<g opacity="0.8"><path transform="translate(1201.0 510.0)" d="M0.00 -12.25L-2.75 -3.79L-11.65 -3.79L-4.45 1.45L-7.20 9.91L-0.00 4.68L7.20 9.91L4.45 1.45L11.65 -3.79L2.75 -3.79Z" fill="#550096" stroke="#000" stroke-width="4.0" stroke-linejoin="bevel"/></g>
<g opacity="0.8"><path transform="translate(1224.0 397.0)" d="M0.00 -12.25L-2.75 -3.79L-11.65 -3.79L-4.45 1.45L-7.20 9.91L-0.00 4.68L7.20 9.91L4.45 1.45L11.65 -3.79L2.75 -3.79Z" fill="#550096" stroke="#000" stroke-width="4.0" stroke-linejoin="bevel"/></g>
<g opacity="0.8"><path transform="translate(1277.0 494.0)" d="M0.00 -12.25L-2.75 -3.79L-11.65 -3.79L-4.45 1.45L-7.20 9.91L-0.00 4.68L7.20 9.91L4.45 1.45L11.65 -3.79L2.75 -3.79Z" fill="#550096" stroke="#000" stroke-width="4.0" stroke-linejoin="bevel"/></g>
<g opacity="0.8"><path transform="translate(1287.0 603.0)" d="M0.00 -12.25L-2.75 -3.79L-11.65 -3.79L-4.45 1.45L-7.20 9.91L-0.00 4.68L7.20 9.91L4.45 1.45L11.65 -3.79L2.75 -3.79Z" fill="#550096" stroke="#000" stroke-width="4.0" stroke-linejoin="bevel"/></g>
<g opacity="0.8"><path transform="translate(1320.0 605.0)" d="M0.00 -12.25L-2.75 -3.79L-11.65 -3.79L-4.45 1.45L-7.20 9.91L-0.00 4.68L7.20 9.91L4.45 1.45L11.65 -3.79L2.75 -3.79Z" fill="#550096" stroke="#000" stroke-width="4.0" stroke-linejoin="bevel"/></g>
<g opacity="0.8"><path transform="translate(1380.0 620.0)" d="M0.00 -12.25L-2.75 -3.79L-11.65 -3.79L-4.45 1.45L-7.20 9.91L-0.00 4.68L7.20 9.91L4.45 1.45L11.65 -3.79L2.75 -3.79Z" fill="#550096" stroke="#000" stroke-width="4.0" stroke-linejoin="bevel"/></g>
<g opacity="0.8"><path transform="translate(1444.0 593.0)" d="M0.00 -12.25L-2.75 -3.79L-11.65 -3.79L-4.45 1.45L-7.20 9.91L-0.00 4.68L7.20 9.91L4.45 1.45L11.65 -3.79L2.75 -3.79Z" fill="#550096" stroke="#000" stroke-width="4.0" stroke-linejoin="bevel"/></g>
<g opacity="0.8"><path transform="translate(1520.0 600.0)" d="M0.00 -12.25L-2.75 -3.79L-11.65 -3.79L-4.45 1.45L-7.20 9.91L-0.00 4.68L7.20 9.91L4.45 1.45L11.65 -3.79L2.75 -3.79Z" fill="#550096" stroke="#000" stroke-width="4.0" stroke-linejoin="bevel"/></g>
<g opacity="0.8"><path transform="translate(1600.0 580.0)" d="M0.00 -12.25L-2.75 -3.79L-11.65 -3.79L-4.45 1.45L-7.20 9.91L-0.00 4.68L7.20 9.91L4.45 1.45L11.65 -3.79L2.75 -3.79Z" fill="#550096" stroke="#000" stroke-width="4.0" stroke-linejoin="bevel"/></g>
<g opacity="0.8"><path transform="translate(1680.0 530.0)" d="M0.00 -12.25L-2.75 -3.79L-11.65 -3.79L-4.45 1.45L-7.20 9.91L-0.00 4.68L7.20 9.91L4.45 1.45L11.65 -3.79L2.75 -3.79Z" fill="#550096" stroke="#000" stroke-width="4.0" stroke-linejoin="bevel"/></g>
<g opacity="0.8"><path transform="translate(1740.0 470.0)" d="M0.00 -12.25L-2.75 -3.79L-11.65 -3.79L-4.45 1.45L-7.20 9.91L-0.00 4.68L7.20 9.91L4.45 1.45L11.65 -3.79L2.75 -3.79Z" fill="#550096" stroke="#000" stroke-width="4.0" stroke-linejoin="bevel"/></g>
<g opacity="0.8"><path transform="translate(1806.0 327.0)" d="M0.00 -12.25L-2.75 -3.79L-11.65 -3.79L-4.45 1.45L-7.20 9.91L-0.00 4.68L7.20 9.91L4.45 1.45L11.65 -3.79L2.75 -3.79Z" fill="#550096" stroke="#000" stroke-width="4.0" stroke-linejoin="bevel"/></g>
<g opacity="0.8"><path transform="translate(1830.0 416.0)" d="M0.00 -12.25L-2.75 -3.79L-11.65 -3.79L-4.45 1.45L-7.20 9.91L-0.00 4.68L7.20 9.91L4.45 1.45L11.65 -3.79L2.75 -3.79Z" fill="#550096" stroke="#000" stroke-width="4.0" stroke-linejoin="bevel"/></g>
<g opacity="0.8"><path transform="translate(1896.0 412.0)" d="M0.00 -12.25L-2.75 -3.79L-11.65 -3.79L-4.45 1.45L-7.20 9.91L-0.00 4.68L7.20 9.91L4.45 1.45L11.65 -3.79L2.75 -3.79Z" fill="#550096" stroke="#000" stroke-width="4.0" stroke-linejoin="bevel"/></g>
<g opacity="0.8"><path transform="translate(1942.0 396.0)" d="M0.00 -12.25L-2.75 -3.79L-11.65 -3.79L-4.45 1.45L-7.20 9.91L-0.00 4.68L7.20 9.91L4.45 1.45L11.65 -3.79L2.75 -3.79Z" fill="#550096" stroke="#000" stroke-width="4.0" stroke-linejoin="bevel"/></g>
<g opacity="0.8"><path transform="translate(1990.0 360.0)" d="M0.00 -12.25L-2.75 -3.79L-11.65 -3.79L-4.45 1.45L-7.20 9.91L-0.00 4.68L7.20 9.91L4.45 1.45L11.65 -3.79L2.75 -3.79Z" fill="#550096" stroke="#000" stroke-width="4.0" stroke-linejoin="bevel"/></g>
<path d="M1292.4 581.0L1375.5 604.6L1437.5 609.0L1505.3 611.5L1596.6 606.9L1666.9 578.5L1769.6 538.0L1844.8 483.4L1955.9 372.7" stroke="#20b2aa" stroke-width="6.2" stroke-dasharray="23 10" fill="none" opacity="0.8"/>
<path d="M1292.4 577.0V585.0M1375.5 600.6V608.6M1437.5 605.0V613.0M1505.3 607.5V615.5M1596.6 602.9V610.9M1666.9 574.5V582.5M1769.6 534.0V542.0M1844.8 479.4V487.4M1955.9 368.7V376.7" stroke="#20b2aa" stroke-width="5.8" fill="none" opacity="0.8"/>
<g opacity="0.8"><path transform="translate(1292.4 581.0)" d="M0 0L-0.00 -12.25M0 0L-9.80 6.13M0 0L9.80 6.12" fill="none" stroke="#000" stroke-width="4.0"/></g>
<g opacity="0.8"><path transform="translate(1375.5 604.6)" d="M0 0L-0.00 -12.25M0 0L-9.80 6.13M0 0L9.80 6.12" fill="none" stroke="#000" stroke-width="4.0"/></g>
<g opacity="0.8"><path transform="translate(1437.5 609.0)" d="M0 0L-0.00 -12.25M0 0L-9.80 6.13M0 0L9.80 6.12" fill="none" stroke="#000" stroke-width="4.0"/></g>
<g opacity="0.8"><path transform="translate(1505.3 611.5)" d="M0 0L-0.00 -12.25M0 0L-9.80 6.13M0 0L9.80 6.12" fill="none" stroke="#000" stroke-width="4.0"/></g>
<g opacity="0.8"><path transform="translate(1596.6 606.9)" d="M0 0L-0.00 -12.25M0 0L-9.80 6.13M0 0L9.80 6.12" fill="none" stroke="#000" stroke-width="4.0"/></g>
<g opacity="0.8"><path transform="translate(1666.9 578.5)" d="M0 0L-0.00 -12.25M0 0L-9.80 6.13M0 0L9.80 6.12" fill="none" stroke="#000" stroke-width="4.0"/></g>
<g opacity="0.8"><path transform="translate(1769.6 538.0)" d="M0 0L-0.00 -12.25M0 0L-9.80 6.13M0 0L9.80 6.12" fill="none" stroke="#000" stroke-width="4.0"/></g>
<g opacity="0.8"><path transform="translate(1844.8 483.4)" d="M0 0L-0.00 -12.25M0 0L-9.80 6.13M0 0L9.80 6.12" fill="none" stroke="#000" stroke-width="4.0"/></g>
<g opacity="0.8"><path transform="translate(1955.9 372.7)" d="M0 0L-0.00 -12.25M0 0L-9.80 6.13M0 0L9.80 6.12" fill="none" stroke="#000" stroke-width="4.0"/></g>
<path d="M1266.0 434.0L1296.0 378.0L1324.0 504.0L1380.0 590.0L1440.0 615.0L1510.0 610.0L1580.0 590.0L1665.0 550.0L1740.0 510.0L1791.0 508.0L1850.0 460.0L1920.0 410.0L1990.0 380.0" stroke="#550096" stroke-width="6.2" stroke-dasharray="23 10" fill="none" opacity="0.8"/>
<path d="M1266.0 430.0V438.0M1296.0 374.0V382.0M1324.0 500.0V508.0M1380.0 586.0V594.0M1440.0 611.0V619.0M1510.0 606.0V614.0M1580.0 586.0V594.0M1665.0 546.0V554.0M1740.0 506.0V514.0M1791.0 504.0V512.0M1850.0 456.0V464.0M1920.0 406.0V414.0M1990.0 376.0V384.0" stroke="#550096" stroke-width="5.8" fill="none" opacity="0.8"/>
<g opacity="0.8"><path transform="translate(1266.0 434.0)" d="M0.00 -12.25L-10.61 -6.12L-10.61 6.13L-0.00 12.25L10.61 6.13L10.61 -6.12Z" fill="#550096" stroke="#000" stroke-width="4.0" stroke-linejoin="miter"/></g>
<g opacity="0.8"><path transform="translate(1296.0 378.0)" d="M0.00 -12.25L-10.61 -6.12L-10.61 6.13L-0.00 12.25L10.61 6.13L10.61 -6.12Z" fill="#550096" stroke="#000" stroke-width="4.0" stroke-linejoin="miter"/></g>
<g opacity="0.8"><path transform="translate(1324.0 504.0)" d="M0.00 -12.25L-10.61 -6.12L-10.61 6.13L-0.00 12.25L10.61 6.13L10.61 -6.12Z" fill="#550096" stroke="#000" stroke-width="4.0" stroke-linejoin="miter"/></g>
<g opacity="0.8"><path transform="translate(1380.0 590.0)" d="M0.00 -12.25L-10.61 -6.12L-10.61 6.13L-0.00 12.25L10.61 6.13L10.61 -6.12Z" fill="#550096" stroke="#000" stroke-width="4.0" stroke-linejoin="miter"/></g>
<g opacity="0.8"><path transform="translate(1440.0 615.0)" d="M0.00 -12.25L-10.61 -6.12L-10.61 6.13L-0.00 12.25L10.61 6.13L10.61 -6.12Z" fill="#550096" stroke="#000" stroke-width="4.0" stroke-linejoin="miter"/></g>
<g opacity="0.8"><path transform="translate(1510.0 610.0)" d="M0.00 -12.25L-10.61 -6.12L-10.61 6.13L-0.00 12.25L10.61 6.13L10.61 -6.12Z" fill="#550096" stroke="#000" stroke-width="4.0" stroke-linejoin="miter"/></g>
<g opacity="0.8"><path transform="translate(1580.0 590.0)" d="M0.00 -12.25L-10.61 -6.12L-10.61 6.13L-0.00 12.25L10.61 6.13L10.61 -6.12Z" fill="#550096" stroke="#000" stroke-width="4.0" stroke-linejoin="miter"/></g>
<g opacity="0.8"><path transform="translate(1665.0 550.0)" d="M0.00 -12.25L-10.61 -6.12L-10.61 6.13L-0.00 12.25L10.61 6.13L10.61 -6.12Z" fill="#550096" stroke="#000" stroke-width="4.0" stroke-linejoin="miter"/></g>
<g opacity="0.8"><path transform="translate(1740.0 510.0)" d="M0.00 -12.25L-10.61 -6.12L-10.61 6.13L-0.00 12.25L10.61 6.13L10.61 -6.12Z" fill="#550096" stroke="#000" stroke-width="4.0" stroke-linejoin="miter"/></g>
<g opacity="0.8"><path transform="translate(1791.0 508.0)" d="M0.00 -12.25L-10.61 -6.12L-10.61 6.13L-0.00 12.25L10.61 6.13L10.61 -6.12Z" fill="#550096" stroke="#000" stroke-width="4.0" stroke-linejoin="miter"/></g>
<g opacity="0.8"><path transform="translate(1850.0 460.0)" d="M0.00 -12.25L-10.61 -6.12L-10.61 6.13L-0.00 12.25L10.61 6.13L10.61 -6.12Z" fill="#550096" stroke="#000" stroke-width="4.0" stroke-linejoin="miter"/></g>
<g opacity="0.8"><path transform="translate(1920.0 410.0)" d="M0.00 -12.25L-10.61 -6.12L-10.61 6.13L-0.00 12.25L10.61 6.13L10.61 -6.12Z" fill="#550096" stroke="#000" stroke-width="4.0" stroke-linejoin="miter"/></g>
<g opacity="0.8"><path transform="translate(1990.0 380.0)" d="M0.00 -12.25L-10.61 -6.12L-10.61 6.13L-0.00 12.25L10.61 6.13L10.61 -6.12Z" fill="#550096" stroke="#000" stroke-width="4.0" stroke-linejoin="miter"/></g>
<path d="M1308.0 652.0L1330.0 654.0L1350.0 665.0L1464.0 650.0L1511.0 656.8L1597.5 652.0L1657.4 628.5L1730.0 601.6L1802.7 556.2L1908.2 471.7L1984.6 399.6" stroke="#550096" stroke-width="6.2" stroke-dasharray="23 10" fill="none" opacity="0.8"/>
<path d="M1308.0 648.0V656.0M1330.0 650.0V658.0M1350.0 661.0V669.0M1464.0 646.0V654.0M1511.0 652.8V660.8M1597.5 648.0V656.0M1657.4 624.5V632.5M1730.0 597.6V605.6M1802.7 552.2V560.2M1908.2 467.7V475.7M1984.6 395.6V403.6" stroke="#550096" stroke-width="5.8" fill="none" opacity="0.8"/>
<g opacity="0.8"><path transform="translate(1308.0 652.0)" d="M-12.25 0H12.25M0 -12.25V12.25" fill="none" stroke="#000" stroke-width="4.0"/></g>
<g opacity="0.8"><path transform="translate(1330.0 654.0)" d="M-12.25 0H12.25M0 -12.25V12.25" fill="none" stroke="#000" stroke-width="4.0"/></g>
<g opacity="0.8"><path transform="translate(1350.0 665.0)" d="M-12.25 0H12.25M0 -12.25V12.25" fill="none" stroke="#000" stroke-width="4.0"/></g>
<g opacity="0.8"><path transform="translate(1464.0 650.0)" d="M-12.25 0H12.25M0 -12.25V12.25" fill="none" stroke="#000" stroke-width="4.0"/></g>
<g opacity="0.8"><path transform="translate(1511.0 656.8)" d="M-12.25 0H12.25M0 -12.25V12.25" fill="none" stroke="#000" stroke-width="4.0"/></g>
<g opacity="0.8"><path transform="translate(1597.5 652.0)" d="M-12.25 0H12.25M0 -12.25V12.25" fill="none" stroke="#000" stroke-width="4.0"/></g>
<g opacity="0.8"><path transform="translate(1657.4 628.5)" d="M-12.25 0H12.25M0 -12.25V12.25" fill="none" stroke="#000" stroke-width="4.0"/></g>
<g opacity="0.8"><path transform="translate(1730.0 601.6)" d="M-12.25 0H12.25M0 -12.25V12.25" fill="none" stroke="#000" stroke-width="4.0"/></g>
<g opacity="0.8"><path transform="translate(1802.7 556.2)" d="M-12.25 0H12.25M0 -12.25V12.25" fill="none" stroke="#000" stroke-width="4.0"/></g>
<g opacity="0.8"><path transform="translate(1908.2 471.7)" d="M-12.25 0H12.25M0 -12.25V12.25" fill="none" stroke="#000" stroke-width="4.0"/></g>
<g opacity="0.8"><path transform="translate(1984.6 399.6)" d="M-12.25 0H12.25M0 -12.25V12.25" fill="none" stroke="#000" stroke-width="4.0"/></g>
<path d="M1331.7 563.3L1411.4 586.4L1487.1 594.6L1543.1 581.6L1622.5 570.3L1712.5 529.4L1822.0 435.6L1901.1 360.6L1983.9 255.8" stroke="#20b2aa" stroke-width="6.2" stroke-dasharray="23 10" fill="none" opacity="0.8"/>
<path d="M1331.7 559.3V567.3M1411.4 582.4V590.4M1487.1 590.6V598.6M1543.1 577.6V585.6M1622.5 566.3V574.3M1712.5 525.4V533.4M1822.0 431.6V439.6M1901.1 356.6V364.6M1983.9 251.8V259.8" stroke="#20b2aa" stroke-width="5.8" fill="none" opacity="0.8"/>
<g opacity="0.8"><path transform="translate(1331.7 563.3)" d="M0 0L-12.25 0.00M0 0L6.12 9.80M0 0L6.12 -9.80" fill="none" stroke="#000" stroke-width="4.0"/></g>
<g opacity="0.8"><path transform="translate(1411.4 586.4)" d="M0 0L-12.25 0.00M0 0L6.12 9.80M0 0L6.12 -9.80" fill="none" stroke="#000" stroke-width="4.0"/></g>
<g opacity="0.8"><path transform="translate(1487.1 594.6)" d="M0 0L-12.25 0.00M0 0L6.12 9.80M0 0L6.12 -9.80" fill="none" stroke="#000" stroke-width="4.0"/></g>
<g opacity="0.8"><path transform="translate(1543.1 581.6)" d="M0 0L-12.25 0.00M0 0L6.12 9.80M0 0L6.12 -9.80" fill="none" stroke="#000" stroke-width="4.0"/></g>
<g opacity="0.8"><path transform="translate(1622.5 570.3)" d="M0 0L-12.25 0.00M0 0L6.12 9.80M0 0L6.12 -9.80" fill="none" stroke="#000" stroke-width="4.0"/></g>
<g opacity="0.8"><path transform="translate(1712.5 529.4)" d="M0 0L-12.25 0.00M0 0L6.12 9.80M0 0L6.12 -9.80" fill="none" stroke="#000" stroke-width="4.0"/></g>
<g opacity="0.8"><path transform="translate(1822.0 435.6)" d="M0 0L-12.25 0.00M0 0L6.12 9.80M0 0L6.12 -9.80" fill="none" stroke="#000" stroke-width="4.0"/></g>
<g opacity="0.8"><path transform="translate(1901.1 360.6)" d="M0 0L-12.25 0.00M0 0L6.12 9.80M0 0L6.12 -9.80" fill="none" stroke="#000" stroke-width="4.0"/></g>
<g opacity="0.8"><path transform="translate(1983.9 255.8)" d="M0 0L-12.25 0.00M0 0L6.12 9.80M0 0L6.12 -9.80" fill="none" stroke="#000" stroke-width="4.0"/></g>
<path d="M1300.0 545.0L1356.0 524.0L1560.0 458.0L1650.0 430.0L1706.0 392.0L1734.0 403.0L1773.0 367.0L1839.0 246.0L1964.0 200.0L1990.0 192.0" stroke="#20b2aa" stroke-width="6.2" stroke-dasharray="23 10" fill="none" opacity="0.8"/>
<path d="M1300.0 541.0V549.0M1356.0 520.0V528.0M1560.0 454.0V462.0M1650.0 426.0V434.0M1706.0 388.0V396.0M1734.0 399.0V407.0M1773.0 363.0V371.0M1839.0 242.0V250.0M1964.0 196.0V204.0M1990.0 188.0V196.0" stroke="#20b2aa" stroke-width="5.8" fill="none" opacity="0.8"/>
<g opacity="0.8"><path transform="translate(1300.0 545.0)" d="M0 0L12.25 -0.00M0 0L-6.13 -9.80M0 0L-6.12 9.80" fill="none" stroke="#000" stroke-width="4.0"/></g>
<g opacity="0.8"><path transform="translate(1356.0 524.0)" d="M0 0L12.25 -0.00M0 0L-6.13 -9.80M0 0L-6.12 9.80" fill="none" stroke="#000" stroke-width="4.0"/></g>
<g opacity="0.8"><path transform="translate(1560.0 458.0)" d="M0 0L12.25 -0.00M0 0L-6.13 -9.80M0 0L-6.12 9.80" fill="none" stroke="#000" stroke-width="4.0"/></g>
<g opacity="0.8"><path transform="translate(1650.0 430.0)" d="M0 0L12.25 -0.00M0 0L-6.13 -9.80M0 0L-6.12 9.80" fill="none" stroke="#000" stroke-width="4.0"/></g>
<g opacity="0.8"><path transform="translate(1706.0 392.0)" d="M0 0L12.25 -0.00M0 0L-6.13 -9.80M0 0L-6.12 9.80" fill="none" stroke="#000" stroke-width="4.0"/></g>
<g opacity="0.8"><path transform="translate(1734.0 403.0)" d="M0 0L12.25 -0.00M0 0L-6.13 -9.80M0 0L-6.12 9.80" fill="none" stroke="#000" stroke-width="4.0"/></g>
<g opacity="0.8"><path transform="translate(1773.0 367.0)" d="M0 0L12.25 -0.00M0 0L-6.13 -9.80M0 0L-6.12 9.80" fill="none" stroke="#000" stroke-width="4.0"/></g>
<g opacity="0.8"><path transform="translate(1839.0 246.0)" d="M0 0L12.25 -0.00M0 0L-6.13 -9.80M0 0L-6.12 9.80" fill="none" stroke="#000" stroke-width="4.0"/></g>
<g opacity="0.8"><path transform="translate(1964.0 200.0)" d="M0 0L12.25 -0.00M0 0L-6.13 -9.80M0 0L-6.12 9.80" fill="none" stroke="#000" stroke-width="4.0"/></g>
<g opacity="0.8"><path transform="translate(1990.0 192.0)" d="M0 0L12.25 -0.00M0 0L-6.13 -9.80M0 0L-6.12 9.80" fill="none" stroke="#000" stroke-width="4.0"/></g>
<path d="M1297.1 617.7L1388.3 646.4L1479.0 653.5L1552.4 638.6L1638.6 623.1L1710.0 586.5L1794.9 538.5L1878.9 456.0L1949.1 381.7" stroke="#550096" stroke-width="6.2" stroke-dasharray="23 10" fill="none" opacity="0.8"/>
<path d="M1297.1 613.7V621.7M1388.3 642.4V650.4M1479.0 649.5V657.5M1552.4 634.6V642.6M1638.6 619.1V627.1M1710.0 582.5V590.5M1794.9 534.5V542.5M1878.9 452.0V460.0M1949.1 377.7V385.7" stroke="#550096" stroke-width="5.8" fill="none" opacity="0.8"/>
<g opacity="0.8"><path transform="translate(1297.1 617.7)" d="M0 0L0.00 12.25M0 0L9.80 -6.12M0 0L-9.80 -6.12" fill="none" stroke="#000" stroke-width="4.0"/></g>
<g opacity="0.8"><path transform="translate(1388.3 646.4)" d="M0 0L0.00 12.25M0 0L9.80 -6.12M0 0L-9.80 -6.12" fill="none" stroke="#000" stroke-width="4.0"/></g>
<g opacity="0.8"><path transform="translate(1479.0 653.5)" d="M0 0L0.00 12.25M0 0L9.80 -6.12M0 0L-9.80 -6.12" fill="none" stroke="#000" stroke-width="4.0"/></g>
<g opacity="0.8"><path transform="translate(1552.4 638.6)" d="M0 0L0.00 12.25M0 0L9.80 -6.12M0 0L-9.80 -6.12" fill="none" stroke="#000" stroke-width="4.0"/></g>
<g opacity="0.8"><path transform="translate(1638.6 623.1)" d="M0 0L0.00 12.25M0 0L9.80 -6.12M0 0L-9.80 -6.12" fill="none" stroke="#000" stroke-width="4.0"/></g>
<g opacity="0.8"><path transform="translate(1710.0 586.5)" d="M0 0L0.00 12.25M0 0L9.80 -6.12M0 0L-9.80 -6.12" fill="none" stroke="#000" stroke-width="4.0"/></g>
<g opacity="0.8"><path transform="translate(1794.9 538.5)" d="M0 0L0.00 12.25M0 0L9.80 -6.12M0 0L-9.80 -6.12" fill="none" stroke="#000" stroke-width="4.0"/></g>
<g opacity="0.8"><path transform="translate(1878.9 456.0)" d="M0 0L0.00 12.25M0 0L9.80 -6.12M0 0L-9.80 -6.12" fill="none" stroke="#000" stroke-width="4.0"/></g>
<g opacity="0.8"><path transform="translate(1949.1 381.7)" d="M0 0L0.00 12.25M0 0L9.80 -6.12M0 0L-9.80 -6.12" fill="none" stroke="#000" stroke-width="4.0"/></g>
<path d="M1267.0 641.0L1302.0 713.0L1335.0 625.0L1420.0 605.0L1520.0 592.0L1640.0 572.0L1740.0 560.0L1822.0 551.0L2100.0 551.0" stroke="#20b2aa" stroke-width="6.2" stroke-dasharray="23 10" fill="none" opacity="0.8"/>
<path d="M1267.0 637.0V645.0M1302.0 685.0V741.0M1335.0 621.0V629.0M1420.0 601.0V609.0M1520.0 588.0V596.0M1640.0 568.0V576.0M1740.0 556.0V564.0M1822.0 547.0V555.0" stroke="#20b2aa" stroke-width="5.8" fill="none" opacity="0.8"/>
<g opacity="0.8"><circle cx="1267.0" cy="641.0" r="12.25" fill="#20b2aa" stroke="#000" stroke-width="4.0"/></g>
<g opacity="0.8"><circle cx="1302.0" cy="713.0" r="12.25" fill="#20b2aa" stroke="#000" stroke-width="4.0"/></g>
<g opacity="0.8"><circle cx="1335.0" cy="625.0" r="12.25" fill="#20b2aa" stroke="#000" stroke-width="4.0"/></g>
<g opacity="0.8"><circle cx="1420.0" cy="605.0" r="12.25" fill="#20b2aa" stroke="#000" stroke-width="4.0"/></g>
<g opacity="0.8"><circle cx="1520.0" cy="592.0" r="12.25" fill="#20b2aa" stroke="#000" stroke-width="4.0"/></g>
<g opacity="0.8"><circle cx="1640.0" cy="572.0" r="12.25" fill="#20b2aa" stroke="#000" stroke-width="4.0"/></g>
<g opacity="0.8"><circle cx="1740.0" cy="560.0" r="12.25" fill="#20b2aa" stroke="#000" stroke-width="4.0"/></g>
<g opacity="0.8"><circle cx="1822.0" cy="551.0" r="12.25" fill="#20b2aa" stroke="#000" stroke-width="4.0"/></g>
<g opacity="0.8"><circle cx="2100.0" cy="551.0" r="12.25" fill="#20b2aa" stroke="#000" stroke-width="4.0"/></g>
<path d="M1222.0 624.0L1271.0 462.0L1299.0 434.0L1364.0 468.0L1402.0 481.0L1490.0 544.0L1524.0 538.0L1587.0 515.0L1633.0 483.0L1700.0 370.0L1747.0 267.0L1990.0 112.0" stroke="#daa520" stroke-width="6.2" stroke-dasharray="23 10" fill="none" opacity="0.95"/>
<g opacity="1.0"><circle cx="1222.0" cy="624.0" r="12.25" fill="#daa520" stroke="#000" stroke-width="4.0"/></g>
<g opacity="1.0"><circle cx="1271.0" cy="462.0" r="12.25" fill="#daa520" stroke="#000" stroke-width="4.0"/></g>
<g opacity="1.0"><circle cx="1299.0" cy="434.0" r="12.25" fill="#daa520" stroke="#000" stroke-width="4.0"/></g>
<g opacity="1.0"><circle cx="1364.0" cy="468.0" r="12.25" fill="#daa520" stroke="#000" stroke-width="4.0"/></g>
<g opacity="1.0"><circle cx="1402.0" cy="481.0" r="12.25" fill="#daa520" stroke="#000" stroke-width="4.0"/></g>
<g opacity="1.0"><circle cx="1490.0" cy="544.0" r="12.25" fill="#daa520" stroke="#000" stroke-width="4.0"/></g>
<g opacity="1.0"><circle cx="1524.0" cy="538.0" r="12.25" fill="#daa520" stroke="#000" stroke-width="4.0"/></g>
<g opacity="1.0"><circle cx="1587.0" cy="515.0" r="12.25" fill="#daa520" stroke="#000" stroke-width="4.0"/></g>
<g opacity="1.0"><circle cx="1633.0" cy="483.0" r="12.25" fill="#daa520" stroke="#000" stroke-width="4.0"/></g>
<g opacity="1.0"><circle cx="1700.0" cy="370.0" r="12.25" fill="#daa520" stroke="#000" stroke-width="4.0"/></g>
<g opacity="1.0"><circle cx="1747.0" cy="267.0" r="12.25" fill="#daa520" stroke="#000" stroke-width="4.0"/></g>
<g opacity="1.0"><circle cx="1990.0" cy="112.0" r="12.25" fill="#daa520" stroke="#000" stroke-width="4.0"/></g>
<path d="M1187.0 594.0L1209.0 580.0L1236.0 626.0L1266.0 640.0L1334.0 626.0L1511.0 612.0L1618.0 587.0L1785.0 532.0L1836.0 513.0L1990.0 400.0" stroke="#daa520" stroke-width="6.2" stroke-dasharray="23 10" fill="none" opacity="0.95"/>
<path d="M1187.0 580.0V608.0M1209.0 566.0V594.0M1236.0 608.0V644.0" stroke="#daa520" stroke-width="5.8" fill="none" opacity="0.95"/>
<g opacity="1.0"><path transform="translate(1187.0 594.0)" d="M-12.25 -12.25L12.25 -12.25L12.25 12.25L-12.25 12.25Z" fill="#daa520" stroke="#000" stroke-width="4.0" stroke-linejoin="miter"/></g>
<g opacity="1.0"><path transform="translate(1209.0 580.0)" d="M-12.25 -12.25L12.25 -12.25L12.25 12.25L-12.25 12.25Z" fill="#daa520" stroke="#000" stroke-width="4.0" stroke-linejoin="miter"/></g>
<g opacity="1.0"><path transform="translate(1236.0 626.0)" d="M-12.25 -12.25L12.25 -12.25L12.25 12.25L-12.25 12.25Z" fill="#daa520" stroke="#000" stroke-width="4.0" stroke-linejoin="miter"/></g>
<g opacity="1.0"><path transform="translate(1266.0 640.0)" d="M-12.25 -12.25L12.25 -12.25L12.25 12.25L-12.25 12.25Z" fill="#daa520" stroke="#000" stroke-width="4.0" stroke-linejoin="miter"/></g>
<g opacity="1.0"><path transform="translate(1334.0 626.0)" d="M-12.25 -12.25L12.25 -12.25L12.25 12.25L-12.25 12.25Z" fill="#daa520" stroke="#000" stroke-width="4.0" stroke-linejoin="miter"/></g>
<g opacity="1.0"><path transform="translate(1511.0 612.0)" d="M-12.25 -12.25L12.25 -12.25L12.25 12.25L-12.25 12.25Z" fill="#daa520" stroke="#000" stroke-width="4.0" stroke-linejoin="miter"/></g>
<g opacity="1.0"><path transform="translate(1618.0 587.0)" d="M-12.25 -12.25L12.25 -12.25L12.25 12.25L-12.25 12.25Z" fill="#daa520" stroke="#000" stroke-width="4.0" stroke-linejoin="miter"/></g>
<g opacity="1.0"><path transform="translate(1785.0 532.0)" d="M-12.25 -12.25L12.25 -12.25L12.25 12.25L-12.25 12.25Z" fill="#daa520" stroke="#000" stroke-width="4.0" stroke-linejoin="miter"/></g>
<g opacity="1.0"><path transform="translate(1836.0 513.0)" d="M-12.25 -12.25L12.25 -12.25L12.25 12.25L-12.25 12.25Z" fill="#daa520" stroke="#000" stroke-width="4.0" stroke-linejoin="miter"/></g>
<g opacity="1.0"><path transform="translate(1990.0 400.0)" d="M-12.25 -12.25L12.25 -12.25L12.25 12.25L-12.25 12.25Z" fill="#daa520" stroke="#000" stroke-width="4.0" stroke-linejoin="miter"/></g>
<path d="M1345.0 571.0L1364.0 618.0L1444.0 570.0L1492.0 603.0L1565.0 601.0L1634.0 650.0L1930.0 456.0L1990.0 440.0" stroke="#daa520" stroke-width="6.2" stroke-dasharray="23 10" fill="none" opacity="0.95"/>
<g opacity="1.0"><path transform="translate(1345.0 571.0)" d="M0.00 -17.32L10.39 0.00L0.00 17.32L-10.39 0.00Z" fill="#daa520" stroke="#000" stroke-width="4.0" stroke-linejoin="miter"/></g>
<g opacity="1.0"><path transform="translate(1364.0 618.0)" d="M0.00 -17.32L10.39 0.00L0.00 17.32L-10.39 0.00Z" fill="#daa520" stroke="#000" stroke-width="4.0" stroke-linejoin="miter"/></g>
<g opacity="1.0"><path transform="translate(1444.0 570.0)" d="M0.00 -17.32L10.39 0.00L0.00 17.32L-10.39 0.00Z" fill="#daa520" stroke="#000" stroke-width="4.0" stroke-linejoin="miter"/></g>
<g opacity="1.0"><path transform="translate(1492.0 603.0)" d="M0.00 -17.32L10.39 0.00L0.00 17.32L-10.39 0.00Z" fill="#daa520" stroke="#000" stroke-width="4.0" stroke-linejoin="miter"/></g>
<g opacity="1.0"><path transform="translate(1565.0 601.0)" d="M0.00 -17.32L10.39 0.00L0.00 17.32L-10.39 0.00Z" fill="#daa520" stroke="#000" stroke-width="4.0" stroke-linejoin="miter"/></g>
<g opacity="1.0"><path transform="translate(1634.0 650.0)" d="M0.00 -17.32L10.39 0.00L0.00 17.32L-10.39 0.00Z" fill="#daa520" stroke="#000" stroke-width="4.0" stroke-linejoin="miter"/></g>
<g opacity="1.0"><path transform="translate(1930.0 456.0)" d="M0.00 -17.32L10.39 0.00L0.00 17.32L-10.39 0.00Z" fill="#daa520" stroke="#000" stroke-width="4.0" stroke-linejoin="miter"/></g>
<g opacity="1.0"><path transform="translate(1990.0 440.0)" d="M0.00 -17.32L10.39 0.00L0.00 17.32L-10.39 0.00Z" fill="#daa520" stroke="#000" stroke-width="4.0" stroke-linejoin="miter"/></g>
<path d="M1393.0 612.0L1586.0 604.0L1771.0 541.0L1810.0 513.0L1990.0 425.0" stroke="#daa520" stroke-width="6.2" stroke-dasharray="23 10" fill="none" opacity="0.95"/>
<g opacity="1.0"><path transform="translate(1393.0 612.0)" d="M-6.12 -12.25L0.00 -6.12L6.12 -12.25L12.25 -6.12L6.12 0.00L12.25 6.12L6.12 12.25L0.00 6.12L-6.12 12.25L-12.25 6.12L-6.12 0.00L-12.25 -6.12Z" fill="#daa520" stroke="#000" stroke-width="4.0" stroke-linejoin="miter"/></g>
<g opacity="1.0"><path transform="translate(1586.0 604.0)" d="M-6.12 -12.25L0.00 -6.12L6.12 -12.25L12.25 -6.12L6.12 0.00L12.25 6.12L6.12 12.25L0.00 6.12L-6.12 12.25L-12.25 6.12L-6.12 0.00L-12.25 -6.12Z" fill="#daa520" stroke="#000" stroke-width="4.0" stroke-linejoin="miter"/></g>
<g opacity="1.0"><path transform="translate(1771.0 541.0)" d="M-6.12 -12.25L0.00 -6.12L6.12 -12.25L12.25 -6.12L6.12 0.00L12.25 6.12L6.12 12.25L0.00 6.12L-6.12 12.25L-12.25 6.12L-6.12 0.00L-12.25 -6.12Z" fill="#daa520" stroke="#000" stroke-width="4.0" stroke-linejoin="miter"/></g>
<g opacity="1.0"><path transform="translate(1810.0 513.0)" d="M-6.12 -12.25L0.00 -6.12L6.12 -12.25L12.25 -6.12L6.12 0.00L12.25 6.12L6.12 12.25L0.00 6.12L-6.12 12.25L-12.25 6.12L-6.12 0.00L-12.25 -6.12Z" fill="#daa520" stroke="#000" stroke-width="4.0" stroke-linejoin="miter"/></g>
<g opacity="1.0"><path transform="translate(1990.0 425.0)" d="M-6.12 -12.25L0.00 -6.12L6.12 -12.25L12.25 -6.12L6.12 0.00L12.25 6.12L6.12 12.25L0.00 6.12L-6.12 12.25L-12.25 6.12L-6.12 0.00L-12.25 -6.12Z" fill="#daa520" stroke="#000" stroke-width="4.0" stroke-linejoin="miter"/></g>
<path d="M1357.0 525.0L1402.0 469.0L1479.0 462.0L1509.0 546.0L1535.0 521.0L1613.0 474.0L1658.0 491.0L1715.0 362.0L1880.0 235.0L1990.0 228.0" stroke="#daa520" stroke-width="6.2" stroke-dasharray="23 10" fill="none" opacity="0.95"/>
<path d="M1357.0 511.0V539.0M1402.0 455.0V483.0" stroke="#daa520" stroke-width="5.8" fill="none" opacity="0.95"/>
<g opacity="1.0"><path transform="translate(1357.0 525.0)" d="M0.00 -12.25L-11.65 -3.79L-7.20 9.91L7.20 9.91L11.65 -3.79Z" fill="#daa520" stroke="#000" stroke-width="4.0" stroke-linejoin="miter"/></g>
<g opacity="1.0"><path transform="translate(1402.0 469.0)" d="M0.00 -12.25L-11.65 -3.79L-7.20 9.91L7.20 9.91L11.65 -3.79Z" fill="#daa520" stroke="#000" stroke-width="4.0" stroke-linejoin="miter"/></g>
<g opacity="1.0"><path transform="translate(1479.0 462.0)" d="M0.00 -12.25L-11.65 -3.79L-7.20 9.91L7.20 9.91L11.65 -3.79Z" fill="#daa520" stroke="#000" stroke-width="4.0" stroke-linejoin="miter"/></g>
<g opacity="1.0"><path transform="translate(1509.0 546.0)" d="M0.00 -12.25L-11.65 -3.79L-7.20 9.91L7.20 9.91L11.65 -3.79Z" fill="#daa520" stroke="#000" stroke-width="4.0" stroke-linejoin="miter"/></g>
<g opacity="1.0"><path transform="translate(1535.0 521.0)" d="M0.00 -12.25L-11.65 -3.79L-7.20 9.91L7.20 9.91L11.65 -3.79Z" fill="#daa520" stroke="#000" stroke-width="4.0" stroke-linejoin="miter"/></g>
<g opacity="1.0"><path transform="translate(1613.0 474.0)" d="M0.00 -12.25L-11.65 -3.79L-7.20 9.91L7.20 9.91L11.65 -3.79Z" fill="#daa520" stroke="#000" stroke-width="4.0" stroke-linejoin="miter"/></g>
<g opacity="1.0"><path transform="translate(1658.0 491.0)" d="M0.00 -12.25L-11.65 -3.79L-7.20 9.91L7.20 9.91L11.65 -3.79Z" fill="#daa520" stroke="#000" stroke-width="4.0" stroke-linejoin="miter"/></g>
<g opacity="1.0"><path transform="translate(1715.0 362.0)" d="M0.00 -12.25L-11.65 -3.79L-7.20 9.91L7.20 9.91L11.65 -3.79Z" fill="#daa520" stroke="#000" stroke-width="4.0" stroke-linejoin="miter"/></g>
<g opacity="1.0"><path transform="translate(1880.0 235.0)" d="M0.00 -12.25L-11.65 -3.79L-7.20 9.91L7.20 9.91L11.65 -3.79Z" fill="#daa520" stroke="#000" stroke-width="4.0" stroke-linejoin="miter"/></g>
<g opacity="1.0"><path transform="translate(1990.0 228.0)" d="M0.00 -12.25L-11.65 -3.79L-7.20 9.91L7.20 9.91L11.65 -3.79Z" fill="#daa520" stroke="#000" stroke-width="4.0" stroke-linejoin="miter"/></g>
</g>
<path d="M131.40 779.50V739.00M131.40 2.50V43.00M172.48 779.50V759.00M172.48 2.50V23.00M213.55 779.50V759.00M213.55 2.50V23.00M254.62 779.50V759.00M254.62 2.50V23.00M295.70 779.50V759.00M295.70 2.50V23.00M336.77 779.50V739.00M336.77 2.50V43.00M377.85 779.50V759.00M377.85 2.50V23.00M418.92 779.50V759.00M418.92 2.50V23.00M460.00 779.50V759.00M460.00 2.50V23.00M501.08 779.50V759.00M501.08 2.50V23.00M542.15 779.50V739.00M542.15 2.50V43.00M583.23 779.50V759.00M583.23 2.50V23.00M624.30 779.50V759.00M624.30 2.50V23.00M665.38 779.50V759.00M665.38 2.50V23.00M706.45 779.50V759.00M706.45 2.50V23.00M747.52 779.50V739.00M747.52 2.50V43.00M788.60 779.50V759.00M788.60 2.50V23.00M829.67 779.50V759.00M829.67 2.50V23.00M870.75 779.50V759.00M870.75 2.50V23.00M911.82 779.50V759.00M911.82 2.50V23.00M952.90 779.50V739.00M952.90 2.50V43.00M131.40 722.00H171.90M952.90 722.00H912.40M131.40 546.50H171.90M952.90 546.50H912.40M131.40 371.00H171.90M952.90 371.00H912.40M131.40 195.50H171.90M952.90 195.50H912.40M131.40 20.00H171.90M952.90 20.00H912.40M131.40 757.10H151.90M952.90 757.10H932.40M131.40 686.90H151.90M952.90 686.90H932.40M131.40 651.80H151.90M952.90 651.80H932.40M131.40 616.70H151.90M952.90 616.70H932.40M131.40 581.60H151.90M952.90 581.60H932.40M131.40 511.40H151.90M952.90 511.40H932.40M131.40 476.30H151.90M952.90 476.30H932.40M131.40 441.20H151.90M952.90 441.20H932.40M131.40 406.10H151.90M952.90 406.10H932.40M131.40 335.90H151.90M952.90 335.90H932.40M131.40 300.80H151.90M952.90 300.80H932.40M131.40 265.70H151.90M952.90 265.70H932.40M131.40 230.60H151.90M952.90 230.60H932.40M131.40 160.40H151.90M952.90 160.40H932.40M131.40 125.30H151.90M952.90 125.30H932.40M131.40 90.20H151.90M952.90 90.20H932.40M131.40 55.10H151.90M952.90 55.10H932.40" stroke="#000" stroke-width="3" fill="none"/>
<rect x="131.40" y="2.50" width="821.50" height="777.00" stroke="#000" stroke-width="3.2" fill="none"/>
<text transform="translate(132.40 861.50) scale(1.05 1)" font-size="62" text-anchor="middle"><tspan font-size="69" dy="6.5">−</tspan><tspan dy="-6.5">20</tspan></text>
<text transform="translate(337.77 861.50) scale(1.05 1)" font-size="62" text-anchor="middle"><tspan font-size="69" dy="6.5">−</tspan><tspan dy="-6.5">10</tspan></text>
<text transform="translate(543.15 861.50) scale(1.05 1)" font-size="62" text-anchor="middle">0</text>
<text transform="translate(748.52 861.50) scale(1.05 1)" font-size="62" text-anchor="middle">10</text>
<text transform="translate(953.90 861.50) scale(1.05 1)" font-size="62" text-anchor="middle">20</text>
<text transform="translate(91.80 742.60) scale(1.05 1)" font-size="62" text-anchor="end">0</text>
<text transform="translate(91.80 567.10) scale(1.05 1)" font-size="62" text-anchor="end">1</text>
<text transform="translate(91.80 391.60) scale(1.05 1)" font-size="62" text-anchor="end">2</text>
<text transform="translate(91.80 216.10) scale(1.05 1)" font-size="62" text-anchor="end">3</text>
<text transform="translate(91.80 40.60) scale(1.05 1)" font-size="62" text-anchor="end">4</text>
<path d="M1150.50 779.40V738.90M1150.50 2.50V43.00M1191.56 779.40V758.90M1191.56 2.50V23.00M1232.62 779.40V758.90M1232.62 2.50V23.00M1273.68 779.40V758.90M1273.68 2.50V23.00M1314.74 779.40V758.90M1314.74 2.50V23.00M1355.80 779.40V738.90M1355.80 2.50V43.00M1396.86 779.40V758.90M1396.86 2.50V23.00M1437.92 779.40V758.90M1437.92 2.50V23.00M1478.98 779.40V758.90M1478.98 2.50V23.00M1520.04 779.40V758.90M1520.04 2.50V23.00M1561.10 779.40V738.90M1561.10 2.50V43.00M1602.16 779.40V758.90M1602.16 2.50V23.00M1643.22 779.40V758.90M1643.22 2.50V23.00M1684.28 779.40V758.90M1684.28 2.50V23.00M1725.34 779.40V758.90M1725.34 2.50V23.00M1766.40 779.40V738.90M1766.40 2.50V43.00M1807.46 779.40V758.90M1807.46 2.50V23.00M1848.52 779.40V758.90M1848.52 2.50V23.00M1889.58 779.40V758.90M1889.58 2.50V23.00M1930.64 779.40V758.90M1930.64 2.50V23.00M1971.70 779.40V738.90M1971.70 2.50V43.00M1150.50 626.40H1191.00M1971.70 626.40H1931.20M1150.50 455.20H1191.00M1971.70 455.20H1931.20M1150.50 284.00H1191.00M1971.70 284.00H1931.20M1150.50 112.80H1191.00M1971.70 112.80H1931.20M1150.50 763.36H1171.00M1971.70 763.36H1951.20M1150.50 729.12H1171.00M1971.70 729.12H1951.20M1150.50 694.88H1171.00M1971.70 694.88H1951.20M1150.50 660.64H1171.00M1971.70 660.64H1951.20M1150.50 592.16H1171.00M1971.70 592.16H1951.20M1150.50 557.92H1171.00M1971.70 557.92H1951.20M1150.50 523.68H1171.00M1971.70 523.68H1951.20M1150.50 489.44H1171.00M1971.70 489.44H1951.20M1150.50 420.96H1171.00M1971.70 420.96H1951.20M1150.50 386.72H1171.00M1971.70 386.72H1951.20M1150.50 352.48H1171.00M1971.70 352.48H1951.20M1150.50 318.24H1171.00M1971.70 318.24H1951.20M1150.50 249.76H1171.00M1971.70 249.76H1951.20M1150.50 215.52H1171.00M1971.70 215.52H1951.20M1150.50 181.28H1171.00M1971.70 181.28H1951.20M1150.50 147.04H1171.00M1971.70 147.04H1951.20M1150.50 78.56H1171.00M1971.70 78.56H1951.20M1150.50 44.32H1171.00M1971.70 44.32H1951.20M1150.50 10.08H1171.00M1971.70 10.08H1951.20" stroke="#000" stroke-width="3" fill="none"/>
<rect x="1150.50" y="2.50" width="821.20" height="776.90" stroke="#000" stroke-width="3.2" fill="none"/>
<text transform="translate(1151.50 861.50) scale(1.05 1)" font-size="62" text-anchor="middle"><tspan font-size="69" dy="6.5">−</tspan><tspan dy="-6.5">20</tspan></text>
<text transform="translate(1356.80 861.50) scale(1.05 1)" font-size="62" text-anchor="middle"><tspan font-size="69" dy="6.5">−</tspan><tspan dy="-6.5">10</tspan></text>
<text transform="translate(1562.10 861.50) scale(1.05 1)" font-size="62" text-anchor="middle">0</text>
<text transform="translate(1767.40 861.50) scale(1.05 1)" font-size="62" text-anchor="middle">10</text>
<text transform="translate(1972.70 861.50) scale(1.05 1)" font-size="62" text-anchor="middle">20</text>
<text transform="translate(1110.90 647.00) scale(1.05 1)" font-size="62" text-anchor="end">0.0</text>
<text transform="translate(1110.90 475.80) scale(1.05 1)" font-size="62" text-anchor="end">0.5</text>
<text transform="translate(1110.90 304.60) scale(1.05 1)" font-size="62" text-anchor="end">1.0</text>
<text transform="translate(1110.90 133.40) scale(1.05 1)" font-size="62" text-anchor="end">1.5</text>
<text transform="translate(541.35 930) scale(1.038 1)" font-size="48" text-anchor="middle">Time from <tspan font-style="italic">t</tspan><tspan font-style="italic" font-size="34" dy="-19">B</tspan><tspan font-style="italic" font-size="34" dx="-21" dy="32">max</tspan><tspan dy="-13"> [days]</tspan></text>
<text transform="translate(1560.30 930) scale(1.038 1)" font-size="48" text-anchor="middle">Time from <tspan font-style="italic">t</tspan><tspan font-style="italic" font-size="34" dy="-19">B</tspan><tspan font-style="italic" font-size="34" dx="-21" dy="32">max</tspan><tspan dy="-13"> [days]</tspan></text>
<text transform="translate(35.0 396.2) rotate(-90) scale(1.04 1)" font-size="48.5" text-anchor="middle">Observed Color [mag]</text>
<text x="558.5" y="699.4" font-size="50" font-style="italic">UVM<tspan font-style="normal">2</tspan></text>
<text x="697.5" y="707" font-size="60" stroke="#000" stroke-width="0.8">−</text>
<text x="736.5" y="699.4" font-size="50" font-style="italic">UVW<tspan font-style="normal">1</tspan></text>
<text x="1778" y="701.8" font-size="50" font-style="italic" font-weight="bold">B</text>
<text x="1816" y="709" font-size="61" font-weight="bold">−</text>
<text x="1857.5" y="701.8" font-size="50" font-style="italic" font-weight="bold">V</text>
<g opacity="0.8"><path d="M133.2 1007.7H200.2" stroke="#20b2aa" stroke-width="6.2" stroke-dasharray="23 10"/><path d="M166.1 991.3V1024.1" stroke="#20b2aa" stroke-width="5.8"/></g>
<g opacity="0.8"><circle cx="166.1" cy="1007.7" r="12.25" fill="#20b2aa" stroke="#000" stroke-width="4.0"/></g>
<text x="226.0" y="1020.1" font-size="33.7">ASASSN-14lp</text>
<g opacity="0.8"><path d="M133.2 1054.2H200.2" stroke="#550096" stroke-width="6.2" stroke-dasharray="23 10"/><path d="M166.1 1037.8V1070.7" stroke="#550096" stroke-width="5.8"/></g>
<g opacity="0.8"><circle cx="166.1" cy="1054.2" r="12.25" fill="#550096" stroke="#000" stroke-width="4.0"/></g>
<text x="226.0" y="1066.7" font-size="33.7">ASASSN-18bt</text>
<g opacity="0.8"><path d="M133.2 1100.8H200.2" stroke="#550096" stroke-width="6.2" stroke-dasharray="23 10"/><path d="M166.1 1084.4V1117.2" stroke="#550096" stroke-width="5.8"/></g>
<g opacity="0.8"><path transform="translate(166.1 1100.8)" d="M-12.25 -12.25L12.25 -12.25L12.25 12.25L-12.25 12.25Z" fill="#550096" stroke="#000" stroke-width="4.0" stroke-linejoin="miter"/></g>
<text x="226.0" y="1113.2" font-size="33.7">LSQ12gdj</text>
<g opacity="0.8"><path d="M133.2 1147.3H200.2" stroke="#20b2aa" stroke-width="6.2" stroke-dasharray="23 10"/><path d="M166.1 1130.9V1163.8" stroke="#20b2aa" stroke-width="5.8"/></g>
<g opacity="0.8"><path transform="translate(166.1 1147.3)" d="M-12.25 -12.25L12.25 -12.25L12.25 12.25L-12.25 12.25Z" fill="#20b2aa" stroke="#000" stroke-width="4.0" stroke-linejoin="miter"/></g>
<text x="223.5" y="1159.8" font-size="33.7">SN2009ig</text>
<g opacity="0.8"><path d="M133.2 1193.9H200.2" stroke="#20b2aa" stroke-width="6.2" stroke-dasharray="23 10"/><path d="M166.1 1177.5V1210.3" stroke="#20b2aa" stroke-width="5.8"/></g>
<g opacity="0.8"><path transform="translate(166.1 1193.9)" d="M0.00 -17.32L10.39 0.00L0.00 17.32L-10.39 0.00Z" fill="#20b2aa" stroke="#000" stroke-width="4.0" stroke-linejoin="miter"/></g>
<text x="223.5" y="1206.3" font-size="33.7">SN2011fe</text>
<g opacity="0.8"><path d="M133.2 1240.5H200.2" stroke="#550096" stroke-width="6.2" stroke-dasharray="23 10"/><path d="M166.1 1224.0V1256.9" stroke="#550096" stroke-width="5.8"/></g>
<g opacity="0.8"><path transform="translate(166.1 1240.5)" d="M0.00 -17.32L10.39 0.00L0.00 17.32L-10.39 0.00Z" fill="#550096" stroke="#000" stroke-width="4.0" stroke-linejoin="miter"/></g>
<text x="223.5" y="1252.9" font-size="33.7">SN2012cg</text>
<g opacity="0.8"><path d="M486.5 1007.7H553.5" stroke="#550096" stroke-width="6.2" stroke-dasharray="23 10"/><path d="M519.4 991.3V1024.1" stroke="#550096" stroke-width="5.8"/></g>
<g opacity="0.8"><path transform="translate(519.4 1007.7)" d="M-6.12 -12.25L0.00 -6.12L6.12 -12.25L12.25 -6.12L6.12 0.00L12.25 6.12L6.12 12.25L0.00 6.12L-6.12 12.25L-12.25 6.12L-6.12 0.00L-12.25 -6.12Z" fill="#550096" stroke="#000" stroke-width="4.0" stroke-linejoin="miter"/></g>
<text x="576.8" y="1020.1" font-size="33.7">SN2012fr</text>
<g opacity="0.8"><path d="M486.5 1054.2H553.5" stroke="#20b2aa" stroke-width="6.2" stroke-dasharray="23 10"/><path d="M519.4 1037.8V1070.7" stroke="#20b2aa" stroke-width="5.8"/></g>
<g opacity="0.8"><path transform="translate(519.4 1054.2)" d="M-6.12 -12.25L0.00 -6.12L6.12 -12.25L12.25 -6.12L6.12 0.00L12.25 6.12L6.12 12.25L0.00 6.12L-6.12 12.25L-12.25 6.12L-6.12 0.00L-12.25 -6.12Z" fill="#20b2aa" stroke="#000" stroke-width="4.0" stroke-linejoin="miter"/></g>
<text x="576.8" y="1066.7" font-size="33.7">SN2012ht</text>
<g opacity="0.8"><path d="M486.5 1100.8H553.5" stroke="#550096" stroke-width="6.2" stroke-dasharray="23 10"/><path d="M519.4 1084.4V1117.2" stroke="#550096" stroke-width="5.8"/></g>
<g opacity="0.8"><path transform="translate(519.4 1100.8)" d="M0.00 -12.25L-11.65 -3.79L-7.20 9.91L7.20 9.91L11.65 -3.79Z" fill="#550096" stroke="#000" stroke-width="4.0" stroke-linejoin="miter"/></g>
<text x="576.8" y="1113.2" font-size="33.7">SN2013dy</text>
<g opacity="0.8"><path d="M486.5 1147.3H553.5" stroke="#20b2aa" stroke-width="6.2" stroke-dasharray="23 10"/><path d="M519.4 1130.9V1163.8" stroke="#20b2aa" stroke-width="5.8"/></g>
<g opacity="0.8"><path transform="translate(519.4 1147.3)" d="M0.00 -12.25L-11.65 -3.79L-7.20 9.91L7.20 9.91L11.65 -3.79Z" fill="#20b2aa" stroke="#000" stroke-width="4.0" stroke-linejoin="miter"/></g>
<text x="576.8" y="1159.8" font-size="33.7">SN2013gy</text>
<g opacity="0.8"><path d="M486.5 1193.9H553.5" stroke="#20b2aa" stroke-width="6.2" stroke-dasharray="23 10"/><path d="M519.4 1177.5V1210.3" stroke="#20b2aa" stroke-width="5.8"/></g>
<g opacity="0.8"><path transform="translate(519.4 1193.9)" d="M0.00 -12.25L12.25 12.25L-12.25 12.25Z" fill="#20b2aa" stroke="#000" stroke-width="4.0" stroke-linejoin="miter"/></g>
<text x="576.8" y="1206.3" font-size="33.7">SN2015F</text>
<g opacity="0.8"><path d="M486.5 1240.5H553.5" stroke="#550096" stroke-width="6.2" stroke-dasharray="23 10"/><path d="M519.4 1224.0V1256.9" stroke="#550096" stroke-width="5.8"/></g>
<g opacity="0.8"><path transform="translate(519.4 1240.5)" d="M0.00 -12.25L12.25 12.25L-12.25 12.25Z" fill="#550096" stroke="#000" stroke-width="4.0" stroke-linejoin="miter"/></g>
<text x="576.8" y="1252.9" font-size="33.7">SN2017cbv</text>
<g opacity="0.8"><path d="M799.5 1007.7H866.5" stroke="#20b2aa" stroke-width="6.2" stroke-dasharray="23 10"/><path d="M832.4 991.3V1024.1" stroke="#20b2aa" stroke-width="5.8"/></g>
<g opacity="0.8"><path transform="translate(832.4 1007.7)" d="M12.25 0.00L-12.25 -12.25L-12.25 12.25Z" fill="#20b2aa" stroke="#000" stroke-width="4.0" stroke-linejoin="miter"/></g>
<text x="889.7" y="1020.1" font-size="33.7">SN2017cfd</text>
<g opacity="0.8"><path d="M799.5 1054.2H866.5" stroke="#20b2aa" stroke-width="6.2" stroke-dasharray="23 10"/><path d="M832.4 1037.8V1070.7" stroke="#20b2aa" stroke-width="5.8"/></g>
<g opacity="0.8"><path transform="translate(832.4 1054.2)" d="M-12.25 0.00L12.25 -12.25L12.25 12.25Z" fill="#20b2aa" stroke="#000" stroke-width="4.0" stroke-linejoin="miter"/></g>
<text x="889.7" y="1066.7" font-size="33.7">SN2017cyy</text>
<g opacity="0.8"><path d="M799.5 1100.8H866.5" stroke="#20b2aa" stroke-width="6.2" stroke-dasharray="23 10"/><path d="M832.4 1084.4V1117.2" stroke="#20b2aa" stroke-width="5.8"/></g>
<g opacity="0.8"><path transform="translate(832.4 1100.8)" d="M-4.08 -12.25L4.08 -12.25L4.08 -4.08L12.25 -4.08L12.25 4.08L4.08 4.08L4.08 12.25L-4.08 12.25L-4.08 4.08L-12.25 4.08L-12.25 -4.08L-4.08 -4.08Z" fill="#20b2aa" stroke="#000" stroke-width="4.0" stroke-linejoin="miter"/></g>
<text x="889.7" y="1113.2" font-size="33.7">SN2017erp</text>
<g opacity="0.8"><path d="M799.5 1147.3H866.5" stroke="#20b2aa" stroke-width="6.2" stroke-dasharray="23 10"/><path d="M832.4 1130.9V1163.8" stroke="#20b2aa" stroke-width="5.8"/></g>
<g opacity="0.8"><path transform="translate(832.4 1147.3)" d="M0.00 -12.25L-2.75 -3.79L-11.65 -3.79L-4.45 1.45L-7.20 9.91L-0.00 4.68L7.20 9.91L4.45 1.45L11.65 -3.79L2.75 -3.79Z" fill="#20b2aa" stroke="#000" stroke-width="4.0" stroke-linejoin="bevel"/></g>
<text x="889.7" y="1159.8" font-size="33.7">SN2017fgc</text>
<g opacity="0.8"><path d="M799.5 1193.9H866.5" stroke="#20b2aa" stroke-width="6.2" stroke-dasharray="23 10"/><path d="M832.4 1177.5V1210.3" stroke="#20b2aa" stroke-width="5.8"/></g>
<g opacity="0.8"><path transform="translate(832.4 1193.9)" d="M0.00 -12.25L-10.61 -6.12L-10.61 6.13L-0.00 12.25L10.61 6.13L10.61 -6.12Z" fill="#20b2aa" stroke="#000" stroke-width="4.0" stroke-linejoin="miter"/></g>
<text x="889.7" y="1206.3" font-size="33.7">SN2018aoz</text>
<g opacity="0.8"><path d="M799.5 1240.5H866.5" stroke="#20b2aa" stroke-width="6.2" stroke-dasharray="23 10"/><path d="M832.4 1224.0V1256.9" stroke="#20b2aa" stroke-width="5.8"/></g>
<g opacity="0.8"><path transform="translate(832.4 1240.5)" d="M-6.12 -10.61L-12.25 -0.00L-6.13 10.61L6.13 10.61L12.25 0.00L6.12 -10.61Z" fill="#20b2aa" stroke="#000" stroke-width="4.0" stroke-linejoin="miter"/></g>
<text x="889.7" y="1252.9" font-size="33.7">SN2018gv</text>
<g opacity="0.8"><path d="M1112.3 1007.7H1179.3" stroke="#20b2aa" stroke-width="6.2" stroke-dasharray="23 10"/><path d="M1145.2 991.3V1024.1" stroke="#20b2aa" stroke-width="5.8"/></g>
<g opacity="0.8"><circle cx="1145.2" cy="1007.7" r="6.12" fill="#20b2aa" stroke="#000" stroke-width="4.0"/></g>
<text x="1202.5" y="1020.1" font-size="33.7">SN2018xx</text>
<g opacity="0.8"><path d="M1112.3 1054.2H1179.3" stroke="#20b2aa" stroke-width="6.2" stroke-dasharray="23 10"/><path d="M1145.2 1037.8V1070.7" stroke="#20b2aa" stroke-width="5.8"/></g>
<g opacity="0.8"><path transform="translate(1145.2 1054.2)" d="M-12.25 0H12.25M0 -12.25V12.25" fill="none" stroke="#000" stroke-width="4.0"/></g>
<text x="1202.5" y="1066.7" font-size="33.7">SN2018yu</text>
<g opacity="0.8"><path d="M1112.3 1100.8H1179.3" stroke="#20b2aa" stroke-width="6.2" stroke-dasharray="23 10"/><path d="M1145.2 1084.4V1117.2" stroke="#20b2aa" stroke-width="5.8"/></g>
<g opacity="0.8"><path transform="translate(1145.2 1100.8)" d="M0.00 -17.32L17.32 0.00L0.00 17.32L-17.32 0.00Z" fill="#20b2aa" stroke="#000" stroke-width="4.0" stroke-linejoin="miter"/></g>
<text x="1202.5" y="1113.2" font-size="33.7">SN2019ein</text>
<g opacity="0.8"><path d="M1112.3 1147.3H1179.3" stroke="#550096" stroke-width="6.2" stroke-dasharray="23 10"/><path d="M1145.2 1130.9V1163.8" stroke="#550096" stroke-width="5.8"/></g>
<g opacity="0.8"><path transform="translate(1145.2 1147.3)" d="M12.25 0.00L-12.25 -12.25L-12.25 12.25Z" fill="#550096" stroke="#000" stroke-width="4.0" stroke-linejoin="miter"/></g>
<text x="1202.5" y="1159.8" font-size="33.7">SN2019np</text>
<g opacity="0.95"><path d="M1112.3 1193.9H1179.3" stroke="#daa520" stroke-width="6.2" stroke-dasharray="23 10"/><path d="M1145.2 1177.5V1210.3" stroke="#daa520" stroke-width="5.8"/></g>
<g opacity="1.0"><circle cx="1145.2" cy="1193.9" r="12.25" fill="#daa520" stroke="#000" stroke-width="4.0"/></g>
<text x="1202.5" y="1206.3" font-size="33.7">SN2019yvq</text>
<g opacity="0.95"><path d="M1112.3 1240.5H1179.3" stroke="#daa520" stroke-width="6.2" stroke-dasharray="23 10"/><path d="M1145.2 1224.0V1256.9" stroke="#daa520" stroke-width="5.8"/></g>
<g opacity="1.0"><path transform="translate(1145.2 1240.5)" d="M-12.25 -12.25L12.25 -12.25L12.25 12.25L-12.25 12.25Z" fill="#daa520" stroke="#000" stroke-width="4.0" stroke-linejoin="miter"/></g>
<text x="1202.5" y="1252.9" font-size="33.7">SN2020hvf</text>
<g opacity="0.8"><path d="M1427.3 1007.7H1494.3" stroke="#20b2aa" stroke-width="6.2" stroke-dasharray="23 10"/><path d="M1460.2 991.3V1024.1" stroke="#20b2aa" stroke-width="5.8"/></g>
<g opacity="0.8"><path transform="translate(1460.2 1007.7)" d="M0 0L0.00 12.25M0 0L9.80 -6.12M0 0L-9.80 -6.12" fill="none" stroke="#000" stroke-width="4.0"/></g>
<text x="1517.5" y="1020.1" font-size="33.7">SN2020nlb</text>
<g opacity="0.8"><path d="M1427.3 1054.2H1494.3" stroke="#550096" stroke-width="6.2" stroke-dasharray="23 10"/><path d="M1460.2 1037.8V1070.7" stroke="#550096" stroke-width="5.8"/></g>
<g opacity="0.8"><path transform="translate(1460.2 1054.2)" d="M0.00 -12.25L-2.75 -3.79L-11.65 -3.79L-4.45 1.45L-7.20 9.91L-0.00 4.68L7.20 9.91L4.45 1.45L11.65 -3.79L2.75 -3.79Z" fill="#550096" stroke="#000" stroke-width="4.0" stroke-linejoin="bevel"/></g>
<text x="1517.5" y="1066.7" font-size="33.7">SN2021aefx</text>
<g opacity="0.8"><path d="M1427.3 1100.8H1494.3" stroke="#20b2aa" stroke-width="6.2" stroke-dasharray="23 10"/><path d="M1460.2 1084.4V1117.2" stroke="#20b2aa" stroke-width="5.8"/></g>
<g opacity="0.8"><path transform="translate(1460.2 1100.8)" d="M0 0L-0.00 -12.25M0 0L-9.80 6.13M0 0L9.80 6.12" fill="none" stroke="#000" stroke-width="4.0"/></g>
<text x="1517.5" y="1113.2" font-size="33.7">SN2021fxy</text>
<g opacity="0.8"><path d="M1427.3 1147.3H1494.3" stroke="#550096" stroke-width="6.2" stroke-dasharray="23 10"/><path d="M1460.2 1130.9V1163.8" stroke="#550096" stroke-width="5.8"/></g>
<g opacity="0.8"><path transform="translate(1460.2 1147.3)" d="M0.00 -12.25L-10.61 -6.12L-10.61 6.13L-0.00 12.25L10.61 6.13L10.61 -6.12Z" fill="#550096" stroke="#000" stroke-width="4.0" stroke-linejoin="miter"/></g>
<text x="1517.5" y="1159.8" font-size="33.7">SN2021hpr</text>
<g opacity="0.95"><path d="M1427.3 1193.9H1494.3" stroke="#daa520" stroke-width="6.2" stroke-dasharray="23 10"/><path d="M1460.2 1177.5V1210.3" stroke="#daa520" stroke-width="5.8"/></g>
<g opacity="1.0"><path transform="translate(1460.2 1193.9)" d="M0.00 -17.32L10.39 0.00L0.00 17.32L-10.39 0.00Z" fill="#daa520" stroke="#000" stroke-width="4.0" stroke-linejoin="miter"/></g>
<text x="1517.5" y="1206.3" font-size="33.7">SN2021zny</text>
<g opacity="0.95"><path d="M1427.3 1240.5H1494.3" stroke="#daa520" stroke-width="6.2" stroke-dasharray="23 10"/><path d="M1460.2 1224.0V1256.9" stroke="#daa520" stroke-width="5.8"/></g>
<g opacity="1.0"><path transform="translate(1460.2 1240.5)" d="M-6.12 -12.25L0.00 -6.12L6.12 -12.25L12.25 -6.12L6.12 0.00L12.25 6.12L6.12 12.25L0.00 6.12L-6.12 12.25L-12.25 6.12L-6.12 0.00L-12.25 -6.12Z" fill="#daa520" stroke="#000" stroke-width="4.0" stroke-linejoin="miter"/></g>
<text x="1517.5" y="1252.9" font-size="33.7">SN2022ilv</text>
<g opacity="0.8"><path d="M1749.3 1007.7H1816.3" stroke="#550096" stroke-width="6.2" stroke-dasharray="23 10"/><path d="M1782.2 991.3V1024.1" stroke="#550096" stroke-width="5.8"/></g>
<g opacity="0.8"><path transform="translate(1782.2 1007.7)" d="M-12.25 0H12.25M0 -12.25V12.25" fill="none" stroke="#000" stroke-width="4.0"/></g>
<text x="1839.1" y="1020.1" font-size="33.7">SN2023bee</text>
<g opacity="0.8"><path d="M1749.3 1054.2H1816.3" stroke="#20b2aa" stroke-width="6.2" stroke-dasharray="23 10"/><path d="M1782.2 1037.8V1070.7" stroke="#20b2aa" stroke-width="5.8"/></g>
<g opacity="0.8"><path transform="translate(1782.2 1054.2)" d="M0 0L-12.25 0.00M0 0L6.12 9.80M0 0L6.12 -9.80" fill="none" stroke="#000" stroke-width="4.0"/></g>
<text x="1841.6" y="1066.7" font-size="33.7">iPTF13dge</text>
<g opacity="0.8"><path d="M1749.3 1100.8H1816.3" stroke="#20b2aa" stroke-width="6.2" stroke-dasharray="23 10"/><path d="M1782.2 1084.4V1117.2" stroke="#20b2aa" stroke-width="5.8"/></g>
<g opacity="0.8"><path transform="translate(1782.2 1100.8)" d="M0 0L12.25 -0.00M0 0L-6.13 -9.80M0 0L-6.12 9.80" fill="none" stroke="#000" stroke-width="4.0"/></g>
<text x="1841.6" y="1113.2" font-size="33.7">iPTF13ebh</text>
<g opacity="0.95"><path d="M1749.3 1147.3H1816.3" stroke="#daa520" stroke-width="6.2" stroke-dasharray="23 10"/><path d="M1782.2 1130.9V1163.8" stroke="#daa520" stroke-width="5.8"/></g>
<g opacity="1.0"><path transform="translate(1782.2 1147.3)" d="M0.00 -12.25L-11.65 -3.79L-7.20 9.91L7.20 9.91L11.65 -3.79Z" fill="#daa520" stroke="#000" stroke-width="4.0" stroke-linejoin="miter"/></g>
<text x="1841.6" y="1159.8" font-size="33.7">iPTF14atg</text>
<g opacity="0.8"><path d="M1749.3 1193.9H1816.3" stroke="#550096" stroke-width="6.2" stroke-dasharray="23 10"/><path d="M1782.2 1177.5V1210.3" stroke="#550096" stroke-width="5.8"/></g>
<g opacity="0.8"><path transform="translate(1782.2 1193.9)" d="M0 0L0.00 12.25M0 0L9.80 -6.12M0 0L-9.80 -6.12" fill="none" stroke="#000" stroke-width="4.0"/></g>
<text x="1841.6" y="1206.3" font-size="33.7">iPTF14bdn</text>
<g opacity="0.8"><path d="M1749.3 1240.5H1816.3" stroke="#20b2aa" stroke-width="6.2" stroke-dasharray="23 10"/><path d="M1782.2 1224.0V1256.9" stroke="#20b2aa" stroke-width="5.8"/></g>
<g opacity="0.8"><circle cx="1782.2" cy="1240.5" r="12.25" fill="#20b2aa" stroke="#000" stroke-width="4.0"/></g>
<text x="1841.6" y="1252.9" font-size="33.7">iPTF16abc</text>
</svg></body></html>
